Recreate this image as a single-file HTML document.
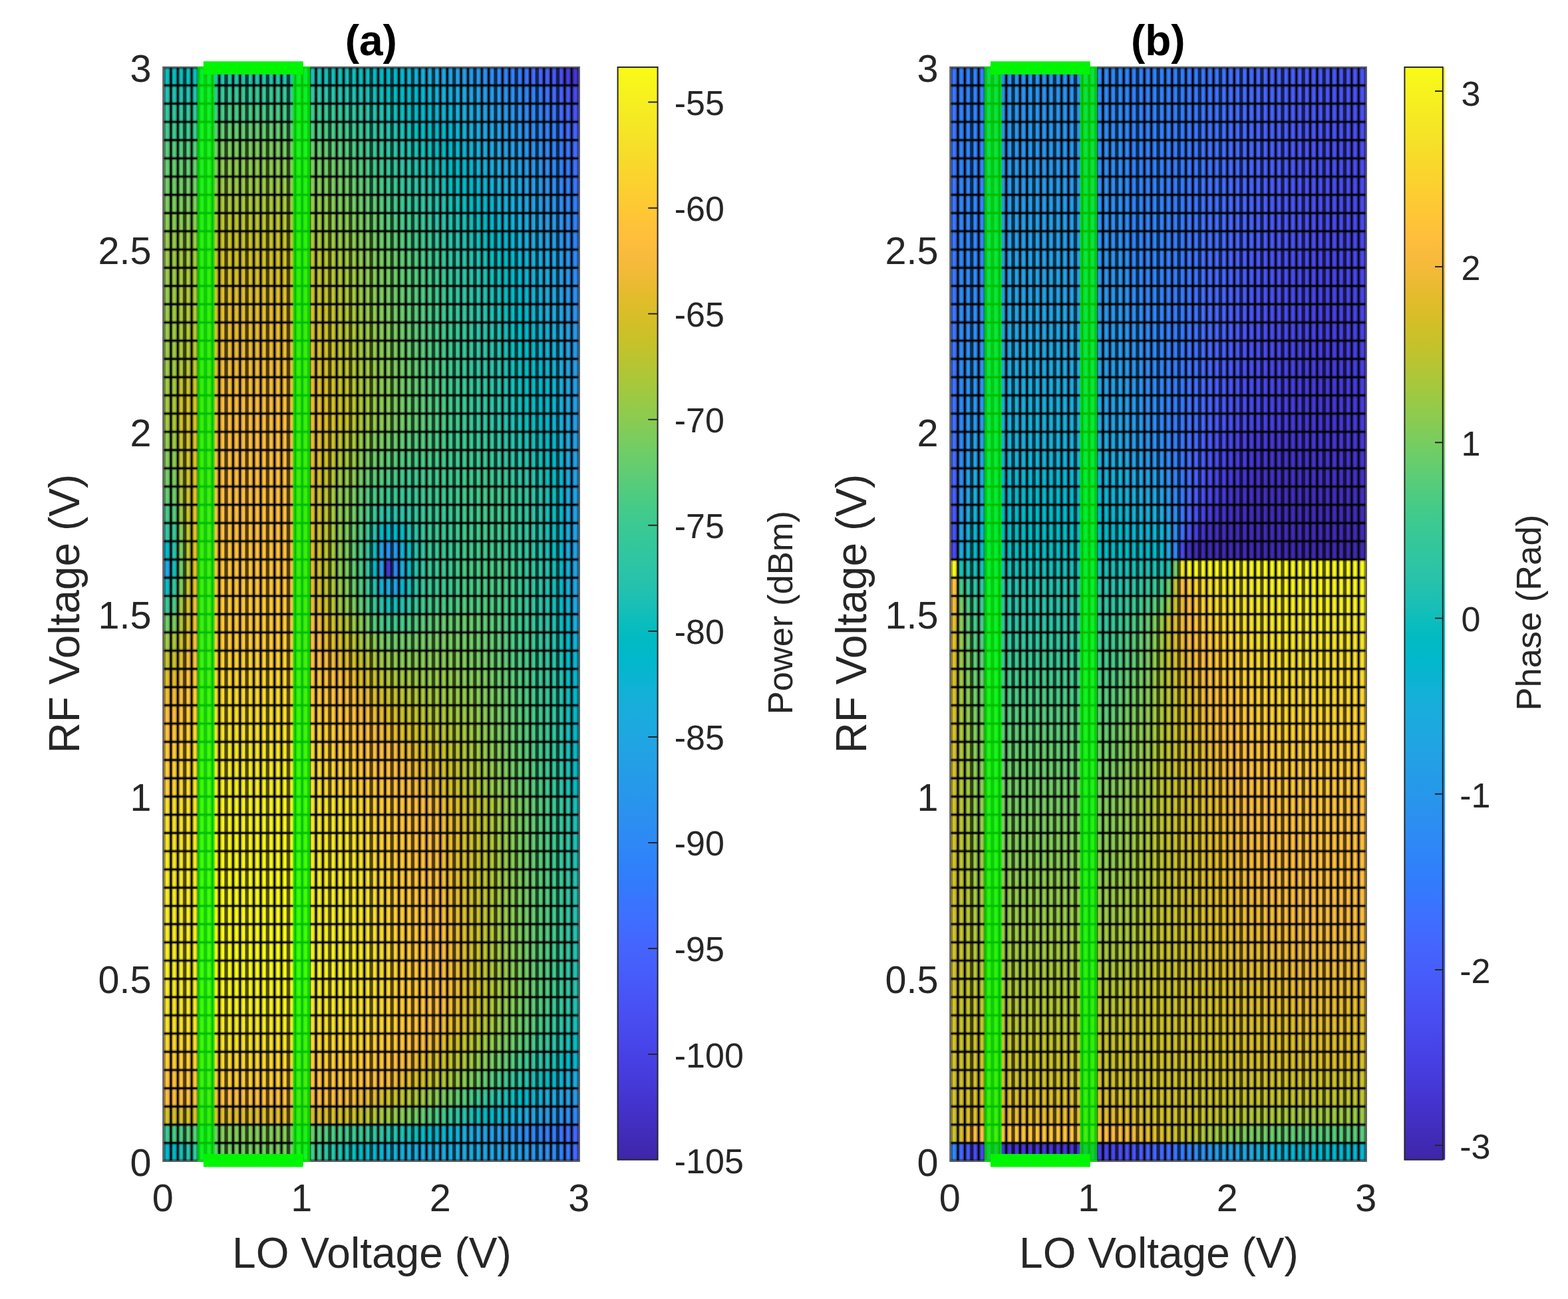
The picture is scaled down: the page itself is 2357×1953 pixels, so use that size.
<!DOCTYPE html>
<html lang="en"><head><meta charset="utf-8"><title>Power and phase vs LO / RF voltage</title>
<style>
html,body{margin:0;padding:0;background:#fff}
body{width:2357px;height:1953px;overflow:hidden}
svg{display:block}
text{font-family:"Liberation Sans", Arial, Helvetica, sans-serif;fill:#262626}
.c rect{width:10.9px;height:27.9px}
.vh{stroke:#000;stroke-opacity:.36;stroke-width:6;fill:none}
.hh{stroke:#000;stroke-opacity:.33;stroke-width:5.5;fill:none}
.vf{stroke:#000;stroke-opacity:.5;stroke-width:4.6;fill:none}
.vc{stroke:#000;stroke-width:2.3;fill:none}
.hc{stroke:#000;stroke-width:2.2;fill:none}
.bd{fill:none;stroke:#5a5a5a;stroke-width:2.2}
.cbd{fill:none;stroke:#262626;stroke-width:2}
.tk{stroke:#262626;stroke-width:2;fill:none}
.gv{fill:#00ff00;fill-opacity:.74}
.gh{fill:#00f500}
.t{font-size:57.5px}
.l{font-size:64px}
.ct{font-size:52px}
.cl{font-size:52.5px}
.ti{font-size:64px;font-weight:bold;fill:#000}
</style></head><body>
<svg xmlns="http://www.w3.org/2000/svg" width="2357" height="1953" viewBox="0 0 2357 1953">
<defs><linearGradient id="par" x1="0" y1="0" x2="0" y2="1"><stop offset="0%" stop-color="#f9fb15"/><stop offset="1.59%" stop-color="#f7f51b"/><stop offset="3.17%" stop-color="#f6ef20"/><stop offset="4.76%" stop-color="#f5e924"/><stop offset="6.35%" stop-color="#f5e327"/><stop offset="7.94%" stop-color="#f7dc2a"/><stop offset="9.52%" stop-color="#fad62d"/><stop offset="11.11%" stop-color="#fccf30"/><stop offset="12.7%" stop-color="#fec934"/><stop offset="14.29%" stop-color="#fec338"/><stop offset="15.87%" stop-color="#febe3c"/><stop offset="17.46%" stop-color="#f8ba3d"/><stop offset="19.05%" stop-color="#f0ba36"/><stop offset="20.63%" stop-color="#e6bb2d"/><stop offset="22.22%" stop-color="#dcbd29"/><stop offset="23.81%" stop-color="#d1bf27"/><stop offset="25.4%" stop-color="#c5c22a"/><stop offset="26.98%" stop-color="#b9c431"/><stop offset="28.57%" stop-color="#abc739"/><stop offset="30.16%" stop-color="#9dc943"/><stop offset="31.75%" stop-color="#8fcb4e"/><stop offset="33.33%" stop-color="#81cc59"/><stop offset="34.92%" stop-color="#72cd64"/><stop offset="36.51%" stop-color="#64cd6f"/><stop offset="38.1%" stop-color="#57cc7a"/><stop offset="39.68%" stop-color="#4acb84"/><stop offset="41.27%" stop-color="#3fca8e"/><stop offset="42.86%" stop-color="#37c897"/><stop offset="44.44%" stop-color="#31c69f"/><stop offset="46.03%" stop-color="#2cc4a7"/><stop offset="47.62%" stop-color="#24c1ae"/><stop offset="49.21%" stop-color="#19bfb6"/><stop offset="50.79%" stop-color="#0bbdbd"/><stop offset="52.38%" stop-color="#02bac3"/><stop offset="53.97%" stop-color="#01b8ca"/><stop offset="55.56%" stop-color="#08b5d0"/><stop offset="57.14%" stop-color="#12b1d6"/><stop offset="58.73%" stop-color="#18addb"/><stop offset="60.32%" stop-color="#1ca9df"/><stop offset="61.9%" stop-color="#20a5e3"/><stop offset="63.49%" stop-color="#23a0e5"/><stop offset="65.08%" stop-color="#259be8"/><stop offset="66.67%" stop-color="#2797eb"/><stop offset="68.25%" stop-color="#2b91ef"/><stop offset="69.84%" stop-color="#2d8cf3"/><stop offset="71.43%" stop-color="#2e87f7"/><stop offset="73.02%" stop-color="#2f81fa"/><stop offset="74.6%" stop-color="#327cfc"/><stop offset="76.19%" stop-color="#3875fe"/><stop offset="77.78%" stop-color="#3e6fff"/><stop offset="79.37%" stop-color="#4269fe"/><stop offset="80.95%" stop-color="#4563fd"/><stop offset="82.54%" stop-color="#465efb"/><stop offset="84.13%" stop-color="#4758f8"/><stop offset="85.71%" stop-color="#4852f4"/><stop offset="87.3%" stop-color="#484df0"/><stop offset="88.89%" stop-color="#4747eb"/><stop offset="90.48%" stop-color="#4741e5"/><stop offset="92.06%" stop-color="#463cde"/><stop offset="93.65%" stop-color="#4537d5"/><stop offset="95.24%" stop-color="#4332cb"/><stop offset="96.83%" stop-color="#422ec0"/><stop offset="98.41%" stop-color="#402ab4"/><stop offset="100%" stop-color="#3e26a8"/></linearGradient><clipPath id="clipa"><rect x="245.3" y="101" width="625.5" height="1644.8"/></clipPath><clipPath id="clipb"><rect x="1428.3" y="101" width="625.5" height="1644.8"/></clipPath></defs>
<rect width="2357" height="1953" fill="#fff"/>
<g class="c" transform="translate(246.5 101)">
<g transform="translate(0 0)"><rect x="0" fill="#0abdbd" style="width:52.32px"/><rect x="51.92" fill="#11beba"/><rect x="62.31" fill="#18bfb6"/><rect x="72.69" fill="#1fc0b2"/><rect x="83.08" fill="#24c2ae" style="width:93.86px"/><rect x="176.54" fill="#22c1af"/><rect x="186.93" fill="#20c1b1"/><rect x="197.31" fill="#1ec0b2"/><rect x="207.7" fill="#1bc0b4"/><rect x="218.08" fill="#19bfb5"/><rect x="228.47" fill="#16bfb7"/><rect x="238.85" fill="#15bfb7"/><rect x="249.24" fill="#14beb8"/><rect x="259.62" fill="#13beb9"/><rect x="270.01" fill="#12beb9"/><rect x="280.39" fill="#0ebdbb"/><rect x="290.78" fill="#0abdbd"/><rect x="301.16" fill="#07bcc0"/><rect x="311.55" fill="#04bbc2"/><rect x="321.93" fill="#02bac5"/><rect x="332.32" fill="#01b8c8"/><rect x="342.7" fill="#02b7cb"/><rect x="353.09" fill="#05b6ce"/><rect x="363.47" fill="#0ab4d2"/><rect x="373.86" fill="#11b1d6"/><rect x="384.24" fill="#15afd9"/><rect x="394.63" fill="#19addc"/><rect x="405.01" fill="#1ca9df"/><rect x="415.4" fill="#1fa6e2"/><rect x="425.78" fill="#21a3e3"/><rect x="436.17" fill="#23a0e5"/><rect x="446.55" fill="#259ce7"/><rect x="456.94" fill="#2699ea"/><rect x="467.32" fill="#2995ec"/><rect x="477.71" fill="#2b91ef"/><rect x="488.09" fill="#2d8df3"/><rect x="498.48" fill="#2d88f6"/><rect x="508.86" fill="#2e84f8"/><rect x="519.25" fill="#3080fb"/><rect x="529.63" fill="#347afd"/><rect x="540.02" fill="#3974fe"/><rect x="550.4" fill="#406cfe"/><rect x="560.79" fill="#4465fd"/><rect x="571.17" fill="#465ffb"/><rect x="581.56" fill="#4758f8"/><rect x="591.94" fill="#484ef1"/><rect x="602.33" fill="#473fe3"/><rect x="612.71" fill="#4536d3"/></g>
<g transform="translate(0 27.41)"><rect x="0" fill="#21c1b0" style="width:52.32px"/><rect x="51.92" fill="#28c3aa"/><rect x="62.31" fill="#2ec4a5"/><rect x="72.69" fill="#32c69e"/><rect x="83.08" fill="#37c898" style="width:93.86px"/><rect x="176.54" fill="#35c79a"/><rect x="186.93" fill="#34c79c"/><rect x="197.31" fill="#32c69e"/><rect x="207.7" fill="#31c6a0"/><rect x="218.08" fill="#2fc5a3"/><rect x="228.47" fill="#2ec4a5"/><rect x="238.85" fill="#2cc4a7"/><rect x="249.24" fill="#29c3a9"/><rect x="259.62" fill="#27c2ac"/><rect x="270.01" fill="#24c2ae"/><rect x="280.39" fill="#20c1b1"/><rect x="290.78" fill="#1cc0b4"/><rect x="301.16" fill="#17bfb6"/><rect x="311.55" fill="#12beb9"/><rect x="321.93" fill="#0bbdbc"/><rect x="332.32" fill="#07bcc0"/><rect x="342.7" fill="#02bbc3"/><rect x="353.09" fill="#01b9c6"/><rect x="363.47" fill="#01b8c9"/><rect x="373.86" fill="#04b6cd"/><rect x="384.24" fill="#08b4d0"/><rect x="394.63" fill="#0eb3d4"/><rect x="405.01" fill="#13b0d7"/><rect x="415.4" fill="#17aeda"/><rect x="425.78" fill="#1aabdd"/><rect x="436.17" fill="#1da9e0"/><rect x="446.55" fill="#1fa6e2"/><rect x="456.94" fill="#21a3e3"/><rect x="467.32" fill="#23a0e5"/><rect x="477.71" fill="#249de7"/><rect x="488.09" fill="#2699e9"/><rect x="498.48" fill="#2895ec"/><rect x="508.86" fill="#2b91ef"/><rect x="519.25" fill="#2d8df2"/><rect x="529.63" fill="#2d89f5"/><rect x="540.02" fill="#2e85f8"/><rect x="550.4" fill="#2f81fa"/><rect x="560.79" fill="#327cfc"/><rect x="571.17" fill="#3a73fe"/><rect x="581.56" fill="#416bfe"/><rect x="591.94" fill="#4660fc"/><rect x="602.33" fill="#4757f7"/><rect x="612.71" fill="#4848ec"/></g>
<g transform="translate(0 54.83)"><rect x="0" fill="#33c69d" style="width:52.32px"/><rect x="51.92" fill="#37c898"/><rect x="62.31" fill="#3bc992"/><rect x="72.69" fill="#41ca8c"/><rect x="83.08" fill="#48cb86" style="width:93.86px"/><rect x="176.54" fill="#46cb88"/><rect x="186.93" fill="#43ca8a"/><rect x="197.31" fill="#41ca8c"/><rect x="207.7" fill="#3fca8e"/><rect x="218.08" fill="#3dc990"/><rect x="228.47" fill="#3bc992"/><rect x="238.85" fill="#39c895"/><rect x="249.24" fill="#37c898"/><rect x="259.62" fill="#35c79a"/><rect x="270.01" fill="#33c69d"/><rect x="280.39" fill="#30c5a1"/><rect x="290.78" fill="#2ec4a5"/><rect x="301.16" fill="#2bc3a8"/><rect x="311.55" fill="#27c2ac"/><rect x="321.93" fill="#21c1b0"/><rect x="332.32" fill="#1ac0b5"/><rect x="342.7" fill="#12beb9"/><rect x="353.09" fill="#0abdbd"/><rect x="363.47" fill="#05bbc1"/><rect x="373.86" fill="#02bac5"/><rect x="384.24" fill="#01b8c8"/><rect x="394.63" fill="#03b7cc"/><rect x="405.01" fill="#07b5cf"/><rect x="415.4" fill="#0cb3d3"/><rect x="425.78" fill="#11b1d6"/><rect x="436.17" fill="#15afd9"/><rect x="446.55" fill="#19acdc"/><rect x="456.94" fill="#1ca9df"/><rect x="467.32" fill="#1fa6e1"/><rect x="477.71" fill="#21a3e3"/><rect x="488.09" fill="#249fe5"/><rect x="498.48" fill="#259ce7"/><rect x="508.86" fill="#2798ea"/><rect x="519.25" fill="#2994ed"/><rect x="529.63" fill="#2c90f0"/><rect x="540.02" fill="#2d8cf3"/><rect x="550.4" fill="#2d87f6"/><rect x="560.79" fill="#2e83f9"/><rect x="571.17" fill="#327cfc"/><rect x="581.56" fill="#3974fe"/><rect x="591.94" fill="#416bfe"/><rect x="602.33" fill="#4563fd"/><rect x="612.71" fill="#4853f5"/></g>
<g transform="translate(0 82.24)"><rect x="0" fill="#3eca8f" style="width:52.32px"/><rect x="51.92" fill="#46cb88"/><rect x="62.31" fill="#50cc80"/><rect x="72.69" fill="#5acc78"/><rect x="83.08" fill="#64cd6f" style="width:93.86px"/><rect x="176.54" fill="#60cd72"/><rect x="186.93" fill="#5ccc76"/><rect x="197.31" fill="#58cc79"/><rect x="207.7" fill="#54cc7d"/><rect x="218.08" fill="#50cc80"/><rect x="228.47" fill="#4ccb83"/><rect x="238.85" fill="#49cb85"/><rect x="249.24" fill="#46cb88"/><rect x="259.62" fill="#44ca8a"/><rect x="270.01" fill="#41ca8c"/><rect x="280.39" fill="#3bc992"/><rect x="290.78" fill="#37c898"/><rect x="301.16" fill="#33c69d"/><rect x="311.55" fill="#2fc5a2"/><rect x="321.93" fill="#2cc4a7"/><rect x="332.32" fill="#27c2ac"/><rect x="342.7" fill="#21c1b0"/><rect x="353.09" fill="#1ac0b5"/><rect x="363.47" fill="#12beb9"/><rect x="373.86" fill="#0abdbd"/><rect x="384.24" fill="#04bbc2"/><rect x="394.63" fill="#01b9c6"/><rect x="405.01" fill="#01b8c9"/><rect x="415.4" fill="#04b6cd"/><rect x="425.78" fill="#08b4d0"/><rect x="436.17" fill="#0eb3d4"/><rect x="446.55" fill="#14b0d8"/><rect x="456.94" fill="#18addb"/><rect x="467.32" fill="#1baade"/><rect x="477.71" fill="#1ea7e1"/><rect x="488.09" fill="#21a4e3"/><rect x="498.48" fill="#23a0e5"/><rect x="508.86" fill="#259ce7"/><rect x="519.25" fill="#2699ea"/><rect x="529.63" fill="#2995ec"/><rect x="540.02" fill="#2b91ef"/><rect x="550.4" fill="#2d8df3"/><rect x="560.79" fill="#2d88f6"/><rect x="571.17" fill="#2e84f8"/><rect x="581.56" fill="#3080fb"/><rect x="591.94" fill="#3876fe"/><rect x="602.33" fill="#406cfe"/><rect x="612.71" fill="#4561fc"/></g>
<g transform="translate(0 109.65)"><rect x="0" fill="#54cc7d" style="width:52.32px"/><rect x="51.92" fill="#5dcc75"/><rect x="62.31" fill="#66cd6d"/><rect x="72.69" fill="#70cd65"/><rect x="83.08" fill="#7acc5d" style="width:93.86px"/><rect x="176.54" fill="#76cc60"/><rect x="186.93" fill="#72cd63"/><rect x="197.31" fill="#6fcd66"/><rect x="207.7" fill="#6bcd69"/><rect x="218.08" fill="#67cd6c"/><rect x="228.47" fill="#64cd6f"/><rect x="238.85" fill="#60cd72"/><rect x="249.24" fill="#5ccc76"/><rect x="259.62" fill="#58cc79"/><rect x="270.01" fill="#54cc7d"/><rect x="280.39" fill="#4bcb84"/><rect x="290.78" fill="#43ca8b"/><rect x="301.16" fill="#3cc991"/><rect x="311.55" fill="#37c898"/><rect x="321.93" fill="#33c69d"/><rect x="332.32" fill="#2fc5a2"/><rect x="342.7" fill="#2cc4a7"/><rect x="353.09" fill="#27c2ac"/><rect x="363.47" fill="#21c1b0"/><rect x="373.86" fill="#1ac0b5"/><rect x="384.24" fill="#12beb9"/><rect x="394.63" fill="#0abdbd"/><rect x="405.01" fill="#04bbc2"/><rect x="415.4" fill="#01b9c6"/><rect x="425.78" fill="#01b8ca"/><rect x="436.17" fill="#05b6ce"/><rect x="446.55" fill="#0bb3d2"/><rect x="456.94" fill="#12b1d6"/><rect x="467.32" fill="#17aeda"/><rect x="477.71" fill="#1aabdd"/><rect x="488.09" fill="#1da8e0"/><rect x="498.48" fill="#1fa5e2"/><rect x="508.86" fill="#22a2e4"/><rect x="519.25" fill="#249fe6"/><rect x="529.63" fill="#259be8"/><rect x="540.02" fill="#2797eb"/><rect x="550.4" fill="#2a93ee"/><rect x="560.79" fill="#2c8ff1"/><rect x="571.17" fill="#2d8af4"/><rect x="581.56" fill="#2e85f8"/><rect x="591.94" fill="#317efb"/><rect x="602.33" fill="#3876fe"/><rect x="612.71" fill="#416bfe"/></g>
<g transform="translate(0 137.07)"><rect x="0" fill="#64cd6f" style="width:52.32px"/><rect x="51.92" fill="#6ecd67"/><rect x="62.31" fill="#78cc5f"/><rect x="72.69" fill="#83cc57"/><rect x="83.08" fill="#8dcb4f" style="width:93.86px"/><rect x="176.54" fill="#89cb52"/><rect x="186.93" fill="#85cb55"/><rect x="197.31" fill="#81cc58"/><rect x="207.7" fill="#7dcc5b"/><rect x="218.08" fill="#7acc5e"/><rect x="228.47" fill="#76cc61"/><rect x="238.85" fill="#71cd64"/><rect x="249.24" fill="#6dcd68"/><rect x="259.62" fill="#68cd6b"/><rect x="270.01" fill="#64cd6f"/><rect x="280.39" fill="#5bcc77"/><rect x="290.78" fill="#52cc7e"/><rect x="301.16" fill="#49cb85"/><rect x="311.55" fill="#41ca8c"/><rect x="321.93" fill="#3bc993"/><rect x="332.32" fill="#36c799"/><rect x="342.7" fill="#32c69f"/><rect x="353.09" fill="#2ec4a5"/><rect x="363.47" fill="#29c3a9"/><rect x="373.86" fill="#24c2ae"/><rect x="384.24" fill="#1ec0b2"/><rect x="394.63" fill="#16bfb7"/><rect x="405.01" fill="#0ebdbb"/><rect x="415.4" fill="#07bcc0"/><rect x="425.78" fill="#02bac4"/><rect x="436.17" fill="#01b8c8"/><rect x="446.55" fill="#04b6cc"/><rect x="456.94" fill="#09b4d1"/><rect x="467.32" fill="#10b2d5"/><rect x="477.71" fill="#15afd9"/><rect x="488.09" fill="#19acdc"/><rect x="498.48" fill="#1ca9df"/><rect x="508.86" fill="#1fa6e1"/><rect x="519.25" fill="#21a3e3"/><rect x="529.63" fill="#249fe5"/><rect x="540.02" fill="#259ce7"/><rect x="550.4" fill="#2798ea"/><rect x="560.79" fill="#2994ed"/><rect x="571.17" fill="#2c8ff1"/><rect x="581.56" fill="#2d8af4"/><rect x="591.94" fill="#2e83f9"/><rect x="602.33" fill="#327cfc"/><rect x="612.71" fill="#3d70ff"/></g>
<g transform="translate(0 164.48)"><rect x="0" fill="#6fcd66" style="width:52.32px"/><rect x="51.92" fill="#7acc5e"/><rect x="62.31" fill="#85cb56"/><rect x="72.69" fill="#90ca4d"/><rect x="83.08" fill="#9ac945" style="width:93.86px"/><rect x="176.54" fill="#97ca48"/><rect x="186.93" fill="#93ca4b"/><rect x="197.31" fill="#8fcb4e"/><rect x="207.7" fill="#8bcb51"/><rect x="218.08" fill="#88cb53"/><rect x="228.47" fill="#84cc56"/><rect x="238.85" fill="#7ecc5a"/><rect x="249.24" fill="#79cc5e"/><rect x="259.62" fill="#74cc62"/><rect x="270.01" fill="#6fcd66"/><rect x="280.39" fill="#66cd6d"/><rect x="290.78" fill="#5ecc74"/><rect x="301.16" fill="#56cc7b"/><rect x="311.55" fill="#4ecc82"/><rect x="321.93" fill="#45cb89"/><rect x="332.32" fill="#3eca8f"/><rect x="342.7" fill="#38c896"/><rect x="353.09" fill="#34c79c"/><rect x="363.47" fill="#30c5a1"/><rect x="373.86" fill="#2dc4a6"/><rect x="384.24" fill="#28c3aa"/><rect x="394.63" fill="#23c1af"/><rect x="405.01" fill="#1cc0b4"/><rect x="415.4" fill="#14beb8"/><rect x="425.78" fill="#0bbdbc"/><rect x="436.17" fill="#05bbc1"/><rect x="446.55" fill="#01bac5"/><rect x="456.94" fill="#01b8ca"/><rect x="467.32" fill="#06b5ce"/><rect x="477.71" fill="#0cb3d3"/><rect x="488.09" fill="#13b1d7"/><rect x="498.48" fill="#17aeda"/><rect x="508.86" fill="#1babde"/><rect x="519.25" fill="#1da8e0"/><rect x="529.63" fill="#20a4e3"/><rect x="540.02" fill="#23a0e5"/><rect x="550.4" fill="#259ce7"/><rect x="560.79" fill="#2699ea"/><rect x="571.17" fill="#2994ed"/><rect x="581.56" fill="#2c8ff1"/><rect x="591.94" fill="#2d88f6"/><rect x="602.33" fill="#2f81fa"/><rect x="612.71" fill="#3876fe"/></g>
<g transform="translate(0 191.89)"><rect x="0" fill="#7acc5d" style="width:52.32px"/><rect x="51.92" fill="#86cb55"/><rect x="62.31" fill="#91ca4c"/><rect x="72.69" fill="#9dc943"/><rect x="83.08" fill="#a8c73b" style="width:93.86px"/><rect x="176.54" fill="#a4c83e"/><rect x="186.93" fill="#a0c841"/><rect x="197.31" fill="#9dc943"/><rect x="207.7" fill="#99c946"/><rect x="218.08" fill="#95ca49"/><rect x="228.47" fill="#91ca4c"/><rect x="238.85" fill="#8ccb50"/><rect x="249.24" fill="#86cb55"/><rect x="259.62" fill="#80cc59"/><rect x="270.01" fill="#7acc5d"/><rect x="280.39" fill="#72cd63"/><rect x="290.78" fill="#6acd6a"/><rect x="301.16" fill="#63cd70"/><rect x="311.55" fill="#5ccc76"/><rect x="321.93" fill="#53cc7e"/><rect x="332.32" fill="#4acb85"/><rect x="342.7" fill="#42ca8c"/><rect x="353.09" fill="#3bc992"/><rect x="363.47" fill="#37c898"/><rect x="373.86" fill="#33c69d"/><rect x="384.24" fill="#2fc5a2"/><rect x="394.63" fill="#2cc4a7"/><rect x="405.01" fill="#27c2ac"/><rect x="415.4" fill="#21c1b0"/><rect x="425.78" fill="#1ac0b5"/><rect x="436.17" fill="#12beb9"/><rect x="446.55" fill="#09bcbe"/><rect x="456.94" fill="#02bbc3"/><rect x="467.32" fill="#01b9c7"/><rect x="477.71" fill="#03b7cc"/><rect x="488.09" fill="#08b4d0"/><rect x="498.48" fill="#0fb2d5"/><rect x="508.86" fill="#15afd8"/><rect x="519.25" fill="#19addc"/><rect x="529.63" fill="#1da9e0"/><rect x="540.02" fill="#1fa5e2"/><rect x="550.4" fill="#22a1e4"/><rect x="560.79" fill="#249de7"/><rect x="571.17" fill="#2699ea"/><rect x="581.56" fill="#2994ed"/><rect x="591.94" fill="#2d8df2"/><rect x="602.33" fill="#2e87f7"/><rect x="612.71" fill="#327cfc"/></g>
<g transform="translate(0 219.31)"><rect x="0" fill="#88cb53" style="width:52.32px"/><rect x="51.92" fill="#95ca49"/><rect x="62.31" fill="#a1c840"/><rect x="72.69" fill="#adc638"/><rect x="83.08" fill="#b9c431" style="width:93.86px"/><rect x="176.54" fill="#b4c534"/><rect x="186.93" fill="#afc636"/><rect x="197.31" fill="#abc739"/><rect x="207.7" fill="#a6c83c"/><rect x="218.08" fill="#a1c840"/><rect x="228.47" fill="#9dc943"/><rect x="238.85" fill="#97ca48"/><rect x="249.24" fill="#91ca4c"/><rect x="259.62" fill="#8ccb50"/><rect x="270.01" fill="#86cb55"/><rect x="280.39" fill="#7ecc5a"/><rect x="290.78" fill="#77cc60"/><rect x="301.16" fill="#6fcd66"/><rect x="311.55" fill="#68cd6b"/><rect x="321.93" fill="#5fcd73"/><rect x="332.32" fill="#57cc7a"/><rect x="342.7" fill="#4ecc81"/><rect x="353.09" fill="#46cb88"/><rect x="363.47" fill="#3fca8e"/><rect x="373.86" fill="#39c994"/><rect x="384.24" fill="#35c79a"/><rect x="394.63" fill="#31c6a0"/><rect x="405.01" fill="#2ec4a5"/><rect x="415.4" fill="#29c3a9"/><rect x="425.78" fill="#24c2ae"/><rect x="436.17" fill="#1ec0b2"/><rect x="446.55" fill="#15bfb7"/><rect x="456.94" fill="#0bbdbc"/><rect x="467.32" fill="#05bbc1"/><rect x="477.71" fill="#01b9c6"/><rect x="488.09" fill="#02b7cb"/><rect x="498.48" fill="#06b5cf"/><rect x="508.86" fill="#0db3d3"/><rect x="519.25" fill="#13b0d7"/><rect x="529.63" fill="#19addc"/><rect x="540.02" fill="#1ca9df"/><rect x="550.4" fill="#1fa5e2"/><rect x="560.79" fill="#22a1e4"/><rect x="571.17" fill="#249de7"/><rect x="581.56" fill="#2699ea"/><rect x="591.94" fill="#2b92ee"/><rect x="602.33" fill="#2d8bf4"/><rect x="612.71" fill="#3080fb"/></g>
<g transform="translate(0 246.72)"><rect x="0" fill="#96ca48" style="width:52.32px"/><rect x="51.92" fill="#a3c83f"/><rect x="62.31" fill="#b0c636"/><rect x="72.69" fill="#bdc42f"/><rect x="83.08" fill="#c8c129" style="width:93.86px"/><rect x="176.54" fill="#c3c22b"/><rect x="186.93" fill="#bec32e"/><rect x="197.31" fill="#b9c431"/><rect x="207.7" fill="#b3c534"/><rect x="218.08" fill="#adc638"/><rect x="228.47" fill="#a8c73b"/><rect x="238.85" fill="#a2c83f"/><rect x="249.24" fill="#9dc943"/><rect x="259.62" fill="#97ca48"/><rect x="270.01" fill="#91ca4c"/><rect x="280.39" fill="#8bcb51"/><rect x="290.78" fill="#84cc56"/><rect x="301.16" fill="#7dcc5c"/><rect x="311.55" fill="#76cc61"/><rect x="321.93" fill="#6dcd68"/><rect x="332.32" fill="#64cd6f"/><rect x="342.7" fill="#5ccc76"/><rect x="353.09" fill="#54cc7d"/><rect x="363.47" fill="#4bcb84"/><rect x="373.86" fill="#43ca8b"/><rect x="384.24" fill="#3cc991"/><rect x="394.63" fill="#37c898"/><rect x="405.01" fill="#33c69d"/><rect x="415.4" fill="#2fc5a2"/><rect x="425.78" fill="#2cc4a7"/><rect x="436.17" fill="#27c2ac"/><rect x="446.55" fill="#20c1b1"/><rect x="456.94" fill="#18bfb6"/><rect x="467.32" fill="#0fbebb"/><rect x="477.71" fill="#07bcc0"/><rect x="488.09" fill="#02bac4"/><rect x="498.48" fill="#01b8c9"/><rect x="508.86" fill="#05b6cd"/><rect x="519.25" fill="#0ab4d2"/><rect x="529.63" fill="#13b1d7"/><rect x="540.02" fill="#18addb"/><rect x="550.4" fill="#1caadf"/><rect x="560.79" fill="#1fa6e2"/><rect x="571.17" fill="#22a1e4"/><rect x="581.56" fill="#249de7"/><rect x="591.94" fill="#2796eb"/><rect x="602.33" fill="#2c8ff1"/><rect x="612.71" fill="#2e83f9"/></g>
<g transform="translate(0 274.13)"><rect x="0" fill="#9ac945" style="width:21.17px"/><rect x="20.77" fill="#a3c83f" style="width:31.55px"/><rect x="51.92" fill="#afc637"/><rect x="62.31" fill="#bbc430"/><rect x="72.69" fill="#c5c22a"/><rect x="83.08" fill="#d0c027" style="width:93.86px"/><rect x="176.54" fill="#cec028"/><rect x="186.93" fill="#ccc028"/><rect x="197.31" fill="#c8c129"/><rect x="207.7" fill="#c4c22a"/><rect x="218.08" fill="#c1c32d"/><rect x="228.47" fill="#bbc42f"/><rect x="238.85" fill="#b6c532"/><rect x="249.24" fill="#b0c636"/><rect x="259.62" fill="#a8c73b"/><rect x="270.01" fill="#9fc942"/><rect x="280.39" fill="#98c947"/><rect x="290.78" fill="#91ca4c"/><rect x="301.16" fill="#88cb53"/><rect x="311.55" fill="#7fcc5a"/><rect x="321.93" fill="#78cc5f"/><rect x="332.32" fill="#71cd64"/><rect x="342.7" fill="#68cd6b"/><rect x="353.09" fill="#60cd72"/><rect x="363.47" fill="#58cc79"/><rect x="373.86" fill="#50cc80"/><rect x="384.24" fill="#46cb88"/><rect x="394.63" fill="#3eca8f"/><rect x="405.01" fill="#39c895"/><rect x="415.4" fill="#35c79a"/><rect x="425.78" fill="#31c6a0"/><rect x="436.17" fill="#2ec4a5"/><rect x="446.55" fill="#29c3a9"/><rect x="456.94" fill="#24c2ae"/><rect x="467.32" fill="#1ec0b2"/><rect x="477.71" fill="#16bfb7"/><rect x="488.09" fill="#0bbdbc"/><rect x="498.48" fill="#04bbc2"/><rect x="508.86" fill="#01b9c7"/><rect x="519.25" fill="#03b7cc"/><rect x="529.63" fill="#09b4d1"/><rect x="540.02" fill="#11b1d6"/><rect x="550.4" fill="#16afda"/><rect x="560.79" fill="#1aabdd"/><rect x="571.17" fill="#1ea7e1"/><rect x="581.56" fill="#21a3e3"/><rect x="591.94" fill="#249de7"/><rect x="602.33" fill="#2994ed"/><rect x="612.71" fill="#2d88f6"/></g>
<g transform="translate(0 301.55)"><rect x="0" fill="#98c947"/><rect x="10.38" fill="#9ac945"/><rect x="20.77" fill="#a8c73b" style="width:31.55px"/><rect x="51.92" fill="#b4c533"/><rect x="62.31" fill="#c1c32d"/><rect x="72.69" fill="#ccc028"/><rect x="83.08" fill="#d7be28" style="width:93.86px"/><rect x="176.54" fill="#d4bf28"/><rect x="186.93" fill="#d2bf27"/><rect x="197.31" fill="#cec028"/><rect x="207.7" fill="#cac129"/><rect x="218.08" fill="#c6c22a"/><rect x="228.47" fill="#c1c32c"/><rect x="238.85" fill="#bcc42f"/><rect x="249.24" fill="#b6c532"/><rect x="259.62" fill="#aec637"/><rect x="270.01" fill="#a5c83d"/><rect x="280.39" fill="#9ec942"/><rect x="290.78" fill="#96ca48"/><rect x="301.16" fill="#8dcb4f"/><rect x="311.55" fill="#84cc56"/><rect x="321.93" fill="#7ccc5c"/><rect x="332.32" fill="#73cd63"/><rect x="342.7" fill="#6acd6a"/><rect x="353.09" fill="#62cd71"/><rect x="363.47" fill="#5acc78"/><rect x="373.86" fill="#52cc7e"/><rect x="384.24" fill="#49cb85"/><rect x="394.63" fill="#41ca8c"/><rect x="405.01" fill="#3bc992"/><rect x="415.4" fill="#37c898"/><rect x="425.78" fill="#33c69d"/><rect x="436.17" fill="#2fc5a2"/><rect x="446.55" fill="#2cc4a6"/><rect x="456.94" fill="#28c3aa"/><rect x="467.32" fill="#23c1af"/><rect x="477.71" fill="#1cc0b4"/><rect x="488.09" fill="#12beb9"/><rect x="498.48" fill="#08bcbe"/><rect x="508.86" fill="#02bac4"/><rect x="519.25" fill="#01b8c9"/><rect x="529.63" fill="#05b6ce"/><rect x="540.02" fill="#0cb3d3"/><rect x="550.4" fill="#13b0d7"/><rect x="560.79" fill="#18addb"/><rect x="571.17" fill="#1ca9df"/><rect x="581.56" fill="#1fa5e2"/><rect x="591.94" fill="#249fe5"/><rect x="602.33" fill="#2796eb"/><rect x="612.71" fill="#2d8cf3"/></g>
<g transform="translate(0 328.96)"><rect x="0" fill="#96ca48"/><rect x="10.38" fill="#9ac945"/><rect x="20.77" fill="#acc738" style="width:31.55px"/><rect x="51.92" fill="#bac430"/><rect x="62.31" fill="#c6c22a"/><rect x="72.69" fill="#d2bf27"/><rect x="83.08" fill="#debd29" style="width:93.86px"/><rect x="176.54" fill="#dabd28"/><rect x="186.93" fill="#d7be28"/><rect x="197.31" fill="#d3bf27"/><rect x="207.7" fill="#d0c027"/><rect x="218.08" fill="#ccc028"/><rect x="228.47" fill="#c7c12a"/><rect x="238.85" fill="#c2c22c"/><rect x="249.24" fill="#bdc42f"/><rect x="259.62" fill="#b4c533"/><rect x="270.01" fill="#acc738"/><rect x="280.39" fill="#a3c83f"/><rect x="290.78" fill="#9ac945"/><rect x="301.16" fill="#91ca4c"/><rect x="311.55" fill="#88cb53"/><rect x="321.93" fill="#7fcc5a"/><rect x="332.32" fill="#76cc61"/><rect x="342.7" fill="#6dcd68"/><rect x="353.09" fill="#64cd6f"/><rect x="363.47" fill="#5ccc76"/><rect x="373.86" fill="#54cc7d"/><rect x="384.24" fill="#4ccb83"/><rect x="394.63" fill="#44cb89"/><rect x="405.01" fill="#3eca8f"/><rect x="415.4" fill="#39c895"/><rect x="425.78" fill="#35c79a"/><rect x="436.17" fill="#31c6a0"/><rect x="446.55" fill="#2fc5a3"/><rect x="456.94" fill="#2cc4a7"/><rect x="467.32" fill="#27c2ac"/><rect x="477.71" fill="#21c1b0"/><rect x="488.09" fill="#18bfb6"/><rect x="498.48" fill="#0ebdbb"/><rect x="508.86" fill="#05bbc1"/><rect x="519.25" fill="#01b9c6"/><rect x="529.63" fill="#02b7cb"/><rect x="540.02" fill="#07b5d0"/><rect x="550.4" fill="#0fb2d5"/><rect x="560.79" fill="#15afd9"/><rect x="571.17" fill="#1aabdd"/><rect x="581.56" fill="#1ea7e1"/><rect x="591.94" fill="#22a1e4"/><rect x="602.33" fill="#2699ea"/><rect x="612.71" fill="#2c8ff1"/></g>
<g transform="translate(0 356.37)"><rect x="0" fill="#98c947"/><rect x="10.38" fill="#9dc943"/><rect x="20.77" fill="#aac73a"/><rect x="31.15" fill="#aec637"/><rect x="41.54" fill="#b0c636"/><rect x="51.92" fill="#bec32e"/><rect x="62.31" fill="#cbc129"/><rect x="72.69" fill="#d7be28"/><rect x="83.08" fill="#e2bc2b" style="width:93.86px"/><rect x="176.54" fill="#e0bc2a"/><rect x="186.93" fill="#ddbd29"/><rect x="197.31" fill="#dabd28"/><rect x="207.7" fill="#d6be28"/><rect x="218.08" fill="#d3bf27"/><rect x="228.47" fill="#cdc028"/><rect x="238.85" fill="#c7c12a"/><rect x="249.24" fill="#c1c32d"/><rect x="259.62" fill="#b9c431"/><rect x="270.01" fill="#b0c636"/><rect x="280.39" fill="#a8c73b"/><rect x="290.78" fill="#9fc942"/><rect x="301.16" fill="#96ca48"/><rect x="311.55" fill="#8dcb4f"/><rect x="321.93" fill="#84cc56"/><rect x="332.32" fill="#7acc5d"/><rect x="342.7" fill="#71cd64"/><rect x="353.09" fill="#68cd6b"/><rect x="363.47" fill="#60cd72"/><rect x="373.86" fill="#58cc79"/><rect x="384.24" fill="#50cc80"/><rect x="394.63" fill="#48cb86"/><rect x="405.01" fill="#42ca8c"/><rect x="415.4" fill="#3dc991"/><rect x="425.78" fill="#38c896"/><rect x="436.17" fill="#34c79c"/><rect x="446.55" fill="#31c6a0"/><rect x="456.94" fill="#2fc5a3"/><rect x="467.32" fill="#2bc3a8"/><rect x="477.71" fill="#26c2ad"/><rect x="488.09" fill="#1fc0b2"/><rect x="498.48" fill="#16bfb7"/><rect x="508.86" fill="#0bbdbc"/><rect x="519.25" fill="#04bbc2"/><rect x="529.63" fill="#01b9c7"/><rect x="540.02" fill="#03b7cc"/><rect x="550.4" fill="#08b4d0"/><rect x="560.79" fill="#0fb2d5"/><rect x="571.17" fill="#16afda"/><rect x="581.56" fill="#1babde"/><rect x="591.94" fill="#1fa5e2"/><rect x="602.33" fill="#259ce7"/><rect x="612.71" fill="#2a93ee"/></g>
<g transform="translate(0 383.79)"><rect x="0" fill="#9ac945"/><rect x="10.38" fill="#9fc942"/><rect x="20.77" fill="#a8c73b"/><rect x="31.15" fill="#b0c636"/><rect x="41.54" fill="#b4c533"/><rect x="51.92" fill="#c3c22b"/><rect x="62.31" fill="#d0c027"/><rect x="72.69" fill="#dcbd29"/><rect x="83.08" fill="#e7bb2e" style="width:93.86px"/><rect x="176.54" fill="#e5bb2c"/><rect x="186.93" fill="#e2bc2b"/><rect x="197.31" fill="#e0bc2a"/><rect x="207.7" fill="#ddbd29"/><rect x="218.08" fill="#dabd28"/><rect x="228.47" fill="#d3bf27"/><rect x="238.85" fill="#ccc028"/><rect x="249.24" fill="#c4c22a"/><rect x="259.62" fill="#bdc42f"/><rect x="270.01" fill="#b4c533"/><rect x="280.39" fill="#acc738"/><rect x="290.78" fill="#a3c83f"/><rect x="301.16" fill="#9ac945"/><rect x="311.55" fill="#91ca4c"/><rect x="321.93" fill="#88cb53"/><rect x="332.32" fill="#7fcc5a"/><rect x="342.7" fill="#76cc61"/><rect x="353.09" fill="#6dcd68"/><rect x="363.47" fill="#64cd6f"/><rect x="373.86" fill="#5ccc76"/><rect x="384.24" fill="#54cc7d"/><rect x="394.63" fill="#4ccb83"/><rect x="405.01" fill="#46cb88"/><rect x="415.4" fill="#41ca8c"/><rect x="425.78" fill="#3bc992"/><rect x="436.17" fill="#37c898"/><rect x="446.55" fill="#34c79c"/><rect x="456.94" fill="#31c6a0"/><rect x="467.32" fill="#2ec4a5"/><rect x="477.71" fill="#29c3a9"/><rect x="488.09" fill="#24c2ae"/><rect x="498.48" fill="#1ec0b2"/><rect x="508.86" fill="#14beb8"/><rect x="519.25" fill="#0abdbd"/><rect x="529.63" fill="#02bbc3"/><rect x="540.02" fill="#01b8c8"/><rect x="550.4" fill="#03b7cc"/><rect x="560.79" fill="#07b5d0"/><rect x="571.17" fill="#11b1d6"/><rect x="581.56" fill="#17aeda"/><rect x="591.94" fill="#1da9e0"/><rect x="602.33" fill="#23a0e5"/><rect x="612.71" fill="#2797eb"/></g>
<g transform="translate(0 411.2)"><rect x="0" fill="#9ac945"/><rect x="10.38" fill="#9fc942"/><rect x="20.77" fill="#acc738"/><rect x="31.15" fill="#b3c534"/><rect x="41.54" fill="#b9c431"/><rect x="51.92" fill="#c7c12a"/><rect x="62.31" fill="#d4bf28"/><rect x="72.69" fill="#e0bc2b"/><rect x="83.08" fill="#ebba32" style="width:93.86px"/><rect x="176.54" fill="#e9bb30"/><rect x="186.93" fill="#e6bb2d"/><rect x="197.31" fill="#e3bb2c"/><rect x="207.7" fill="#e0bc2b"/><rect x="218.08" fill="#debd29"/><rect x="228.47" fill="#d7be28"/><rect x="238.85" fill="#d0c027"/><rect x="249.24" fill="#c8c129"/><rect x="259.62" fill="#c1c32d"/><rect x="270.01" fill="#b9c431"/><rect x="280.39" fill="#afc637"/><rect x="290.78" fill="#a5c83d"/><rect x="301.16" fill="#9dc943"/><rect x="311.55" fill="#94ca4a"/><rect x="321.93" fill="#8bcb51"/><rect x="332.32" fill="#81cc58"/><rect x="342.7" fill="#78cc5f"/><rect x="353.09" fill="#6fcd66"/><rect x="363.47" fill="#66cd6d"/><rect x="373.86" fill="#5ecc74"/><rect x="384.24" fill="#56cc7b"/><rect x="394.63" fill="#4ecc82"/><rect x="405.01" fill="#48cb86"/><rect x="415.4" fill="#43ca8b"/><rect x="425.78" fill="#3dc990"/><rect x="436.17" fill="#39c895"/><rect x="446.55" fill="#35c79a"/><rect x="456.94" fill="#32c69e"/><rect x="467.32" fill="#2fc5a3"/><rect x="477.71" fill="#2cc4a7"/><rect x="488.09" fill="#27c2ac"/><rect x="498.48" fill="#21c1b0"/><rect x="508.86" fill="#18bfb6"/><rect x="519.25" fill="#0ebdbb"/><rect x="529.63" fill="#06bcc0"/><rect x="540.02" fill="#02bac5"/><rect x="550.4" fill="#01b8c9"/><rect x="560.79" fill="#05b6ce"/><rect x="571.17" fill="#0db3d3"/><rect x="581.56" fill="#14b0d8"/><rect x="591.94" fill="#1babde"/><rect x="602.33" fill="#22a2e4"/><rect x="612.71" fill="#2699ea"/></g>
<g transform="translate(0 438.61)"><rect x="0" fill="#9ac945"/><rect x="10.38" fill="#9fc942"/><rect x="20.77" fill="#b0c636"/><rect x="31.15" fill="#b6c532"/><rect x="41.54" fill="#bdc42f"/><rect x="51.92" fill="#cbc129"/><rect x="62.31" fill="#d9be28"/><rect x="72.69" fill="#e5bb2d"/><rect x="83.08" fill="#f0ba36" style="width:93.86px"/><rect x="176.54" fill="#edba33"/><rect x="186.93" fill="#eaba31"/><rect x="197.31" fill="#e7bb2e"/><rect x="207.7" fill="#e4bb2c"/><rect x="218.08" fill="#e1bc2b"/><rect x="228.47" fill="#dabd28"/><rect x="238.85" fill="#d3bf27"/><rect x="249.24" fill="#ccc028"/><rect x="259.62" fill="#c4c22a"/><rect x="270.01" fill="#bdc42f"/><rect x="280.39" fill="#b2c535"/><rect x="290.78" fill="#a8c73b"/><rect x="301.16" fill="#9fc942"/><rect x="311.55" fill="#96ca48"/><rect x="321.93" fill="#8dcb4f"/><rect x="332.32" fill="#84cc56"/><rect x="342.7" fill="#7acc5d"/><rect x="353.09" fill="#71cd64"/><rect x="363.47" fill="#68cd6b"/><rect x="373.86" fill="#60cd72"/><rect x="384.24" fill="#58cc79"/><rect x="394.63" fill="#50cc80"/><rect x="405.01" fill="#4acb85"/><rect x="415.4" fill="#44cb89"/><rect x="425.78" fill="#3fca8e"/><rect x="436.17" fill="#3bc992"/><rect x="446.55" fill="#37c898"/><rect x="456.94" fill="#33c69d"/><rect x="467.32" fill="#30c5a1"/><rect x="477.71" fill="#2ec4a5"/><rect x="488.09" fill="#29c3a9"/><rect x="498.48" fill="#24c2ae"/><rect x="508.86" fill="#1cc0b4"/><rect x="519.25" fill="#12beb9"/><rect x="529.63" fill="#0abdbd"/><rect x="540.02" fill="#04bbc2"/><rect x="550.4" fill="#01b9c7"/><rect x="560.79" fill="#03b7cc"/><rect x="571.17" fill="#09b4d1"/><rect x="581.56" fill="#11b1d6"/><rect x="591.94" fill="#19addc"/><rect x="602.33" fill="#20a4e3"/><rect x="612.71" fill="#269ae8"/></g>
<g transform="translate(0 466.03)"><rect x="0" fill="#9fc942"/><rect x="10.38" fill="#a5c83d"/><rect x="20.77" fill="#c1c32d"/><rect x="31.15" fill="#c4c22a"/><rect x="41.54" fill="#c8c129"/><rect x="51.92" fill="#d5be28"/><rect x="62.31" fill="#e0bc2a"/><rect x="72.69" fill="#eaba31"/><rect x="83.08" fill="#f4ba39" style="width:93.86px"/><rect x="176.54" fill="#f1ba37"/><rect x="186.93" fill="#eeba34"/><rect x="197.31" fill="#ebba32"/><rect x="207.7" fill="#e9bb2f"/><rect x="218.08" fill="#e6bb2d"/><rect x="228.47" fill="#dfbc2a"/><rect x="238.85" fill="#d7be28"/><rect x="249.24" fill="#d0c027"/><rect x="259.62" fill="#c8c129"/><rect x="270.01" fill="#c1c32d"/><rect x="280.39" fill="#b5c533"/><rect x="290.78" fill="#aac73a"/><rect x="301.16" fill="#a0c841"/><rect x="311.55" fill="#96ca48"/><rect x="321.93" fill="#8dcb4f"/><rect x="332.32" fill="#84cc56"/><rect x="342.7" fill="#7acc5d"/><rect x="353.09" fill="#71cd64"/><rect x="363.47" fill="#68cd6b"/><rect x="373.86" fill="#60cd72"/><rect x="384.24" fill="#59cc79"/><rect x="394.63" fill="#52cc7e"/><rect x="405.01" fill="#4ccb83"/><rect x="415.4" fill="#46cb88"/><rect x="425.78" fill="#41ca8c"/><rect x="436.17" fill="#3dc991"/><rect x="446.55" fill="#38c896"/><rect x="456.94" fill="#35c79a"/><rect x="467.32" fill="#32c69e"/><rect x="477.71" fill="#2fc5a2"/><rect x="488.09" fill="#2cc4a7"/><rect x="498.48" fill="#27c2ac"/><rect x="508.86" fill="#1fc1b1"/><rect x="519.25" fill="#16bfb7"/><rect x="529.63" fill="#0ebdbb"/><rect x="540.02" fill="#07bcc0"/><rect x="550.4" fill="#02bac5"/><rect x="560.79" fill="#01b8ca"/><rect x="571.17" fill="#06b5cf"/><rect x="581.56" fill="#0eb3d4"/><rect x="591.94" fill="#17aeda"/><rect x="602.33" fill="#1fa6e2"/><rect x="612.71" fill="#259ce7"/></g>
<g transform="translate(0 493.44)"><rect x="0" fill="#a3c83f"/><rect x="10.38" fill="#acc738"/><rect x="20.77" fill="#d0c027"/><rect x="31.15" fill="#d2bf27"/><rect x="41.54" fill="#d3bf27"/><rect x="51.92" fill="#debd29"/><rect x="62.31" fill="#e7bb2e"/><rect x="72.69" fill="#f0ba36"/><rect x="83.08" fill="#f8ba3d" style="width:93.86px"/><rect x="176.54" fill="#f5ba3a"/><rect x="186.93" fill="#f2ba38"/><rect x="197.31" fill="#f0ba36"/><rect x="207.7" fill="#edba33"/><rect x="218.08" fill="#eaba31"/><rect x="228.47" fill="#e3bc2c"/><rect x="238.85" fill="#dbbd29"/><rect x="249.24" fill="#d3bf27"/><rect x="259.62" fill="#ccc028"/><rect x="270.01" fill="#c4c22a"/><rect x="280.39" fill="#b9c431"/><rect x="290.78" fill="#acc738"/><rect x="301.16" fill="#a1c840"/><rect x="311.55" fill="#96ca48"/><rect x="321.93" fill="#8dcb4f"/><rect x="332.32" fill="#84cc56"/><rect x="342.7" fill="#7acc5d"/><rect x="353.09" fill="#71cd64"/><rect x="363.47" fill="#68cd6b"/><rect x="373.86" fill="#60cd72"/><rect x="384.24" fill="#5acc78"/><rect x="394.63" fill="#54cc7d"/><rect x="405.01" fill="#4ecc82"/><rect x="415.4" fill="#48cb86"/><rect x="425.78" fill="#43ca8b"/><rect x="436.17" fill="#3eca8f"/><rect x="446.55" fill="#3ac994"/><rect x="456.94" fill="#37c898"/><rect x="467.32" fill="#34c79c"/><rect x="477.71" fill="#31c6a0"/><rect x="488.09" fill="#2ec4a5"/><rect x="498.48" fill="#29c3a9"/><rect x="508.86" fill="#23c1af"/><rect x="519.25" fill="#1ac0b5"/><rect x="529.63" fill="#12beb9"/><rect x="540.02" fill="#0abdbd"/><rect x="550.4" fill="#02bbc3"/><rect x="560.79" fill="#01b8c8"/><rect x="571.17" fill="#04b6cd"/><rect x="581.56" fill="#0ab4d2"/><rect x="591.94" fill="#15afd9"/><rect x="602.33" fill="#1ea7e1"/><rect x="612.71" fill="#249de7"/></g>
<g transform="translate(0 520.85)"><rect x="0" fill="#a3c83f"/><rect x="10.38" fill="#acc738"/><rect x="20.77" fill="#d0c027"/><rect x="31.15" fill="#d2bf27"/><rect x="41.54" fill="#d3bf27"/><rect x="51.92" fill="#debc2a"/><rect x="62.31" fill="#e9bb2f"/><rect x="72.69" fill="#f2ba38"/><rect x="83.08" fill="#fabb3d" style="width:93.86px"/><rect x="176.54" fill="#f8ba3d"/><rect x="186.93" fill="#f5ba3a"/><rect x="197.31" fill="#f2ba38"/><rect x="207.7" fill="#f0ba36"/><rect x="218.08" fill="#edba33"/><rect x="228.47" fill="#e6bb2d"/><rect x="238.85" fill="#dfbc2a"/><rect x="249.24" fill="#d7be28"/><rect x="259.62" fill="#cec028"/><rect x="270.01" fill="#c4c22a"/><rect x="280.39" fill="#b9c431"/><rect x="290.78" fill="#acc738"/><rect x="301.16" fill="#a1c840"/><rect x="311.55" fill="#96ca48"/><rect x="321.93" fill="#8dcb4f"/><rect x="332.32" fill="#84cc56"/><rect x="342.7" fill="#7acc5d"/><rect x="353.09" fill="#71cd64"/><rect x="363.47" fill="#68cd6b"/><rect x="373.86" fill="#60cd72"/><rect x="384.24" fill="#5acc78"/><rect x="394.63" fill="#54cc7d"/><rect x="405.01" fill="#4ecc82"/><rect x="415.4" fill="#48cb86"/><rect x="425.78" fill="#43ca8b"/><rect x="436.17" fill="#3eca8f"/><rect x="446.55" fill="#3ac994"/><rect x="456.94" fill="#37c898"/><rect x="467.32" fill="#34c79c"/><rect x="477.71" fill="#31c6a0"/><rect x="488.09" fill="#2ec4a5"/><rect x="498.48" fill="#29c3a9"/><rect x="508.86" fill="#24c2ae"/><rect x="519.25" fill="#1ec0b2"/><rect x="529.63" fill="#16bfb7"/><rect x="540.02" fill="#0ebdbb"/><rect x="550.4" fill="#05bbc1"/><rect x="560.79" fill="#01b9c6"/><rect x="571.17" fill="#03b7cc"/><rect x="581.56" fill="#0ab4d2"/><rect x="591.94" fill="#15afd9"/><rect x="602.33" fill="#1ea7e1"/><rect x="612.71" fill="#249de7"/></g>
<g transform="translate(0 548.27)"><rect x="0" fill="#94ca4a"/><rect x="10.38" fill="#9dc943"/><rect x="20.77" fill="#c7c129"/><rect x="31.15" fill="#d0bf27"/><rect x="41.54" fill="#d7be28"/><rect x="51.92" fill="#e2bc2b"/><rect x="62.31" fill="#ecba32"/><rect x="72.69" fill="#f5ba3b"/><rect x="83.08" fill="#fbbc3d" style="width:93.86px"/><rect x="176.54" fill="#f8ba3d"/><rect x="186.93" fill="#f5ba3a"/><rect x="197.31" fill="#f1ba37"/><rect x="207.7" fill="#edba33"/><rect x="218.08" fill="#e9bb30"/><rect x="228.47" fill="#e0bc2b"/><rect x="238.85" fill="#d7be28"/><rect x="249.24" fill="#ccc028"/><rect x="259.62" fill="#bfc32d"/><rect x="270.01" fill="#b5c533"/><rect x="280.39" fill="#aac73a"/><rect x="290.78" fill="#99c946"/><rect x="301.16" fill="#8ccb50"/><rect x="311.55" fill="#81cc58"/><rect x="321.93" fill="#78cc5f"/><rect x="332.32" fill="#6fcd66"/><rect x="342.7" fill="#67cd6c"/><rect x="353.09" fill="#60cd72"/><rect x="363.47" fill="#5acc78"/><rect x="373.86" fill="#54cc7d"/><rect x="384.24" fill="#50cc80"/><rect x="394.63" fill="#4dcb82"/><rect x="405.01" fill="#48cb86"/><rect x="415.4" fill="#44cb89"/><rect x="425.78" fill="#40ca8d"/><rect x="436.17" fill="#3eca8f"/><rect x="446.55" fill="#3cc992"/><rect x="456.94" fill="#39c895"/><rect x="467.32" fill="#36c898"/><rect x="477.71" fill="#34c79b"/><rect x="488.09" fill="#32c69f"/><rect x="498.48" fill="#2fc5a3"/><rect x="508.86" fill="#2bc3a8"/><rect x="519.25" fill="#27c2ac"/><rect x="529.63" fill="#21c1b0"/><rect x="540.02" fill="#1ac0b5"/><rect x="550.4" fill="#10beba"/><rect x="560.79" fill="#07bcc0"/><rect x="571.17" fill="#01b9c7"/><rect x="581.56" fill="#05b6cd"/><rect x="591.94" fill="#11b1d6"/><rect x="602.33" fill="#1da8e0"/><rect x="612.71" fill="#249ee6"/></g>
<g transform="translate(0 575.68)"><rect x="0" fill="#84cc56"/><rect x="10.38" fill="#8dcb4f"/><rect x="20.77" fill="#bfc32e"/><rect x="31.15" fill="#cfc028"/><rect x="41.54" fill="#dabd28"/><rect x="51.92" fill="#e6bb2d"/><rect x="62.31" fill="#f0ba36"/><rect x="72.69" fill="#f9ba3d"/><rect x="83.08" fill="#fcbc3d" style="width:93.86px"/><rect x="176.54" fill="#f8ba3d"/><rect x="186.93" fill="#f4ba3a"/><rect x="197.31" fill="#f0ba36"/><rect x="207.7" fill="#ebba31"/><rect x="218.08" fill="#e6bb2d"/><rect x="228.47" fill="#dbbd28"/><rect x="238.85" fill="#cfc028"/><rect x="249.24" fill="#c0c32d"/><rect x="259.62" fill="#afc637"/><rect x="270.01" fill="#a5c83d"/><rect x="280.39" fill="#9ac945"/><rect x="290.78" fill="#86cb55"/><rect x="301.16" fill="#77cc60"/><rect x="311.55" fill="#6dcd68"/><rect x="321.93" fill="#64cd6f"/><rect x="332.32" fill="#5ccc76"/><rect x="342.7" fill="#56cc7b"/><rect x="353.09" fill="#50cc80"/><rect x="363.47" fill="#4ccb83"/><rect x="373.86" fill="#48cb86"/><rect x="384.24" fill="#47cb87"/><rect x="394.63" fill="#46cb88"/><rect x="405.01" fill="#44ca8a"/><rect x="415.4" fill="#41ca8c"/><rect x="425.78" fill="#3eca8f" style="width:21.17px"/><rect x="446.55" fill="#3dc990"/><rect x="456.94" fill="#3bc992"/><rect x="467.32" fill="#39c994"/><rect x="477.71" fill="#38c896"/><rect x="488.09" fill="#36c799"/><rect x="498.48" fill="#33c69d"/><rect x="508.86" fill="#30c5a1"/><rect x="519.25" fill="#2ec4a5"/><rect x="529.63" fill="#29c3a9"/><rect x="540.02" fill="#24c2ae"/><rect x="550.4" fill="#1cc0b4"/><rect x="560.79" fill="#12beb9"/><rect x="571.17" fill="#04bbc2"/><rect x="581.56" fill="#01b8c9"/><rect x="591.94" fill="#0cb3d3"/><rect x="602.33" fill="#1da9e0"/><rect x="612.71" fill="#249fe6"/></g>
<g transform="translate(0 603.09)"><rect x="0" fill="#73cd63"/><rect x="10.38" fill="#7dcc5c"/><rect x="20.77" fill="#b5c533"/><rect x="31.15" fill="#cdc028"/><rect x="41.54" fill="#debd29"/><rect x="51.92" fill="#e9bb2f"/><rect x="62.31" fill="#f3ba38"/><rect x="72.69" fill="#fbbc3d"/><rect x="83.08" fill="#fcbd3d" style="width:93.86px"/><rect x="176.54" fill="#f9bb3d"/><rect x="186.93" fill="#f4ba39"/><rect x="197.31" fill="#eeba34"/><rect x="207.7" fill="#e8bb2f"/><rect x="218.08" fill="#e2bc2b"/><rect x="228.47" fill="#d4bf28"/><rect x="238.85" fill="#c6c22a"/><rect x="249.24" fill="#b3c534"/><rect x="259.62" fill="#9ec942"/><rect x="270.01" fill="#95ca49"/><rect x="280.39" fill="#8bcb51"/><rect x="290.78" fill="#72cd63"/><rect x="301.16" fill="#62cd70"/><rect x="311.55" fill="#5acc78"/><rect x="321.93" fill="#52cc7e"/><rect x="332.32" fill="#4acb85"/><rect x="342.7" fill="#45cb89"/><rect x="353.09" fill="#41ca8c"/><rect x="363.47" fill="#3fca8e"/><rect x="373.86" fill="#3eca8f"/><rect x="384.24" fill="#3fca8e"/><rect x="394.63" fill="#40ca8d"/><rect x="405.01" fill="#3fca8e"/><rect x="415.4" fill="#3eca8f"/><rect x="425.78" fill="#3dc990"/><rect x="436.17" fill="#3eca8f"/><rect x="446.55" fill="#3fca8e"/><rect x="456.94" fill="#3eca8f"/><rect x="467.32" fill="#3dc990"/><rect x="477.71" fill="#3cc991"/><rect x="488.09" fill="#3bc993"/><rect x="498.48" fill="#38c896"/><rect x="508.86" fill="#35c79a"/><rect x="519.25" fill="#33c69d"/><rect x="529.63" fill="#2fc5a2"/><rect x="540.02" fill="#2cc4a7"/><rect x="550.4" fill="#26c2ad"/><rect x="560.79" fill="#1ec0b2"/><rect x="571.17" fill="#0bbdbc"/><rect x="581.56" fill="#02bac4"/><rect x="591.94" fill="#07b5cf"/><rect x="602.33" fill="#1ca9df"/><rect x="612.71" fill="#249fe5"/></g>
<g transform="translate(0 630.51)"><rect x="0" fill="#64cd6f"/><rect x="10.38" fill="#6dcd68"/><rect x="20.77" fill="#acc738"/><rect x="31.15" fill="#ccc028"/><rect x="41.54" fill="#e1bc2b"/><rect x="51.92" fill="#ecba32"/><rect x="62.31" fill="#f6ba3b"/><rect x="72.69" fill="#fdbd3d" style="width:104.25px"/><rect x="176.54" fill="#f9bb3d"/><rect x="186.93" fill="#f3ba39"/><rect x="197.31" fill="#ecba33"/><rect x="207.7" fill="#e5bb2d"/><rect x="218.08" fill="#debd29"/><rect x="228.47" fill="#cec028"/><rect x="238.85" fill="#bdc42f"/><rect x="249.24" fill="#a5c83d"/><rect x="259.62" fill="#8dcb4f"/><rect x="270.01" fill="#84cc56"/><rect x="280.39" fill="#7acc5d"/><rect x="290.78" fill="#60cd72"/><rect x="301.16" fill="#50cc80"/><rect x="311.55" fill="#48cb86"/><rect x="321.93" fill="#41ca8c"/><rect x="332.32" fill="#3bc992"/><rect x="342.7" fill="#39c895"/><rect x="353.09" fill="#37c898" style="width:31.55px"/><rect x="384.24" fill="#39c895"/><rect x="394.63" fill="#3bc992" style="width:41.94px"/><rect x="436.17" fill="#3eca8f"/><rect x="446.55" fill="#41ca8c" style="width:52.32px"/><rect x="498.48" fill="#3eca8f"/><rect x="508.86" fill="#3bc992"/><rect x="519.25" fill="#39c895"/><rect x="529.63" fill="#35c79a"/><rect x="540.02" fill="#31c6a0"/><rect x="550.4" fill="#2dc4a6"/><rect x="560.79" fill="#27c2ac"/><rect x="571.17" fill="#16bfb7"/><rect x="581.56" fill="#07bcc0"/><rect x="591.94" fill="#03b7cc"/><rect x="602.33" fill="#1caadf"/><rect x="612.71" fill="#23a0e5"/></g>
<g transform="translate(0 657.92)"><rect x="0" fill="#44cb89"/><rect x="10.38" fill="#54cc7d"/><rect x="20.77" fill="#9ac945"/><rect x="31.15" fill="#c4c22a"/><rect x="41.54" fill="#e1bc2b"/><rect x="51.92" fill="#ecba32"/><rect x="62.31" fill="#f6ba3b"/><rect x="72.69" fill="#fdbd3d" style="width:104.25px"/><rect x="176.54" fill="#f9bb3d"/><rect x="186.93" fill="#f3ba39"/><rect x="197.31" fill="#ecba33"/><rect x="207.7" fill="#e5bb2d"/><rect x="218.08" fill="#debd29"/><rect x="228.47" fill="#cec028"/><rect x="238.85" fill="#bdc42f"/><rect x="249.24" fill="#a5c83d"/><rect x="259.62" fill="#8dcb4f"/><rect x="270.01" fill="#84cc56"/><rect x="280.39" fill="#71cd64"/><rect x="290.78" fill="#58cc79"/><rect x="301.16" fill="#48cb86"/><rect x="311.55" fill="#37c898"/><rect x="321.93" fill="#2cc4a7"/><rect x="332.32" fill="#27c2ac" style="width:21.17px"/><rect x="353.09" fill="#2cc4a7"/><rect x="363.47" fill="#2fc5a2"/><rect x="373.86" fill="#33c69d"/><rect x="384.24" fill="#35c79a"/><rect x="394.63" fill="#37c898"/><rect x="405.01" fill="#37c897"/><rect x="415.4" fill="#38c896"/><rect x="425.78" fill="#39c895"/><rect x="436.17" fill="#3dc991"/><rect x="446.55" fill="#41ca8c" style="width:52.32px"/><rect x="498.48" fill="#3eca8f"/><rect x="508.86" fill="#3bc992"/><rect x="519.25" fill="#39c895"/><rect x="529.63" fill="#35c79a"/><rect x="540.02" fill="#31c6a0"/><rect x="550.4" fill="#2dc4a6"/><rect x="560.79" fill="#27c2ac"/><rect x="571.17" fill="#16bfb7"/><rect x="581.56" fill="#07bcc0"/><rect x="591.94" fill="#03b7cc"/><rect x="602.33" fill="#1caadf"/><rect x="612.71" fill="#23a0e5"/></g>
<g transform="translate(0 685.33)"><rect x="0" fill="#31c6a0"/><rect x="10.38" fill="#39c895"/><rect x="20.77" fill="#88cb53"/><rect x="31.15" fill="#bdc42f"/><rect x="41.54" fill="#e1bc2b"/><rect x="51.92" fill="#ecba32"/><rect x="62.31" fill="#f6ba3b"/><rect x="72.69" fill="#fdbd3d" style="width:104.25px"/><rect x="176.54" fill="#f9bb3d"/><rect x="186.93" fill="#f3ba39"/><rect x="197.31" fill="#ecba33"/><rect x="207.7" fill="#e5bb2d"/><rect x="218.08" fill="#debd29"/><rect x="228.47" fill="#cec028"/><rect x="238.85" fill="#bdc42f"/><rect x="249.24" fill="#a5c83d"/><rect x="259.62" fill="#8dcb4f"/><rect x="270.01" fill="#7acc5d"/><rect x="280.39" fill="#68cd6b"/><rect x="290.78" fill="#50cc80"/><rect x="301.16" fill="#37c898"/><rect x="311.55" fill="#27c2ac"/><rect x="321.93" fill="#01b9c6"/><rect x="332.32" fill="#01b8ca" style="width:21.17px"/><rect x="353.09" fill="#04bbc2"/><rect x="363.47" fill="#21c1b0"/><rect x="373.86" fill="#2cc4a7"/><rect x="384.24" fill="#33c69d"/><rect x="394.63" fill="#37c898"/><rect x="405.01" fill="#37c897"/><rect x="415.4" fill="#38c896"/><rect x="425.78" fill="#39c895"/><rect x="436.17" fill="#3dc991"/><rect x="446.55" fill="#41ca8c" style="width:52.32px"/><rect x="498.48" fill="#3eca8f"/><rect x="508.86" fill="#3bc992"/><rect x="519.25" fill="#39c895"/><rect x="529.63" fill="#35c79a"/><rect x="540.02" fill="#31c6a0"/><rect x="550.4" fill="#2dc4a6"/><rect x="560.79" fill="#27c2ac"/><rect x="571.17" fill="#16bfb7"/><rect x="581.56" fill="#07bcc0"/><rect x="591.94" fill="#03b7cc"/><rect x="602.33" fill="#1caadf"/><rect x="612.71" fill="#23a0e5"/></g>
<g transform="translate(0 712.75)"><rect x="0" fill="#03b7cc"/><rect x="10.38" fill="#29c3a9"/><rect x="20.77" fill="#76cc61"/><rect x="31.15" fill="#bdc42f"/><rect x="41.54" fill="#e1bc2b"/><rect x="51.92" fill="#eeba34"/><rect x="62.31" fill="#f9bb3d"/><rect x="72.69" fill="#fec13a" style="width:104.25px"/><rect x="176.54" fill="#fcbc3d"/><rect x="186.93" fill="#f6ba3b"/><rect x="197.31" fill="#efba35"/><rect x="207.7" fill="#e7bb2d"/><rect x="218.08" fill="#debd29"/><rect x="228.47" fill="#cec028"/><rect x="238.85" fill="#bdc42f"/><rect x="249.24" fill="#a5c83d"/><rect x="259.62" fill="#8dcb4f"/><rect x="270.01" fill="#7acc5d"/><rect x="280.39" fill="#60cd72"/><rect x="290.78" fill="#48cb86"/><rect x="301.16" fill="#2fc5a2"/><rect x="311.55" fill="#0abdbd"/><rect x="321.93" fill="#22a1e4"/><rect x="332.32" fill="#2c8ff1"/><rect x="342.7" fill="#2699ea"/><rect x="353.09" fill="#11b1d6"/><rect x="363.47" fill="#0abdbd"/><rect x="373.86" fill="#27c2ac"/><rect x="384.24" fill="#2fc5a2"/><rect x="394.63" fill="#37c898"/><rect x="405.01" fill="#37c897"/><rect x="415.4" fill="#38c896"/><rect x="425.78" fill="#39c895"/><rect x="436.17" fill="#3dc991"/><rect x="446.55" fill="#41ca8c" style="width:52.32px"/><rect x="498.48" fill="#3eca8f"/><rect x="508.86" fill="#3bc992"/><rect x="519.25" fill="#39c895"/><rect x="529.63" fill="#35c79a"/><rect x="540.02" fill="#31c6a0"/><rect x="550.4" fill="#2dc4a6"/><rect x="560.79" fill="#27c2ac"/><rect x="571.17" fill="#16bfb7"/><rect x="581.56" fill="#07bcc0"/><rect x="591.94" fill="#03b7cc"/><rect x="602.33" fill="#1caadf"/><rect x="612.71" fill="#23a0e5"/></g>
<g transform="translate(0 740.16)"><rect x="0" fill="#1fa6e2"/><rect x="10.38" fill="#16bfb7"/><rect x="20.77" fill="#6dcd68"/><rect x="31.15" fill="#b4c533"/><rect x="41.54" fill="#e1bc2b"/><rect x="51.92" fill="#efba35"/><rect x="62.31" fill="#fabb3d"/><rect x="72.69" fill="#fec339" style="width:104.25px"/><rect x="176.54" fill="#fdbd3d"/><rect x="186.93" fill="#f8ba3d"/><rect x="197.31" fill="#f0ba36"/><rect x="207.7" fill="#e7bb2e"/><rect x="218.08" fill="#debd29"/><rect x="228.47" fill="#cec028"/><rect x="238.85" fill="#bdc42f"/><rect x="249.24" fill="#a5c83d"/><rect x="259.62" fill="#8dcb4f"/><rect x="270.01" fill="#7acc5d"/><rect x="280.39" fill="#60cd72"/><rect x="290.78" fill="#48cb86"/><rect x="301.16" fill="#2fc5a2"/><rect x="311.55" fill="#01b9c6"/><rect x="321.93" fill="#259ce7"/><rect x="332.32" fill="#4536d3"/><rect x="342.7" fill="#2d88f6"/><rect x="353.09" fill="#19addc"/><rect x="363.47" fill="#04bbc2"/><rect x="373.86" fill="#27c2ac"/><rect x="384.24" fill="#2fc5a2"/><rect x="394.63" fill="#37c898"/><rect x="405.01" fill="#38c896"/><rect x="415.4" fill="#3ac994"/><rect x="425.78" fill="#3bc992"/><rect x="436.17" fill="#41ca8c"/><rect x="446.55" fill="#48cb86" style="width:52.32px"/><rect x="498.48" fill="#46cb88"/><rect x="508.86" fill="#43ca8a"/><rect x="519.25" fill="#41ca8c"/><rect x="529.63" fill="#39c895"/><rect x="540.02" fill="#33c69d"/><rect x="550.4" fill="#2fc5a2"/><rect x="560.79" fill="#2cc4a7"/><rect x="571.17" fill="#21c1b0"/><rect x="581.56" fill="#12beb9"/><rect x="591.94" fill="#01b8c8"/><rect x="602.33" fill="#15afd9"/><rect x="612.71" fill="#21a3e3"/></g>
<g transform="translate(0 767.57)"><rect x="0" fill="#07bcc0"/><rect x="10.38" fill="#31c6a0"/><rect x="20.77" fill="#7fcc5a"/><rect x="31.15" fill="#c4c22a"/><rect x="41.54" fill="#e7bb2e"/><rect x="51.92" fill="#f3ba39"/><rect x="62.31" fill="#fdbd3d"/><rect x="72.69" fill="#fec437" style="width:104.25px"/><rect x="176.54" fill="#febf3b"/><rect x="186.93" fill="#fabb3d"/><rect x="197.31" fill="#f2ba38"/><rect x="207.7" fill="#eaba31"/><rect x="218.08" fill="#e1bc2b"/><rect x="228.47" fill="#d2bf27"/><rect x="238.85" fill="#c1c32d"/><rect x="249.24" fill="#acc738"/><rect x="259.62" fill="#96ca48"/><rect x="270.01" fill="#84cc56"/><rect x="280.39" fill="#68cd6b"/><rect x="290.78" fill="#50cc80"/><rect x="301.16" fill="#37c898"/><rect x="311.55" fill="#21c1b0"/><rect x="321.93" fill="#11b1d6"/><rect x="332.32" fill="#1caadf"/><rect x="342.7" fill="#249fe6"/><rect x="353.09" fill="#05b6ce"/><rect x="363.47" fill="#12beb9"/><rect x="373.86" fill="#2cc4a7"/><rect x="384.24" fill="#33c69d"/><rect x="394.63" fill="#37c898"/><rect x="405.01" fill="#38c896"/><rect x="415.4" fill="#3ac994"/><rect x="425.78" fill="#3bc992"/><rect x="436.17" fill="#41ca8c"/><rect x="446.55" fill="#48cb86" style="width:52.32px"/><rect x="498.48" fill="#46cb88"/><rect x="508.86" fill="#43ca8a"/><rect x="519.25" fill="#41ca8c"/><rect x="529.63" fill="#39c895"/><rect x="540.02" fill="#33c69d"/><rect x="550.4" fill="#2fc5a2"/><rect x="560.79" fill="#2cc4a7"/><rect x="571.17" fill="#21c1b0"/><rect x="581.56" fill="#12beb9"/><rect x="591.94" fill="#01b8c8"/><rect x="602.33" fill="#15afd9"/><rect x="612.71" fill="#21a3e3"/></g>
<g transform="translate(0 794.99)"><rect x="0" fill="#35c79a"/><rect x="10.38" fill="#4ccb83"/><rect x="20.77" fill="#a3c83f"/><rect x="31.15" fill="#d3bf27"/><rect x="41.54" fill="#edba33"/><rect x="51.92" fill="#f9ba3d"/><rect x="62.31" fill="#fec03b"/><rect x="72.69" fill="#fec835" style="width:104.25px"/><rect x="176.54" fill="#fec338"/><rect x="186.93" fill="#febe3c"/><rect x="197.31" fill="#f9bb3d"/><rect x="207.7" fill="#f2ba38"/><rect x="218.08" fill="#eaba31"/><rect x="228.47" fill="#dcbd29"/><rect x="238.85" fill="#ccc028"/><rect x="249.24" fill="#b6c532"/><rect x="259.62" fill="#9fc942"/><rect x="270.01" fill="#8dcb4f"/><rect x="280.39" fill="#7acc5d"/><rect x="290.78" fill="#60cd72"/><rect x="301.16" fill="#48cb86"/><rect x="311.55" fill="#37c898"/><rect x="321.93" fill="#27c2ac"/><rect x="332.32" fill="#12beb9" style="width:21.17px"/><rect x="353.09" fill="#21c1b0"/><rect x="363.47" fill="#2fc5a2"/><rect x="373.86" fill="#37c898"/><rect x="384.24" fill="#3bc992"/><rect x="394.63" fill="#41ca8c"/><rect x="405.01" fill="#43ca8a"/><rect x="415.4" fill="#46cb88"/><rect x="425.78" fill="#48cb86"/><rect x="436.17" fill="#4ccb83"/><rect x="446.55" fill="#50cc80"/><rect x="456.94" fill="#4fcc81"/><rect x="467.32" fill="#4ecc82"/><rect x="477.71" fill="#4dcb82"/><rect x="488.09" fill="#4ccb83"/><rect x="498.48" fill="#48cb86"/><rect x="508.86" fill="#44cb89"/><rect x="519.25" fill="#41ca8c"/><rect x="529.63" fill="#3ac994"/><rect x="540.02" fill="#35c79a"/><rect x="550.4" fill="#30c5a1"/><rect x="560.79" fill="#2cc4a7"/><rect x="571.17" fill="#21c1b0"/><rect x="581.56" fill="#12beb9"/><rect x="591.94" fill="#01b9c6"/><rect x="602.33" fill="#11b1d6"/><rect x="612.71" fill="#1fa6e2"/></g>
<g transform="translate(0 822.4)"><rect x="0" fill="#6dcd68"/><rect x="10.38" fill="#7acc5d"/><rect x="20.77" fill="#b0c636"/><rect x="31.15" fill="#d3bf27"/><rect x="41.54" fill="#edba33"/><rect x="51.92" fill="#f8ba3d"/><rect x="62.31" fill="#febf3b"/><rect x="72.69" fill="#fec636" style="width:114.63px"/><rect x="186.93" fill="#fec437"/><rect x="197.31" fill="#fec13a"/><rect x="207.7" fill="#fdbd3d"/><rect x="218.08" fill="#fabb3d"/><rect x="228.47" fill="#f0ba36"/><rect x="238.85" fill="#e1bc2b"/><rect x="249.24" fill="#d0c027"/><rect x="259.62" fill="#c1c32d"/><rect x="270.01" fill="#b0c636"/><rect x="280.39" fill="#9ac945"/><rect x="290.78" fill="#88cb53"/><rect x="301.16" fill="#71cd64"/><rect x="311.55" fill="#54cc7d"/><rect x="321.93" fill="#48cb86"/><rect x="332.32" fill="#3eca8f" style="width:21.17px"/><rect x="353.09" fill="#44cb89"/><rect x="363.47" fill="#4ccb83"/><rect x="373.86" fill="#54cc7d"/><rect x="384.24" fill="#58cc79"/><rect x="394.63" fill="#5ccc76"/><rect x="405.01" fill="#60cd72"/><rect x="415.4" fill="#64cd6f"/><rect x="425.78" fill="#66cd6d"/><rect x="436.17" fill="#68cd6b" style="width:31.55px"/><rect x="467.32" fill="#64cd6f"/><rect x="477.71" fill="#60cd72"/><rect x="488.09" fill="#5acc78"/><rect x="498.48" fill="#54cc7d"/><rect x="508.86" fill="#4ccb83"/><rect x="519.25" fill="#44cb89"/><rect x="529.63" fill="#3eca8f"/><rect x="540.02" fill="#39c895"/><rect x="550.4" fill="#34c79c"/><rect x="560.79" fill="#2fc5a2"/><rect x="571.17" fill="#29c3a9"/><rect x="581.56" fill="#1ec0b2"/><rect x="591.94" fill="#07bcc0"/><rect x="602.33" fill="#03b7cc"/><rect x="612.71" fill="#19addc"/></g>
<g transform="translate(0 849.81)"><rect x="0" fill="#9fc942"/><rect x="10.38" fill="#acc738"/><rect x="20.77" fill="#c8c129"/><rect x="31.15" fill="#e1bc2b"/><rect x="41.54" fill="#f5ba3a"/><rect x="51.92" fill="#fdbd3d"/><rect x="62.31" fill="#fec338"/><rect x="72.69" fill="#feca33" style="width:114.63px"/><rect x="186.93" fill="#fec736"/><rect x="197.31" fill="#fec338"/><rect x="207.7" fill="#fec03a"/><rect x="218.08" fill="#fdbd3d"/><rect x="228.47" fill="#f8ba3d"/><rect x="238.85" fill="#edba33"/><rect x="249.24" fill="#e1bc2b"/><rect x="259.62" fill="#d5be28"/><rect x="270.01" fill="#c8c129"/><rect x="280.39" fill="#b9c431"/><rect x="290.78" fill="#a8c73b"/><rect x="301.16" fill="#98c947"/><rect x="311.55" fill="#88cb53"/><rect x="321.93" fill="#7acc5d"/><rect x="332.32" fill="#6dcd68" style="width:31.55px"/><rect x="363.47" fill="#6fcd66"/><rect x="373.86" fill="#71cd64"/><rect x="384.24" fill="#73cd63"/><rect x="394.63" fill="#76cc61" style="width:52.32px"/><rect x="446.55" fill="#73cd63"/><rect x="456.94" fill="#71cd64"/><rect x="467.32" fill="#6dcd68"/><rect x="477.71" fill="#68cd6b"/><rect x="488.09" fill="#62cd71"/><rect x="498.48" fill="#5ccc76"/><rect x="508.86" fill="#54cc7d"/><rect x="519.25" fill="#4ccb83"/><rect x="529.63" fill="#44cb89"/><rect x="540.02" fill="#3eca8f"/><rect x="550.4" fill="#38c896"/><rect x="560.79" fill="#33c69d"/><rect x="571.17" fill="#2dc4a6"/><rect x="581.56" fill="#24c2ae"/><rect x="591.94" fill="#12beb9"/><rect x="602.33" fill="#01b8c8"/><rect x="612.71" fill="#11b1d6"/></g>
<g transform="translate(0 877.23)"><rect x="0" fill="#c4c22a"/><rect x="10.38" fill="#ccc028"/><rect x="20.77" fill="#debd29"/><rect x="31.15" fill="#f0ba36"/><rect x="41.54" fill="#fcbc3d"/><rect x="51.92" fill="#fec239"/><rect x="62.31" fill="#fec934"/><rect x="72.69" fill="#fcd030" style="width:114.63px"/><rect x="186.93" fill="#fdcc32"/><rect x="197.31" fill="#fec835"/><rect x="207.7" fill="#fec437"/><rect x="218.08" fill="#fec13a"/><rect x="228.47" fill="#fcbc3d"/><rect x="238.85" fill="#f7ba3c"/><rect x="249.24" fill="#f0ba36"/><rect x="259.62" fill="#e7bb2e"/><rect x="270.01" fill="#debd29"/><rect x="280.39" fill="#d2bf27"/><rect x="290.78" fill="#c4c22a"/><rect x="301.16" fill="#b9c431"/><rect x="311.55" fill="#acc738"/><rect x="321.93" fill="#a1c840"/><rect x="332.32" fill="#96ca48"/><rect x="342.7" fill="#8fcb4e"/><rect x="353.09" fill="#88cb53" style="width:73.09px"/><rect x="425.78" fill="#86cb55"/><rect x="436.17" fill="#84cc56"/><rect x="446.55" fill="#7fcc5a"/><rect x="456.94" fill="#7acc5d"/><rect x="467.32" fill="#76cc61"/><rect x="477.71" fill="#71cd64"/><rect x="488.09" fill="#6acd6a"/><rect x="498.48" fill="#64cd6f"/><rect x="508.86" fill="#5ccc76"/><rect x="519.25" fill="#54cc7d"/><rect x="529.63" fill="#4ccb83"/><rect x="540.02" fill="#44cb89"/><rect x="550.4" fill="#3dc991"/><rect x="560.79" fill="#37c898"/><rect x="571.17" fill="#30c5a1"/><rect x="581.56" fill="#29c3a9"/><rect x="591.94" fill="#1ac0b5"/><rect x="602.33" fill="#02bac4"/><rect x="612.71" fill="#0ab4d2"/></g>
<g transform="translate(0 904.64)"><rect x="0" fill="#debd29"/><rect x="10.38" fill="#e4bb2c"/><rect x="20.77" fill="#f0ba36"/><rect x="31.15" fill="#fcbc3d"/><rect x="41.54" fill="#fec13a"/><rect x="51.92" fill="#fec735"/><rect x="62.31" fill="#fdcd31"/><rect x="72.69" fill="#fad42e" style="width:114.63px"/><rect x="186.93" fill="#fcd030"/><rect x="197.31" fill="#fdcd32"/><rect x="207.7" fill="#feca34"/><rect x="218.08" fill="#fec636"/><rect x="228.47" fill="#fec339"/><rect x="238.85" fill="#febf3b"/><rect x="249.24" fill="#fcbc3d"/><rect x="259.62" fill="#f7ba3c"/><rect x="270.01" fill="#f0ba36"/><rect x="280.39" fill="#e7bb2e"/><rect x="290.78" fill="#debd29"/><rect x="301.16" fill="#d3bf27"/><rect x="311.55" fill="#c8c129"/><rect x="321.93" fill="#bfc32e"/><rect x="332.32" fill="#b4c533"/><rect x="342.7" fill="#acc738"/><rect x="353.09" fill="#a3c83f"/><rect x="363.47" fill="#9fc942"/><rect x="373.86" fill="#9ac945"/><rect x="384.24" fill="#98c947"/><rect x="394.63" fill="#96ca48" style="width:31.55px"/><rect x="425.78" fill="#91ca4c"/><rect x="436.17" fill="#8dcb4f"/><rect x="446.55" fill="#88cb53"/><rect x="456.94" fill="#84cc56"/><rect x="467.32" fill="#7fcc5a"/><rect x="477.71" fill="#7acc5d"/><rect x="488.09" fill="#71cd64"/><rect x="498.48" fill="#68cd6b"/><rect x="508.86" fill="#62cd71"/><rect x="519.25" fill="#5ccc76"/><rect x="529.63" fill="#52cc7e"/><rect x="540.02" fill="#48cb86"/><rect x="550.4" fill="#3fca8e"/><rect x="560.79" fill="#39c895"/><rect x="571.17" fill="#33c69d"/><rect x="581.56" fill="#2ec4a5"/><rect x="591.94" fill="#21c1b0"/><rect x="602.33" fill="#07bcc0"/><rect x="612.71" fill="#05b6ce"/></g>
<g transform="translate(0 932.05)"><rect x="0" fill="#edba33"/><rect x="10.38" fill="#f2ba38"/><rect x="20.77" fill="#fabb3d"/><rect x="31.15" fill="#fec13a"/><rect x="41.54" fill="#fec636"/><rect x="51.92" fill="#fdcc32"/><rect x="62.31" fill="#fbd22f"/><rect x="72.69" fill="#f9d82c" style="width:114.63px"/><rect x="186.93" fill="#fad42e"/><rect x="197.31" fill="#fcd12f"/><rect x="207.7" fill="#fdcd31"/><rect x="218.08" fill="#feca33"/><rect x="228.47" fill="#fec636"/><rect x="238.85" fill="#fec338"/><rect x="249.24" fill="#fec13a"/><rect x="259.62" fill="#fdbd3d"/><rect x="270.01" fill="#fabb3d"/><rect x="280.39" fill="#f4ba39"/><rect x="290.78" fill="#edba33"/><rect x="301.16" fill="#e6bb2d"/><rect x="311.55" fill="#debd29"/><rect x="321.93" fill="#d5be28"/><rect x="332.32" fill="#ccc028"/><rect x="342.7" fill="#c4c22a"/><rect x="353.09" fill="#bdc42f"/><rect x="363.47" fill="#b6c532"/><rect x="373.86" fill="#b0c636"/><rect x="384.24" fill="#acc738"/><rect x="394.63" fill="#a8c73b"/><rect x="405.01" fill="#a3c83f"/><rect x="415.4" fill="#9fc942"/><rect x="425.78" fill="#9ac945"/><rect x="436.17" fill="#96ca48"/><rect x="446.55" fill="#91ca4c"/><rect x="456.94" fill="#8dcb4f"/><rect x="467.32" fill="#86cb55"/><rect x="477.71" fill="#7fcc5a"/><rect x="488.09" fill="#78cc5f"/><rect x="498.48" fill="#71cd64"/><rect x="508.86" fill="#68cd6b"/><rect x="519.25" fill="#60cd72"/><rect x="529.63" fill="#56cc7b"/><rect x="540.02" fill="#4ccb83"/><rect x="550.4" fill="#43ca8b"/><rect x="560.79" fill="#3bc992"/><rect x="571.17" fill="#35c79a"/><rect x="581.56" fill="#2fc5a2"/><rect x="591.94" fill="#24c2ae"/><rect x="602.33" fill="#0ebdbb"/><rect x="612.71" fill="#01b8ca"/></g>
<g transform="translate(0 959.47)"><rect x="0" fill="#fabb3d"/><rect x="10.38" fill="#fcbc3d"/><rect x="20.77" fill="#fec13a"/><rect x="31.15" fill="#fec537"/><rect x="41.54" fill="#feca33"/><rect x="51.92" fill="#fcd030"/><rect x="62.31" fill="#fad62d"/><rect x="72.69" fill="#f7dc2a" style="width:114.63px"/><rect x="186.93" fill="#f8d82c"/><rect x="197.31" fill="#fad52d"/><rect x="207.7" fill="#fbd12f"/><rect x="218.08" fill="#fdce31"/><rect x="228.47" fill="#fdcb32"/><rect x="238.85" fill="#fec934"/><rect x="249.24" fill="#fec636"/><rect x="259.62" fill="#fec339"/><rect x="270.01" fill="#febf3b"/><rect x="280.39" fill="#fcbc3d"/><rect x="290.78" fill="#f8ba3d"/><rect x="301.16" fill="#f2ba38"/><rect x="311.55" fill="#edba33"/><rect x="321.93" fill="#e6bb2d"/><rect x="332.32" fill="#debd29"/><rect x="342.7" fill="#d5be28"/><rect x="353.09" fill="#ccc028"/><rect x="363.47" fill="#c6c22a"/><rect x="373.86" fill="#c1c32d"/><rect x="384.24" fill="#bbc430"/><rect x="394.63" fill="#b4c533"/><rect x="405.01" fill="#b0c636"/><rect x="415.4" fill="#acc738"/><rect x="425.78" fill="#a5c83d"/><rect x="436.17" fill="#9fc942"/><rect x="446.55" fill="#9ac945"/><rect x="456.94" fill="#96ca48"/><rect x="467.32" fill="#8fcb4e"/><rect x="477.71" fill="#88cb53"/><rect x="488.09" fill="#7fcc5a"/><rect x="498.48" fill="#76cc61"/><rect x="508.86" fill="#6dcd68"/><rect x="519.25" fill="#64cd6f"/><rect x="529.63" fill="#5acc78"/><rect x="540.02" fill="#50cc80"/><rect x="550.4" fill="#46cb88"/><rect x="560.79" fill="#3eca8f"/><rect x="571.17" fill="#37c898"/><rect x="581.56" fill="#31c6a0"/><rect x="591.94" fill="#27c2ac"/><rect x="602.33" fill="#12beb9"/><rect x="612.71" fill="#01b8c8"/></g>
<g transform="translate(0 986.88)"><rect x="0" fill="#febf3b"/><rect x="10.38" fill="#fec339"/><rect x="20.77" fill="#fec636"/><rect x="31.15" fill="#fdcb33"/><rect x="41.54" fill="#fcd030"/><rect x="51.92" fill="#fad52d"/><rect x="62.31" fill="#f7db2b"/><rect x="72.69" fill="#f6e028" style="width:114.63px"/><rect x="186.93" fill="#f7dd2a"/><rect x="197.31" fill="#f8da2b"/><rect x="207.7" fill="#f9d72c"/><rect x="218.08" fill="#fad42e"/><rect x="228.47" fill="#fcd130"/><rect x="238.85" fill="#fdcd31"/><rect x="249.24" fill="#feca33"/><rect x="259.62" fill="#fec735"/><rect x="270.01" fill="#fec437"/><rect x="280.39" fill="#fec13a"/><rect x="290.78" fill="#fdbd3d"/><rect x="301.16" fill="#fbbc3d"/><rect x="311.55" fill="#f8ba3d"/><rect x="321.93" fill="#f2ba38"/><rect x="332.32" fill="#edba33"/><rect x="342.7" fill="#e6bb2d"/><rect x="353.09" fill="#debd29"/><rect x="363.47" fill="#d7be28"/><rect x="373.86" fill="#d0c027"/><rect x="384.24" fill="#cac129"/><rect x="394.63" fill="#c4c22a"/><rect x="405.01" fill="#bfc32e"/><rect x="415.4" fill="#b9c431"/><rect x="425.78" fill="#b2c535"/><rect x="436.17" fill="#acc738"/><rect x="446.55" fill="#a5c83d"/><rect x="456.94" fill="#9fc942"/><rect x="467.32" fill="#96ca48"/><rect x="477.71" fill="#8dcb4f"/><rect x="488.09" fill="#84cc56"/><rect x="498.48" fill="#7acc5d"/><rect x="508.86" fill="#71cd64"/><rect x="519.25" fill="#68cd6b"/><rect x="529.63" fill="#5ecc74"/><rect x="540.02" fill="#54cc7d"/><rect x="550.4" fill="#4acb85"/><rect x="560.79" fill="#41ca8c"/><rect x="571.17" fill="#38c896"/><rect x="581.56" fill="#31c6a0"/><rect x="591.94" fill="#29c3a9"/><rect x="602.33" fill="#16bfb7"/><rect x="612.71" fill="#01b9c6"/></g>
<g transform="translate(0 1014.29)"><rect x="0" fill="#fec636"/><rect x="10.38" fill="#fec934"/><rect x="20.77" fill="#fdcc32"/><rect x="31.15" fill="#fcd030"/><rect x="41.54" fill="#fad42e"/><rect x="51.92" fill="#f8d92b"/><rect x="62.31" fill="#f6df29"/><rect x="72.69" fill="#f5e427" style="width:114.63px"/><rect x="186.93" fill="#f5e128"/><rect x="197.31" fill="#f6de29"/><rect x="207.7" fill="#f7db2b"/><rect x="218.08" fill="#f9d82c"/><rect x="228.47" fill="#fad52e"/><rect x="238.85" fill="#fbd12f"/><rect x="249.24" fill="#fdce31"/><rect x="259.62" fill="#fdcb33"/><rect x="270.01" fill="#fec835"/><rect x="280.39" fill="#fec537"/><rect x="290.78" fill="#fec339"/><rect x="301.16" fill="#fec03b"/><rect x="311.55" fill="#fdbd3d"/><rect x="321.93" fill="#fbbc3d"/><rect x="332.32" fill="#f8ba3d"/><rect x="342.7" fill="#f2ba38"/><rect x="353.09" fill="#edba33"/><rect x="363.47" fill="#e7bb2e"/><rect x="373.86" fill="#e1bc2b"/><rect x="384.24" fill="#dabd28"/><rect x="394.63" fill="#d3bf27"/><rect x="405.01" fill="#cec028"/><rect x="415.4" fill="#c8c129"/><rect x="425.78" fill="#c1c32d"/><rect x="436.17" fill="#b9c431"/><rect x="446.55" fill="#b0c636"/><rect x="456.94" fill="#a8c73b"/><rect x="467.32" fill="#9fc942"/><rect x="477.71" fill="#96ca48"/><rect x="488.09" fill="#8dcb4f"/><rect x="498.48" fill="#84cc56"/><rect x="508.86" fill="#78cc5f"/><rect x="519.25" fill="#6dcd68"/><rect x="529.63" fill="#62cd71"/><rect x="540.02" fill="#58cc79"/><rect x="550.4" fill="#4ccb83"/><rect x="560.79" fill="#41ca8c"/><rect x="571.17" fill="#39c895"/><rect x="581.56" fill="#33c69d"/><rect x="591.94" fill="#29c3a9"/><rect x="602.33" fill="#16bfb7"/><rect x="612.71" fill="#02bac4"/></g>
<g transform="translate(0 1041.71)"><rect x="0" fill="#feca33"/><rect x="10.38" fill="#fdcd32"/><rect x="20.77" fill="#fcd030"/><rect x="31.15" fill="#fad42e"/><rect x="41.54" fill="#f9d82c"/><rect x="51.92" fill="#f6dd29"/><rect x="62.31" fill="#f5e327"/><rect x="72.69" fill="#f5e825" style="width:114.63px"/><rect x="186.93" fill="#f5e526"/><rect x="197.31" fill="#f5e227"/><rect x="207.7" fill="#f6df29"/><rect x="218.08" fill="#f7dc2a"/><rect x="228.47" fill="#f8d92c"/><rect x="238.85" fill="#fad52d"/><rect x="249.24" fill="#fbd22f"/><rect x="259.62" fill="#fccf30"/><rect x="270.01" fill="#fdcc32"/><rect x="280.39" fill="#fec934"/><rect x="290.78" fill="#fec636"/><rect x="301.16" fill="#fec437"/><rect x="311.55" fill="#fec339"/><rect x="321.93" fill="#fec03b"/><rect x="332.32" fill="#fdbd3d"/><rect x="342.7" fill="#fbbc3d"/><rect x="353.09" fill="#f8ba3d"/><rect x="363.47" fill="#f2ba38"/><rect x="373.86" fill="#edba33"/><rect x="384.24" fill="#e7bb2e"/><rect x="394.63" fill="#e1bc2b"/><rect x="405.01" fill="#dabd28"/><rect x="415.4" fill="#d3bf27"/><rect x="425.78" fill="#ccc028"/><rect x="436.17" fill="#c4c22a"/><rect x="446.55" fill="#bbc430"/><rect x="456.94" fill="#b0c636"/><rect x="467.32" fill="#a8c73b"/><rect x="477.71" fill="#9fc942"/><rect x="488.09" fill="#94ca4a"/><rect x="498.48" fill="#88cb53"/><rect x="508.86" fill="#7dcc5c"/><rect x="519.25" fill="#71cd64"/><rect x="529.63" fill="#66cd6d"/><rect x="540.02" fill="#5ccc76"/><rect x="550.4" fill="#50cc80"/><rect x="560.79" fill="#44cb89"/><rect x="571.17" fill="#3ac994"/><rect x="581.56" fill="#33c69d"/><rect x="591.94" fill="#2cc4a7"/><rect x="602.33" fill="#1ac0b5"/><rect x="612.71" fill="#04bbc2"/></g>
<g transform="translate(0 1069.12)"><rect x="0" fill="#fdcc32"/><rect x="10.38" fill="#fcd030"/><rect x="20.77" fill="#fad42e"/><rect x="31.15" fill="#f9d82c"/><rect x="41.54" fill="#f7dc2a"/><rect x="51.92" fill="#f5e128"/><rect x="62.31" fill="#f5e725"/><rect x="72.69" fill="#f5ec22" style="width:114.63px"/><rect x="186.93" fill="#f5e924"/><rect x="197.31" fill="#f5e626"/><rect x="207.7" fill="#f5e327"/><rect x="218.08" fill="#f6e028"/><rect x="228.47" fill="#f7dc2a"/><rect x="238.85" fill="#f9d82c"/><rect x="249.24" fill="#fad42e"/><rect x="259.62" fill="#fbd22f"/><rect x="270.01" fill="#fcd030"/><rect x="280.39" fill="#fdcd32"/><rect x="290.78" fill="#feca33"/><rect x="301.16" fill="#fec835"/><rect x="311.55" fill="#fec636"/><rect x="321.93" fill="#fec338"/><rect x="332.32" fill="#fec13a"/><rect x="342.7" fill="#febe3c"/><rect x="353.09" fill="#fcbc3d"/><rect x="363.47" fill="#f9bb3d"/><rect x="373.86" fill="#f5ba3a"/><rect x="384.24" fill="#f0ba36"/><rect x="394.63" fill="#eaba31"/><rect x="405.01" fill="#e4bb2c"/><rect x="415.4" fill="#debd29"/><rect x="425.78" fill="#d5be28"/><rect x="436.17" fill="#ccc028"/><rect x="446.55" fill="#c3c22b"/><rect x="456.94" fill="#b9c431"/><rect x="467.32" fill="#aec637"/><rect x="477.71" fill="#a3c83f"/><rect x="488.09" fill="#98c947"/><rect x="498.48" fill="#8dcb4f"/><rect x="508.86" fill="#81cc58"/><rect x="519.25" fill="#76cc61"/><rect x="529.63" fill="#6acd6a"/><rect x="540.02" fill="#60cd72"/><rect x="550.4" fill="#54cc7d"/><rect x="560.79" fill="#48cb86"/><rect x="571.17" fill="#3dc991"/><rect x="581.56" fill="#35c79a"/><rect x="591.94" fill="#2cc4a7"/><rect x="602.33" fill="#1ac0b5"/><rect x="612.71" fill="#04bbc2"/></g>
<g transform="translate(0 1096.53)"><rect x="0" fill="#f7dc2a" style="width:52.32px"/><rect x="51.92" fill="#f5e327"/><rect x="62.31" fill="#f5e924"/><rect x="72.69" fill="#f6f020" style="width:114.63px"/><rect x="186.93" fill="#f5ed22"/><rect x="197.31" fill="#f5ea24"/><rect x="207.7" fill="#f5e725"/><rect x="218.08" fill="#f5e427" style="width:21.17px"/><rect x="238.85" fill="#f5e327" style="width:21.17px"/><rect x="259.62" fill="#f5e227" style="width:21.17px"/><rect x="280.39" fill="#f7dd2a"/><rect x="290.78" fill="#f9d82c"/><rect x="301.16" fill="#fbd32e"/><rect x="311.55" fill="#fdce31"/><rect x="321.93" fill="#fdcb33"/><rect x="332.32" fill="#fec835"/><rect x="342.7" fill="#fec537"/><rect x="353.09" fill="#fec339"/><rect x="363.47" fill="#fec03b"/><rect x="373.86" fill="#fdbd3d"/><rect x="384.24" fill="#fbbc3d"/><rect x="394.63" fill="#f8ba3d"/><rect x="405.01" fill="#f2ba38"/><rect x="415.4" fill="#edba33"/><rect x="425.78" fill="#e6bb2d"/><rect x="436.17" fill="#debd29"/><rect x="446.55" fill="#d5be28"/><rect x="456.94" fill="#ccc028"/><rect x="467.32" fill="#c3c22b"/><rect x="477.71" fill="#b9c431"/><rect x="488.09" fill="#acc738"/><rect x="498.48" fill="#9fc942"/><rect x="508.86" fill="#91ca4c"/><rect x="519.25" fill="#84cc56"/><rect x="529.63" fill="#78cc5f"/><rect x="540.02" fill="#6dcd68"/><rect x="550.4" fill="#60cd72"/><rect x="560.79" fill="#54cc7d"/><rect x="571.17" fill="#46cb88"/><rect x="581.56" fill="#3bc992"/><rect x="591.94" fill="#33c69d"/><rect x="602.33" fill="#29c3a9"/><rect x="612.71" fill="#16bfb7"/></g>
<g transform="translate(0 1123.95)"><rect x="0" fill="#f6df29" style="width:52.32px"/><rect x="51.92" fill="#f5e526"/><rect x="62.31" fill="#f5eb23"/><rect x="72.69" fill="#f6f21e" style="width:114.63px"/><rect x="186.93" fill="#f5ef20"/><rect x="197.31" fill="#f5ec22"/><rect x="207.7" fill="#f5e924"/><rect x="218.08" fill="#f5e626" style="width:21.17px"/><rect x="238.85" fill="#f5e526" style="width:21.17px"/><rect x="259.62" fill="#f5e426"/><rect x="270.01" fill="#f5e427"/><rect x="280.39" fill="#f6df29"/><rect x="290.78" fill="#f7db2b"/><rect x="301.16" fill="#fad62d"/><rect x="311.55" fill="#fcd12f"/><rect x="321.93" fill="#fdcd31"/><rect x="332.32" fill="#feca33"/><rect x="342.7" fill="#fec735"/><rect x="353.09" fill="#fec438"/><rect x="363.47" fill="#fec13a"/><rect x="373.86" fill="#febe3c"/><rect x="384.24" fill="#fcbc3d"/><rect x="394.63" fill="#f9bb3d"/><rect x="405.01" fill="#f4ba3a"/><rect x="415.4" fill="#efba35"/><rect x="425.78" fill="#e8bb2e"/><rect x="436.17" fill="#dfbc2a"/><rect x="446.55" fill="#d6be28"/><rect x="456.94" fill="#cdc028"/><rect x="467.32" fill="#c4c22b"/><rect x="477.71" fill="#bac430"/><rect x="488.09" fill="#adc638"/><rect x="498.48" fill="#a0c841"/><rect x="508.86" fill="#93ca4b"/><rect x="519.25" fill="#85cb56"/><rect x="529.63" fill="#79cc5e"/><rect x="540.02" fill="#6ecd67"/><rect x="550.4" fill="#61cd72"/><rect x="560.79" fill="#55cc7c"/><rect x="571.17" fill="#47cb87"/><rect x="581.56" fill="#3dc991"/><rect x="591.94" fill="#34c79c"/><rect x="602.33" fill="#2bc3a8"/><rect x="612.71" fill="#19bfb5"/></g>
<g transform="translate(0 1151.36)"><rect x="0" fill="#f5e128" style="width:52.32px"/><rect x="51.92" fill="#f5e725"/><rect x="62.31" fill="#f5ed21"/><rect x="72.69" fill="#f7f31c" style="width:114.63px"/><rect x="186.93" fill="#f6f11f"/><rect x="197.31" fill="#f5ee21"/><rect x="207.7" fill="#f5eb23"/><rect x="218.08" fill="#f5e825" style="width:31.55px"/><rect x="249.24" fill="#f5e725"/><rect x="259.62" fill="#f5e626"/><rect x="270.01" fill="#f5e526"/><rect x="280.39" fill="#f5e228"/><rect x="290.78" fill="#f6de29"/><rect x="301.16" fill="#f8d92c"/><rect x="311.55" fill="#fad42e"/><rect x="321.93" fill="#fcd030"/><rect x="332.32" fill="#fdcc32"/><rect x="342.7" fill="#fec934"/><rect x="353.09" fill="#fec537"/><rect x="363.47" fill="#fec339"/><rect x="373.86" fill="#fec03b"/><rect x="384.24" fill="#fdbd3d"/><rect x="394.63" fill="#fbbc3d"/><rect x="405.01" fill="#f7ba3c"/><rect x="415.4" fill="#f1ba37"/><rect x="425.78" fill="#e9bb30"/><rect x="436.17" fill="#e1bc2b"/><rect x="446.55" fill="#d8be28"/><rect x="456.94" fill="#cec028"/><rect x="467.32" fill="#c4c22a"/><rect x="477.71" fill="#bbc430"/><rect x="488.09" fill="#aec637"/><rect x="498.48" fill="#a1c840"/><rect x="508.86" fill="#94ca4a"/><rect x="519.25" fill="#86cb55"/><rect x="529.63" fill="#7acc5d"/><rect x="540.02" fill="#6fcd66"/><rect x="550.4" fill="#62cd71"/><rect x="560.79" fill="#56cc7b"/><rect x="571.17" fill="#49cb85"/><rect x="581.56" fill="#3eca8f"/><rect x="591.94" fill="#35c79a"/><rect x="602.33" fill="#2dc4a6"/><rect x="612.71" fill="#1cc0b4"/></g>
<g transform="translate(0 1178.77)"><rect x="0" fill="#f5e427" style="width:52.32px"/><rect x="51.92" fill="#f5ea24"/><rect x="62.31" fill="#f6f020"/><rect x="72.69" fill="#f7f51b" style="width:114.63px"/><rect x="186.93" fill="#f6f21d"/><rect x="197.31" fill="#f6f020"/><rect x="207.7" fill="#f5ed22"/><rect x="218.08" fill="#f5ea24" style="width:41.94px"/><rect x="259.62" fill="#f5e825"/><rect x="270.01" fill="#f5e725"/><rect x="280.39" fill="#f5e427"/><rect x="290.78" fill="#f5e128"/><rect x="301.16" fill="#f7dc2a"/><rect x="311.55" fill="#f9d72c"/><rect x="321.93" fill="#fbd22f"/><rect x="332.32" fill="#fdce31"/><rect x="342.7" fill="#feca33"/><rect x="353.09" fill="#fec736"/><rect x="363.47" fill="#fec438"/><rect x="373.86" fill="#fec13a"/><rect x="384.24" fill="#febe3c"/><rect x="394.63" fill="#fcbc3d"/><rect x="405.01" fill="#f8ba3d"/><rect x="415.4" fill="#f3ba39"/><rect x="425.78" fill="#ebba32"/><rect x="436.17" fill="#e2bc2b"/><rect x="446.55" fill="#d9be28"/><rect x="456.94" fill="#cfc028"/><rect x="467.32" fill="#c5c22a"/><rect x="477.71" fill="#bcc42f"/><rect x="488.09" fill="#afc637"/><rect x="498.48" fill="#a2c83f"/><rect x="508.86" fill="#95ca49"/><rect x="519.25" fill="#87cb54"/><rect x="529.63" fill="#7ccc5c"/><rect x="540.02" fill="#70cd65"/><rect x="550.4" fill="#63cd70"/><rect x="560.79" fill="#57cc7a"/><rect x="571.17" fill="#4acb84"/><rect x="581.56" fill="#3fca8e"/><rect x="591.94" fill="#36c799"/><rect x="602.33" fill="#2ec5a4"/><rect x="612.71" fill="#1fc0b2"/></g>
<g transform="translate(0 1206.19)"><rect x="0" fill="#f5e626" style="width:52.32px"/><rect x="51.92" fill="#f5ec22"/><rect x="62.31" fill="#f6f21e"/><rect x="72.69" fill="#f8f719" style="width:114.63px"/><rect x="186.93" fill="#f7f41c"/><rect x="197.31" fill="#f6f21e"/><rect x="207.7" fill="#f5ef20"/><rect x="218.08" fill="#f5ec22" style="width:41.94px"/><rect x="259.62" fill="#f5ea24"/><rect x="270.01" fill="#f5e825"/><rect x="280.39" fill="#f5e626"/><rect x="290.78" fill="#f5e427"/><rect x="301.16" fill="#f6df29"/><rect x="311.55" fill="#f8da2b"/><rect x="321.93" fill="#fad52d"/><rect x="332.32" fill="#fcd030"/><rect x="342.7" fill="#fdcc32"/><rect x="353.09" fill="#fec835"/><rect x="363.47" fill="#fec537"/><rect x="373.86" fill="#fec339"/><rect x="384.24" fill="#fec03b"/><rect x="394.63" fill="#fdbd3d"/><rect x="405.01" fill="#fabb3d"/><rect x="415.4" fill="#f5ba3a"/><rect x="425.78" fill="#edba33"/><rect x="436.17" fill="#e4bb2c"/><rect x="446.55" fill="#dabd28"/><rect x="456.94" fill="#d0c027"/><rect x="467.32" fill="#c6c22a"/><rect x="477.71" fill="#bdc42f"/><rect x="488.09" fill="#b0c636"/><rect x="498.48" fill="#a3c83f"/><rect x="508.86" fill="#96ca48"/><rect x="519.25" fill="#88cb53"/><rect x="529.63" fill="#7dcc5c"/><rect x="540.02" fill="#71cd64"/><rect x="550.4" fill="#64cd6f"/><rect x="560.79" fill="#58cc79"/><rect x="571.17" fill="#4ccb83"/><rect x="581.56" fill="#41ca8c"/><rect x="591.94" fill="#37c898"/><rect x="602.33" fill="#2fc5a2"/><rect x="612.71" fill="#21c1b0"/></g>
<g transform="translate(0 1233.6)"><rect x="0" fill="#f5e725" style="width:52.32px"/><rect x="51.92" fill="#f5ec22"/><rect x="62.31" fill="#f6f21e"/><rect x="72.69" fill="#f8f818" style="width:114.63px"/><rect x="186.93" fill="#f7f51b"/><rect x="197.31" fill="#f6f21e"/><rect x="207.7" fill="#f6ef20"/><rect x="218.08" fill="#f5ed22" style="width:41.94px"/><rect x="259.62" fill="#f5eb23"/><rect x="270.01" fill="#f5e924"/><rect x="280.39" fill="#f5e725"/><rect x="290.78" fill="#f5e526"/><rect x="301.16" fill="#f6e028"/><rect x="311.55" fill="#f7db2a"/><rect x="321.93" fill="#f9d62d"/><rect x="332.32" fill="#fcd12f"/><rect x="342.7" fill="#fdcd32"/><rect x="353.09" fill="#fec934"/><rect x="363.47" fill="#fec636"/><rect x="373.86" fill="#fec338"/><rect x="384.24" fill="#fec03a"/><rect x="394.63" fill="#febe3c"/><rect x="405.01" fill="#fabb3d"/><rect x="415.4" fill="#f6ba3b"/><rect x="425.78" fill="#eeba34"/><rect x="436.17" fill="#e5bb2d"/><rect x="446.55" fill="#dbbd29"/><rect x="456.94" fill="#d1bf27"/><rect x="467.32" fill="#c7c12a"/><rect x="477.71" fill="#bdc42f"/><rect x="488.09" fill="#b0c636"/><rect x="498.48" fill="#a3c83f"/><rect x="508.86" fill="#96ca48"/><rect x="519.25" fill="#88cb53"/><rect x="529.63" fill="#7dcc5c"/><rect x="540.02" fill="#71cd64"/><rect x="550.4" fill="#64cd6f"/><rect x="560.79" fill="#58cc79"/><rect x="571.17" fill="#4ccb83"/><rect x="581.56" fill="#41ca8c"/><rect x="591.94" fill="#37c898"/><rect x="602.33" fill="#2fc5a2"/><rect x="612.71" fill="#21c1b0"/></g>
<g transform="translate(0 1261.01)"><rect x="0" fill="#f5e825" style="width:52.32px"/><rect x="51.92" fill="#f5ed22"/><rect x="62.31" fill="#f6f31d"/><rect x="72.69" fill="#f8f818" style="width:114.63px"/><rect x="186.93" fill="#f7f51b"/><rect x="197.31" fill="#f7f31d"/><rect x="207.7" fill="#f6f01f"/><rect x="218.08" fill="#f5ed21" style="width:41.94px"/><rect x="259.62" fill="#f5eb23"/><rect x="270.01" fill="#f5ea24"/><rect x="280.39" fill="#f5e825"/><rect x="290.78" fill="#f5e626"/><rect x="301.16" fill="#f5e128"/><rect x="311.55" fill="#f7dc2a"/><rect x="321.93" fill="#f9d72c"/><rect x="332.32" fill="#fbd22f"/><rect x="342.7" fill="#fdce31"/><rect x="353.09" fill="#feca33"/><rect x="363.47" fill="#fec736"/><rect x="373.86" fill="#fec438"/><rect x="384.24" fill="#fec13a"/><rect x="394.63" fill="#febe3c"/><rect x="405.01" fill="#fabc3d"/><rect x="415.4" fill="#f6ba3b"/><rect x="425.78" fill="#efba35"/><rect x="436.17" fill="#e7bb2d"/><rect x="446.55" fill="#dcbd29"/><rect x="456.94" fill="#d1bf27"/><rect x="467.32" fill="#c7c12a"/><rect x="477.71" fill="#bdc42f"/><rect x="488.09" fill="#b0c636"/><rect x="498.48" fill="#a3c83f"/><rect x="508.86" fill="#96ca48"/><rect x="519.25" fill="#88cb53"/><rect x="529.63" fill="#7dcc5c"/><rect x="540.02" fill="#71cd64"/><rect x="550.4" fill="#64cd6f"/><rect x="560.79" fill="#58cc79"/><rect x="571.17" fill="#4ccb83"/><rect x="581.56" fill="#41ca8c"/><rect x="591.94" fill="#37c898"/><rect x="602.33" fill="#2fc5a2"/><rect x="612.71" fill="#21c1b0"/></g>
<g transform="translate(0 1288.43)"><rect x="0" fill="#f5e825" style="width:52.32px"/><rect x="51.92" fill="#f5ee21"/><rect x="62.31" fill="#f7f31d"/><rect x="72.69" fill="#f8f817" style="width:114.63px"/><rect x="186.93" fill="#f7f61a"/><rect x="197.31" fill="#f7f31d"/><rect x="207.7" fill="#f6f11f"/><rect x="218.08" fill="#f5ee21" style="width:41.94px"/><rect x="259.62" fill="#f5ec22"/><rect x="270.01" fill="#f5ea23"/><rect x="280.39" fill="#f5e825"/><rect x="290.78" fill="#f5e625"/><rect x="301.16" fill="#f5e227"/><rect x="311.55" fill="#f6de29"/><rect x="321.93" fill="#f8d92c"/><rect x="332.32" fill="#fbd42e"/><rect x="342.7" fill="#fccf30"/><rect x="353.09" fill="#fdca33"/><rect x="363.47" fill="#fec835"/><rect x="373.86" fill="#fec537"/><rect x="384.24" fill="#fec139"/><rect x="394.63" fill="#febe3c"/><rect x="405.01" fill="#fbbc3d"/><rect x="415.4" fill="#f7ba3c"/><rect x="425.78" fill="#f0ba36"/><rect x="436.17" fill="#e8bb2e"/><rect x="446.55" fill="#ddbd29"/><rect x="456.94" fill="#d2bf27"/><rect x="467.32" fill="#c8c129"/><rect x="477.71" fill="#bdc42f"/><rect x="488.09" fill="#b0c636"/><rect x="498.48" fill="#a3c83f"/><rect x="508.86" fill="#96ca48"/><rect x="519.25" fill="#88cb53"/><rect x="529.63" fill="#7dcc5c"/><rect x="540.02" fill="#71cd64"/><rect x="550.4" fill="#64cd6f"/><rect x="560.79" fill="#58cc79"/><rect x="571.17" fill="#4ccb83"/><rect x="581.56" fill="#41ca8c"/><rect x="591.94" fill="#37c898"/><rect x="602.33" fill="#2fc5a2"/><rect x="612.71" fill="#21c1b0"/></g>
<g transform="translate(0 1315.84)"><rect x="0" fill="#f5e924" style="width:52.32px"/><rect x="51.92" fill="#f5ee21"/><rect x="62.31" fill="#f7f41c"/><rect x="72.69" fill="#f8f917" style="width:114.63px"/><rect x="186.93" fill="#f8f61a"/><rect x="197.31" fill="#f7f41c"/><rect x="207.7" fill="#f6f11e"/><rect x="218.08" fill="#f6ef20" style="width:41.94px"/><rect x="259.62" fill="#f5ed22"/><rect x="270.01" fill="#f5eb23"/><rect x="280.39" fill="#f5e924"/><rect x="290.78" fill="#f5e725"/><rect x="301.16" fill="#f5e327"/><rect x="311.55" fill="#f6df29"/><rect x="321.93" fill="#f8da2b"/><rect x="332.32" fill="#fad52e"/><rect x="342.7" fill="#fcd030"/><rect x="353.09" fill="#fdcb33"/><rect x="363.47" fill="#fec834"/><rect x="373.86" fill="#fec636"/><rect x="384.24" fill="#fec239"/><rect x="394.63" fill="#febf3c"/><rect x="405.01" fill="#fbbc3d"/><rect x="415.4" fill="#f7ba3c"/><rect x="425.78" fill="#f0ba36"/><rect x="436.17" fill="#e9bb30"/><rect x="446.55" fill="#debc2a"/><rect x="456.94" fill="#d3bf27"/><rect x="467.32" fill="#c8c129"/><rect x="477.71" fill="#bdc42f"/><rect x="488.09" fill="#b0c636"/><rect x="498.48" fill="#a3c83f"/><rect x="508.86" fill="#96ca48"/><rect x="519.25" fill="#88cb53"/><rect x="529.63" fill="#7dcc5c"/><rect x="540.02" fill="#71cd64"/><rect x="550.4" fill="#64cd6f"/><rect x="560.79" fill="#58cc79"/><rect x="571.17" fill="#4ccb83"/><rect x="581.56" fill="#41ca8c"/><rect x="591.94" fill="#37c898"/><rect x="602.33" fill="#2fc5a2"/><rect x="612.71" fill="#21c1b0"/></g>
<g transform="translate(0 1343.25)"><rect x="0" fill="#f5ea24" style="width:52.32px"/><rect x="51.92" fill="#f6ef20"/><rect x="62.31" fill="#f7f41c"/><rect x="72.69" fill="#f8f917" style="width:114.63px"/><rect x="186.93" fill="#f8f719"/><rect x="197.31" fill="#f7f41c"/><rect x="207.7" fill="#f6f21e"/><rect x="218.08" fill="#f6f020" style="width:41.94px"/><rect x="259.62" fill="#f5ee21"/><rect x="270.01" fill="#f5ec22"/><rect x="280.39" fill="#f5ea24"/><rect x="290.78" fill="#f5e825"/><rect x="301.16" fill="#f5e427"/><rect x="311.55" fill="#f6e028"/><rect x="321.93" fill="#f7db2b"/><rect x="332.32" fill="#fad62d"/><rect x="342.7" fill="#fcd12f"/><rect x="353.09" fill="#fdcc32"/><rect x="363.47" fill="#fec934"/><rect x="373.86" fill="#fec636"/><rect x="384.24" fill="#fec339"/><rect x="394.63" fill="#febf3b"/><rect x="405.01" fill="#fcbc3d"/><rect x="415.4" fill="#f8ba3d"/><rect x="425.78" fill="#f1ba37"/><rect x="436.17" fill="#eaba31"/><rect x="446.55" fill="#dfbc2a"/><rect x="456.94" fill="#d3bf27"/><rect x="467.32" fill="#c8c129"/><rect x="477.71" fill="#bdc42f"/><rect x="488.09" fill="#b0c636"/><rect x="498.48" fill="#a3c83f"/><rect x="508.86" fill="#96ca48"/><rect x="519.25" fill="#88cb53"/><rect x="529.63" fill="#7dcc5c"/><rect x="540.02" fill="#71cd64"/><rect x="550.4" fill="#64cd6f"/><rect x="560.79" fill="#58cc79"/><rect x="571.17" fill="#4ccb83"/><rect x="581.56" fill="#41ca8c"/><rect x="591.94" fill="#37c898"/><rect x="602.33" fill="#2fc5a2"/><rect x="612.71" fill="#21c1b0"/></g>
<g transform="translate(0 1370.67)"><rect x="0" fill="#f5e626" style="width:52.32px"/><rect x="51.92" fill="#f5eb23"/><rect x="62.31" fill="#f6ef20"/><rect x="72.69" fill="#f7f31c" style="width:114.63px"/><rect x="186.93" fill="#f6f11e"/><rect x="197.31" fill="#f5ef20"/><rect x="207.7" fill="#f5ec22"/><rect x="218.08" fill="#f5ea24" style="width:62.71px"/><rect x="280.39" fill="#f5e725"/><rect x="290.78" fill="#f5e427"/><rect x="301.16" fill="#f5e227"/><rect x="311.55" fill="#f6e028"/><rect x="321.93" fill="#f7db2b"/><rect x="332.32" fill="#fad62d"/><rect x="342.7" fill="#fcd12f"/><rect x="353.09" fill="#fdcc32"/><rect x="363.47" fill="#fec934"/><rect x="373.86" fill="#fec636"/><rect x="384.24" fill="#fec338"/><rect x="394.63" fill="#fec13a"/><rect x="405.01" fill="#fdbd3d"/><rect x="415.4" fill="#fabb3d"/><rect x="425.78" fill="#f4ba39"/><rect x="436.17" fill="#edba33"/><rect x="446.55" fill="#e4bb2c"/><rect x="456.94" fill="#dabd28"/><rect x="467.32" fill="#d0c027"/><rect x="477.71" fill="#c4c22a"/><rect x="488.09" fill="#b6c532"/><rect x="498.48" fill="#a8c73b"/><rect x="508.86" fill="#9ac945"/><rect x="519.25" fill="#8dcb4f"/><rect x="529.63" fill="#7fcc5a"/><rect x="540.02" fill="#71cd64"/><rect x="550.4" fill="#64cd6f"/><rect x="560.79" fill="#58cc79"/><rect x="571.17" fill="#4ccb83"/><rect x="581.56" fill="#41ca8c"/><rect x="591.94" fill="#37c898"/><rect x="602.33" fill="#2fc5a2"/><rect x="612.71" fill="#24c2ae"/></g>
<g transform="translate(0 1398.08)"><rect x="0" fill="#f5e227" style="width:52.32px"/><rect x="51.92" fill="#f5e725"/><rect x="62.31" fill="#f5eb23"/><rect x="72.69" fill="#f6f020" style="width:114.63px"/><rect x="186.93" fill="#f5ed21"/><rect x="197.31" fill="#f5eb23"/><rect x="207.7" fill="#f5e824"/><rect x="218.08" fill="#f5e626" style="width:62.71px"/><rect x="280.39" fill="#f5e327"/><rect x="290.78" fill="#f6e028"/><rect x="301.16" fill="#f6de29"/><rect x="311.55" fill="#f7dc2a"/><rect x="321.93" fill="#f9d72c"/><rect x="332.32" fill="#fbd32e"/><rect x="342.7" fill="#fdce31"/><rect x="353.09" fill="#feca33"/><rect x="363.47" fill="#fec735"/><rect x="373.86" fill="#fec437"/><rect x="384.24" fill="#fec239"/><rect x="394.63" fill="#febf3b"/><rect x="405.01" fill="#fcbc3d"/><rect x="415.4" fill="#f8ba3d"/><rect x="425.78" fill="#f0ba36"/><rect x="436.17" fill="#e7bb2e"/><rect x="446.55" fill="#debd29"/><rect x="456.94" fill="#d3bf27"/><rect x="467.32" fill="#c8c129"/><rect x="477.71" fill="#bdc42f"/><rect x="488.09" fill="#aec637"/><rect x="498.48" fill="#9fc942"/><rect x="508.86" fill="#91ca4c"/><rect x="519.25" fill="#84cc56"/><rect x="529.63" fill="#76cc61"/><rect x="540.02" fill="#68cd6b"/><rect x="550.4" fill="#5ccc76"/><rect x="560.79" fill="#50cc80"/><rect x="571.17" fill="#44cb89"/><rect x="581.56" fill="#3bc992"/><rect x="591.94" fill="#33c69d"/><rect x="602.33" fill="#2cc4a7"/><rect x="612.71" fill="#1ec0b2"/></g>
<g transform="translate(0 1425.49)"><rect x="0" fill="#f6de29" style="width:52.32px"/><rect x="51.92" fill="#f5e128"/><rect x="62.31" fill="#f5e526"/><rect x="72.69" fill="#f5e825" style="width:114.63px"/><rect x="186.93" fill="#f5e626"/><rect x="197.31" fill="#f5e327"/><rect x="207.7" fill="#f6e128"/><rect x="218.08" fill="#f6de29" style="width:62.71px"/><rect x="280.39" fill="#f7dc2a"/><rect x="290.78" fill="#f8da2b"/><rect x="301.16" fill="#f9d82c"/><rect x="311.55" fill="#fad62d"/><rect x="321.93" fill="#fbd32e"/><rect x="332.32" fill="#fcd030"/><rect x="342.7" fill="#fdcc32"/><rect x="353.09" fill="#fec835"/><rect x="363.47" fill="#fec437"/><rect x="373.86" fill="#fec13a"/><rect x="384.24" fill="#febe3c"/><rect x="394.63" fill="#fcbc3d"/><rect x="405.01" fill="#f7ba3c"/><rect x="415.4" fill="#f0ba36"/><rect x="425.78" fill="#e9bb2f"/><rect x="436.17" fill="#e1bc2b"/><rect x="446.55" fill="#d7be28"/><rect x="456.94" fill="#ccc028"/><rect x="467.32" fill="#c1c32d"/><rect x="477.71" fill="#b4c533"/><rect x="488.09" fill="#a5c83d"/><rect x="498.48" fill="#96ca48"/><rect x="508.86" fill="#88cb53"/><rect x="519.25" fill="#7acc5d"/><rect x="529.63" fill="#6fcd66"/><rect x="540.02" fill="#64cd6f"/><rect x="550.4" fill="#56cc7b"/><rect x="560.79" fill="#48cb86"/><rect x="571.17" fill="#3dc991"/><rect x="581.56" fill="#35c79a"/><rect x="591.94" fill="#2ec4a5"/><rect x="602.33" fill="#24c2ae"/><rect x="612.71" fill="#16bfb7"/></g>
<g transform="translate(0 1452.91)"><rect x="0" fill="#fad42e" style="width:52.32px"/><rect x="51.92" fill="#f9d82c"/><rect x="62.31" fill="#f7dc2a"/><rect x="72.69" fill="#f6e028" style="width:114.63px"/><rect x="186.93" fill="#f6de29"/><rect x="197.31" fill="#f7db2b"/><rect x="207.7" fill="#f8d82c"/><rect x="218.08" fill="#fad62d" style="width:62.71px"/><rect x="280.39" fill="#fad42e"/><rect x="290.78" fill="#fbd22f"/><rect x="301.16" fill="#fcd030"/><rect x="311.55" fill="#fdce31"/><rect x="321.93" fill="#fdcb33"/><rect x="332.32" fill="#fec835"/><rect x="342.7" fill="#fec437"/><rect x="353.09" fill="#fec13a"/><rect x="363.47" fill="#febe3c"/><rect x="373.86" fill="#fcbc3d"/><rect x="384.24" fill="#f7ba3c"/><rect x="394.63" fill="#f0ba36"/><rect x="405.01" fill="#e9bb2f"/><rect x="415.4" fill="#e1bc2b"/><rect x="425.78" fill="#d7be28"/><rect x="436.17" fill="#ccc028"/><rect x="446.55" fill="#c3c22b"/><rect x="456.94" fill="#b9c431"/><rect x="467.32" fill="#acc738"/><rect x="477.71" fill="#9fc942"/><rect x="488.09" fill="#91ca4c"/><rect x="498.48" fill="#84cc56"/><rect x="508.86" fill="#78cc5f"/><rect x="519.25" fill="#6dcd68"/><rect x="529.63" fill="#60cd72"/><rect x="540.02" fill="#54cc7d"/><rect x="550.4" fill="#46cb88"/><rect x="560.79" fill="#3bc992"/><rect x="571.17" fill="#33c69d"/><rect x="581.56" fill="#2cc4a7"/><rect x="591.94" fill="#23c1af"/><rect x="602.33" fill="#16bfb7"/><rect x="612.71" fill="#07bcc0"/></g>
<g transform="translate(0 1480.32)"><rect x="0" fill="#feca33" style="width:52.32px"/><rect x="51.92" fill="#fdce31"/><rect x="62.31" fill="#fbd22f"/><rect x="72.69" fill="#fad62d" style="width:114.63px"/><rect x="186.93" fill="#fbd32e"/><rect x="197.31" fill="#fcd12f"/><rect x="207.7" fill="#fdce31"/><rect x="218.08" fill="#fdcc32" style="width:62.71px"/><rect x="280.39" fill="#feca33"/><rect x="290.78" fill="#fec835"/><rect x="301.16" fill="#fec735"/><rect x="311.55" fill="#fec636"/><rect x="321.93" fill="#fec339"/><rect x="332.32" fill="#febf3b"/><rect x="342.7" fill="#fcbd3d"/><rect x="353.09" fill="#fabb3d"/><rect x="363.47" fill="#f4ba39"/><rect x="373.86" fill="#edba33"/><rect x="384.24" fill="#e6bb2d"/><rect x="394.63" fill="#debd29"/><rect x="405.01" fill="#d5be28"/><rect x="415.4" fill="#ccc028"/><rect x="425.78" fill="#c3c22b"/><rect x="436.17" fill="#b9c431"/><rect x="446.55" fill="#acc738"/><rect x="456.94" fill="#9fc942"/><rect x="467.32" fill="#91ca4c"/><rect x="477.71" fill="#84cc56"/><rect x="488.09" fill="#78cc5f"/><rect x="498.48" fill="#6dcd68"/><rect x="508.86" fill="#60cd72"/><rect x="519.25" fill="#54cc7d"/><rect x="529.63" fill="#46cb88"/><rect x="540.02" fill="#3bc992"/><rect x="550.4" fill="#33c69d"/><rect x="560.79" fill="#2cc4a7"/><rect x="571.17" fill="#23c1af"/><rect x="581.56" fill="#16bfb7"/><rect x="591.94" fill="#07bcc0"/><rect x="602.33" fill="#01b8c8"/><rect x="612.71" fill="#07b5d0"/></g>
<g transform="translate(0 1507.73)"><rect x="0" fill="#fec13a" style="width:52.32px"/><rect x="51.92" fill="#fec437"/><rect x="62.31" fill="#fec835"/><rect x="72.69" fill="#fdcc32" style="width:114.63px"/><rect x="186.93" fill="#feca33"/><rect x="197.31" fill="#fec835"/><rect x="207.7" fill="#fec636"/><rect x="218.08" fill="#fec437" style="width:62.71px"/><rect x="280.39" fill="#fec339"/><rect x="290.78" fill="#fec13a"/><rect x="301.16" fill="#fec03b"/><rect x="311.55" fill="#febf3b"/><rect x="321.93" fill="#fcbc3d"/><rect x="332.32" fill="#f8ba3d"/><rect x="342.7" fill="#f1ba37"/><rect x="353.09" fill="#eaba31"/><rect x="363.47" fill="#e2bc2b"/><rect x="373.86" fill="#dabd28"/><rect x="384.24" fill="#d2bf27"/><rect x="394.63" fill="#c8c129"/><rect x="405.01" fill="#bfc32e"/><rect x="415.4" fill="#b4c533"/><rect x="425.78" fill="#a8c73b"/><rect x="436.17" fill="#9ac945"/><rect x="446.55" fill="#8dcb4f"/><rect x="456.94" fill="#7fcc5a"/><rect x="467.32" fill="#71cd64"/><rect x="477.71" fill="#64cd6f"/><rect x="488.09" fill="#56cc7b"/><rect x="498.48" fill="#48cb86"/><rect x="508.86" fill="#3dc991"/><rect x="519.25" fill="#35c79a"/><rect x="529.63" fill="#2ec4a5"/><rect x="540.02" fill="#24c2ae"/><rect x="550.4" fill="#18bfb6"/><rect x="560.79" fill="#0abdbd"/><rect x="571.17" fill="#02bac4"/><rect x="581.56" fill="#01b8ca"/><rect x="591.94" fill="#0ab4d2"/><rect x="602.33" fill="#15afd9"/><rect x="612.71" fill="#1caadf"/></g>
<g transform="translate(0 1535.15)"><rect x="0" fill="#fabb3d" style="width:52.32px"/><rect x="51.92" fill="#fbbc3d"/><rect x="62.31" fill="#fcbd3d"/><rect x="72.69" fill="#fdbd3d" style="width:114.63px"/><rect x="186.93" fill="#fcbd3d"/><rect x="197.31" fill="#fcbc3d"/><rect x="207.7" fill="#fbbc3d"/><rect x="218.08" fill="#fabb3d" style="width:41.94px"/><rect x="259.62" fill="#f8ba3d"/><rect x="270.01" fill="#f5ba3a"/><rect x="280.39" fill="#f1ba37"/><rect x="290.78" fill="#edba33"/><rect x="301.16" fill="#e7bb2e"/><rect x="311.55" fill="#e1bc2b"/><rect x="321.93" fill="#d9be28"/><rect x="332.32" fill="#d0c027"/><rect x="342.7" fill="#c8c129"/><rect x="353.09" fill="#c1c32d"/><rect x="363.47" fill="#b6c532"/><rect x="373.86" fill="#acc738"/><rect x="384.24" fill="#a1c840"/><rect x="394.63" fill="#96ca48"/><rect x="405.01" fill="#88cb53"/><rect x="415.4" fill="#7acc5d"/><rect x="425.78" fill="#6fcd66"/><rect x="436.17" fill="#64cd6f"/><rect x="446.55" fill="#56cc7b"/><rect x="456.94" fill="#48cb86"/><rect x="467.32" fill="#3dc991"/><rect x="477.71" fill="#35c79a"/><rect x="488.09" fill="#2ec4a5"/><rect x="498.48" fill="#24c2ae"/><rect x="508.86" fill="#18bfb6"/><rect x="519.25" fill="#0abdbd"/><rect x="529.63" fill="#02bac4"/><rect x="540.02" fill="#01b8ca"/><rect x="550.4" fill="#07b5d0"/><rect x="560.79" fill="#11b1d6"/><rect x="571.17" fill="#17aeda"/><rect x="581.56" fill="#1caadf"/><rect x="591.94" fill="#1fa5e2"/><rect x="602.33" fill="#23a0e5"/><rect x="612.71" fill="#269ae8"/></g>
<g transform="translate(0 1562.56)"><rect x="0" fill="#d7be28" style="width:52.32px"/><rect x="51.92" fill="#dabd28"/><rect x="62.31" fill="#debd29"/><rect x="72.69" fill="#e1bc2b" style="width:114.63px"/><rect x="186.93" fill="#dfbc2a"/><rect x="197.31" fill="#debd29"/><rect x="207.7" fill="#dcbd29"/><rect x="218.08" fill="#dabd28" style="width:41.94px"/><rect x="259.62" fill="#d5be28"/><rect x="270.01" fill="#d0c027"/><rect x="280.39" fill="#cac129"/><rect x="290.78" fill="#c4c22a"/><rect x="301.16" fill="#bdc42f"/><rect x="311.55" fill="#b4c533"/><rect x="321.93" fill="#aac73a"/><rect x="332.32" fill="#9fc942"/><rect x="342.7" fill="#94ca4a"/><rect x="353.09" fill="#88cb53"/><rect x="363.47" fill="#7dcc5c"/><rect x="373.86" fill="#71cd64"/><rect x="384.24" fill="#64cd6f"/><rect x="394.63" fill="#58cc79"/><rect x="405.01" fill="#4ccb83"/><rect x="415.4" fill="#41ca8c"/><rect x="425.78" fill="#37c898"/><rect x="436.17" fill="#2fc5a2"/><rect x="446.55" fill="#27c2ac"/><rect x="456.94" fill="#1ac0b5"/><rect x="467.32" fill="#0bbdbc"/><rect x="477.71" fill="#02bac4"/><rect x="488.09" fill="#01b8ca"/><rect x="498.48" fill="#07b5d0"/><rect x="508.86" fill="#0fb2d5"/><rect x="519.25" fill="#15afd9"/><rect x="529.63" fill="#1aacdd"/><rect x="540.02" fill="#1da9e0"/><rect x="550.4" fill="#1fa5e2"/><rect x="560.79" fill="#22a1e4"/><rect x="571.17" fill="#259ce7"/><rect x="581.56" fill="#2797eb"/><rect x="591.94" fill="#2a92ee"/><rect x="602.33" fill="#2d8df2"/><rect x="612.71" fill="#2e87f7"/></g>
<g transform="translate(0 1589.97)"><rect x="0" fill="#3bc992"/><rect x="10.38" fill="#48cb86" style="width:21.17px"/><rect x="31.15" fill="#58cc79" style="width:21.17px"/><rect x="51.92" fill="#60cd72"/><rect x="62.31" fill="#68cd6b"/><rect x="72.69" fill="#71cd64"/><rect x="83.08" fill="#84cc56" style="width:104.25px"/><rect x="186.93" fill="#7acc5d"/><rect x="197.31" fill="#74cc62"/><rect x="207.7" fill="#6ecd67"/><rect x="218.08" fill="#68cd6b"/><rect x="228.47" fill="#5ccc76"/><rect x="238.85" fill="#54cc7d"/><rect x="249.24" fill="#4ccb83"/><rect x="259.62" fill="#46cb88"/><rect x="270.01" fill="#41ca8c"/><rect x="280.39" fill="#3dc991"/><rect x="290.78" fill="#39c895"/><rect x="301.16" fill="#35c79a"/><rect x="311.55" fill="#31c6a0"/><rect x="321.93" fill="#2ec4a5"/><rect x="332.32" fill="#29c3a9"/><rect x="342.7" fill="#23c1af"/><rect x="353.09" fill="#1ac0b5"/><rect x="363.47" fill="#12beb9"/><rect x="373.86" fill="#0abdbd"/><rect x="384.24" fill="#02bbc3"/><rect x="394.63" fill="#01b8c8"/><rect x="405.01" fill="#03b7cc"/><rect x="415.4" fill="#07b5d0"/><rect x="425.78" fill="#0fb2d5"/><rect x="436.17" fill="#15afd9"/><rect x="446.55" fill="#19addc"/><rect x="456.94" fill="#1caadf"/><rect x="467.32" fill="#1ea7e1"/><rect x="477.71" fill="#21a3e3"/><rect x="488.09" fill="#249fe5"/><rect x="498.48" fill="#259ce7"/><rect x="508.86" fill="#2798ea"/><rect x="519.25" fill="#2994ed"/><rect x="529.63" fill="#2c90f0"/><rect x="540.02" fill="#2d8cf3"/><rect x="550.4" fill="#2d87f6"/><rect x="560.79" fill="#2e83f9"/><rect x="571.17" fill="#3080fb"/><rect x="581.56" fill="#327cfc"/><rect x="591.94" fill="#3974fe"/><rect x="602.33" fill="#3f6eff"/><rect x="612.71" fill="#4465fd"/></g>
<g transform="translate(0 1617.39)"><rect x="0" fill="#03b7cc"/><rect x="10.38" fill="#01b8c8"/><rect x="20.77" fill="#12beb9"/><rect x="31.15" fill="#24c2ae"/><rect x="41.54" fill="#31c6a0"/><rect x="51.92" fill="#3bc993"/><rect x="62.31" fill="#49cb85"/><rect x="72.69" fill="#5ccc76"/><rect x="83.08" fill="#76cc61" style="width:104.25px"/><rect x="186.93" fill="#71cd64"/><rect x="197.31" fill="#61cd71"/><rect x="207.7" fill="#52cc7e"/><rect x="218.08" fill="#44cb89"/><rect x="228.47" fill="#39c895"/><rect x="238.85" fill="#2fc5a2"/><rect x="249.24" fill="#29c3a9"/><rect x="259.62" fill="#21c1b0"/><rect x="270.01" fill="#16bfb7"/><rect x="280.39" fill="#0abdbd"/><rect x="290.78" fill="#02bac4"/><rect x="301.16" fill="#01b8ca"/><rect x="311.55" fill="#05b6ce"/><rect x="321.93" fill="#0ab4d2"/><rect x="332.32" fill="#11b1d6"/><rect x="342.7" fill="#14b0d8"/><rect x="353.09" fill="#17aeda"/><rect x="363.47" fill="#1aacdd"/><rect x="373.86" fill="#1caadf" style="width:93.86px"/><rect x="467.32" fill="#1ca9df"/><rect x="477.71" fill="#1da9e0"/><rect x="488.09" fill="#1fa6e2"/><rect x="498.48" fill="#21a3e3"/><rect x="508.86" fill="#22a1e4"/><rect x="519.25" fill="#23a0e5"/><rect x="529.63" fill="#249ee6"/><rect x="540.02" fill="#259ce7"/><rect x="550.4" fill="#2798ea"/><rect x="560.79" fill="#2994ed"/><rect x="571.17" fill="#2c90f0"/><rect x="581.56" fill="#2d8cf3"/><rect x="591.94" fill="#2e83f9"/><rect x="602.33" fill="#347afd"/><rect x="612.71" fill="#4369fe"/></g>
</g>
<g clip-path="url(#clipa)">
<path class="vh" d="M256.88 101V1745.8M267.27 101V1745.8M288.04 101V1745.8M298.43 101V1745.8M319.19 101V1745.8M329.58 101V1745.8M350.35 101V1745.8M360.74 101V1745.8M381.5 101V1745.8M391.89 101V1745.8M412.66 101V1745.8M423.04 101V1745.8M443.81 101V1745.8M454.2 101V1745.8M474.97 101V1745.8M485.35 101V1745.8M506.12 101V1745.8M516.51 101V1745.8M537.28 101V1745.8M547.66 101V1745.8M568.43 101V1745.8M578.82 101V1745.8M599.59 101V1745.8M609.97 101V1745.8M630.74 101V1745.8M641.13 101V1745.8M661.9 101V1745.8M672.28 101V1745.8M693.05 101V1745.8M703.44 101V1745.8M724.21 101V1745.8M734.59 101V1745.8M755.36 101V1745.8M765.75 101V1745.8M786.52 101V1745.8M796.9 101V1745.8M817.67 101V1745.8M828.06 101V1745.8M848.83 101V1745.8M859.21 101V1745.8M277.65 101V1745.8M308.81 101V1745.8M339.96 101V1745.8M371.12 101V1745.8M402.27 101V1745.8M433.43 101V1745.8M464.58 101V1745.8M495.74 101V1745.8M526.89 101V1745.8M558.05 101V1745.8M589.2 101V1745.8M620.36 101V1745.8M651.51 101V1745.8M682.67 101V1745.8M713.82 101V1745.8M744.98 101V1745.8M776.13 101V1745.8M807.29 101V1745.8M838.44 101V1745.8M245.9 101V1745.8M870.2 101V1745.8"/>
<path class="hh" d="M246.5 128.41H869.6M246.5 155.83H869.6M246.5 183.24H869.6M246.5 210.65H869.6M246.5 238.07H869.6M246.5 265.48H869.6M246.5 292.89H869.6M246.5 320.31H869.6M246.5 347.72H869.6M246.5 375.13H869.6M246.5 402.55H869.6M246.5 429.96H869.6M246.5 457.37H869.6M246.5 484.79H869.6M246.5 512.2H869.6M246.5 539.61H869.6M246.5 567.03H869.6M246.5 594.44H869.6M246.5 621.85H869.6M246.5 649.27H869.6M246.5 676.68H869.6M246.5 704.09H869.6M246.5 731.51H869.6M246.5 758.92H869.6M246.5 786.33H869.6M246.5 813.75H869.6M246.5 841.16H869.6M246.5 868.57H869.6M246.5 895.99H869.6M246.5 923.4H869.6M246.5 950.81H869.6M246.5 978.23H869.6M246.5 1005.64H869.6M246.5 1033.05H869.6M246.5 1060.47H869.6M246.5 1087.88H869.6M246.5 1115.29H869.6M246.5 1142.71H869.6M246.5 1170.12H869.6M246.5 1197.53H869.6M246.5 1224.95H869.6M246.5 1252.36H869.6M246.5 1279.77H869.6M246.5 1307.19H869.6M246.5 1334.6H869.6M246.5 1362.01H869.6M246.5 1389.43H869.6M246.5 1416.84H869.6M246.5 1444.25H869.6M246.5 1471.67H869.6M246.5 1499.08H869.6M246.5 1526.49H869.6M246.5 1553.91H869.6M246.5 1581.32H869.6M246.5 1608.73H869.6M246.5 1636.15H869.6M246.5 1663.56H869.6M246.5 1690.97H869.6M246.5 1718.39H869.6M246.5 101.4H869.6M246.5 1745.4H869.6"/>
</g>
<path class="vf" d="M277.65 101V1745.8M308.81 101V1745.8M339.96 101V1745.8M371.12 101V1745.8M402.27 101V1745.8M433.43 101V1745.8M464.58 101V1745.8M495.74 101V1745.8M526.89 101V1745.8M558.05 101V1745.8M589.2 101V1745.8M620.36 101V1745.8M651.51 101V1745.8M682.67 101V1745.8M713.82 101V1745.8M744.98 101V1745.8M776.13 101V1745.8M807.29 101V1745.8M838.44 101V1745.8"/>
<path class="vc" d="M256.88 101V1745.8M267.27 101V1745.8M288.04 101V1745.8M298.43 101V1745.8M319.19 101V1745.8M329.58 101V1745.8M350.35 101V1745.8M360.74 101V1745.8M381.5 101V1745.8M391.89 101V1745.8M412.66 101V1745.8M423.04 101V1745.8M443.81 101V1745.8M454.2 101V1745.8M474.97 101V1745.8M485.35 101V1745.8M506.12 101V1745.8M516.51 101V1745.8M537.28 101V1745.8M547.66 101V1745.8M568.43 101V1745.8M578.82 101V1745.8M599.59 101V1745.8M609.97 101V1745.8M630.74 101V1745.8M641.13 101V1745.8M661.9 101V1745.8M672.28 101V1745.8M693.05 101V1745.8M703.44 101V1745.8M724.21 101V1745.8M734.59 101V1745.8M755.36 101V1745.8M765.75 101V1745.8M786.52 101V1745.8M796.9 101V1745.8M817.67 101V1745.8M828.06 101V1745.8M848.83 101V1745.8M859.21 101V1745.8"/>
<path class="hc" d="M246.5 128.41H869.6M246.5 155.83H869.6M246.5 183.24H869.6M246.5 210.65H869.6M246.5 238.07H869.6M246.5 265.48H869.6M246.5 292.89H869.6M246.5 320.31H869.6M246.5 347.72H869.6M246.5 375.13H869.6M246.5 402.55H869.6M246.5 429.96H869.6M246.5 457.37H869.6M246.5 484.79H869.6M246.5 512.2H869.6M246.5 539.61H869.6M246.5 567.03H869.6M246.5 594.44H869.6M246.5 621.85H869.6M246.5 649.27H869.6M246.5 676.68H869.6M246.5 704.09H869.6M246.5 731.51H869.6M246.5 758.92H869.6M246.5 786.33H869.6M246.5 813.75H869.6M246.5 841.16H869.6M246.5 868.57H869.6M246.5 895.99H869.6M246.5 923.4H869.6M246.5 950.81H869.6M246.5 978.23H869.6M246.5 1005.64H869.6M246.5 1033.05H869.6M246.5 1060.47H869.6M246.5 1087.88H869.6M246.5 1115.29H869.6M246.5 1142.71H869.6M246.5 1170.12H869.6M246.5 1197.53H869.6M246.5 1224.95H869.6M246.5 1252.36H869.6M246.5 1279.77H869.6M246.5 1307.19H869.6M246.5 1334.6H869.6M246.5 1362.01H869.6M246.5 1389.43H869.6M246.5 1416.84H869.6M246.5 1444.25H869.6M246.5 1471.67H869.6M246.5 1499.08H869.6M246.5 1526.49H869.6M246.5 1553.91H869.6M246.5 1581.32H869.6M246.5 1608.73H869.6M246.5 1636.15H869.6M246.5 1663.56H869.6M246.5 1690.97H869.6M246.5 1718.39H869.6"/>
<rect class="bd" x="245.3" y="101" width="625.5" height="1644.8"/>
<rect class="gv" x="296.75" y="100" width="26" height="1646.8"/>
<rect class="gv" x="440.3" y="100" width="26" height="1646.8"/>
<rect class="gh" x="305.85" y="92.2" width="149.85" height="19.7"/>
<rect class="gh" x="305.85" y="1734.9" width="149.85" height="19.6"/>
<g class="c" transform="translate(1429.5 101)">
<g transform="translate(0 0)"><rect x="0" fill="#3876fe"/><rect x="10.39" fill="#2f81fa" style="width:41.94px"/><rect x="51.93" fill="#2e87f7"/><rect x="62.31" fill="#2d8df2"/><rect x="72.7" fill="#2a92ee" style="width:114.64px"/><rect x="186.93" fill="#2c8ff0"/><rect x="197.32" fill="#2d8df3"/><rect x="207.7" fill="#2d8af5"/><rect x="218.09" fill="#2e87f7" style="width:41.94px"/><rect x="259.63" fill="#2e83f9"/><rect x="270.01" fill="#3080fb" style="width:52.33px"/><rect x="321.94" fill="#317efb"/><rect x="332.32" fill="#317dfc"/><rect x="342.71" fill="#327cfc"/><rect x="353.09" fill="#347afd"/><rect x="363.48" fill="#3579fd"/><rect x="373.86" fill="#3777fe"/><rect x="384.25" fill="#3876fe"/><rect x="394.63" fill="#3974fe"/><rect x="405.02" fill="#3c72ff"/><rect x="415.4" fill="#3e6fff"/><rect x="425.79" fill="#406dfe"/><rect x="436.17" fill="#416bfe"/><rect x="446.56" fill="#4369fe"/><rect x="456.94" fill="#4367fd"/><rect x="467.33" fill="#4465fd"/><rect x="477.71" fill="#4563fd"/><rect x="488.1" fill="#4561fc"/><rect x="498.48" fill="#465ffb"/><rect x="508.87" fill="#465efb"/><rect x="519.25" fill="#475cfa"/><rect x="529.64" fill="#475bf9"/><rect x="540.02" fill="#4759f8"/><rect x="550.41" fill="#4758f8"/><rect x="560.79" fill="#4757f7"/><rect x="571.18" fill="#4756f7"/><rect x="581.56" fill="#4755f6"/><rect x="591.95" fill="#4854f6"/><rect x="602.33" fill="#4854f5"/><rect x="612.72" fill="#4853f5"/></g>
<g transform="translate(0 27.41)"><rect x="0" fill="#3876fe"/><rect x="10.39" fill="#2f82f9" style="width:41.94px"/><rect x="51.93" fill="#2d88f6"/><rect x="62.31" fill="#2c8ef2"/><rect x="72.7" fill="#2a93ee" style="width:114.64px"/><rect x="186.93" fill="#2b90f0"/><rect x="197.32" fill="#2c8ef2"/><rect x="207.7" fill="#2d8bf4"/><rect x="218.09" fill="#2d88f6" style="width:41.94px"/><rect x="259.63" fill="#2e84f8"/><rect x="270.01" fill="#3080fa" style="width:31.56px"/><rect x="301.17" fill="#3080fb" style="width:21.17px"/><rect x="321.94" fill="#317efb"/><rect x="332.32" fill="#317dfc"/><rect x="342.71" fill="#337bfc"/><rect x="353.09" fill="#347afd"/><rect x="363.48" fill="#3678fd"/><rect x="373.86" fill="#3776fe"/><rect x="384.25" fill="#3975fe"/><rect x="394.63" fill="#3a73fe"/><rect x="405.02" fill="#3d71ff"/><rect x="415.4" fill="#3f6eff"/><rect x="425.79" fill="#406cfe"/><rect x="436.17" fill="#426afe"/><rect x="446.56" fill="#4368fd"/><rect x="456.94" fill="#4466fd"/><rect x="467.33" fill="#4564fd"/><rect x="477.71" fill="#4562fc"/><rect x="488.1" fill="#4660fb"/><rect x="498.48" fill="#465efb"/><rect x="508.87" fill="#475cfa"/><rect x="519.25" fill="#475af9"/><rect x="529.64" fill="#4759f8"/><rect x="540.02" fill="#4757f8"/><rect x="550.41" fill="#4756f7"/><rect x="560.79" fill="#4755f6"/><rect x="571.18" fill="#4854f5"/><rect x="581.56" fill="#4853f5" style="width:21.17px"/><rect x="602.33" fill="#4852f4"/><rect x="612.72" fill="#4851f4"/></g>
<g transform="translate(0 54.83)"><rect x="0" fill="#3876fe"/><rect x="10.39" fill="#2e83f9" style="width:41.94px"/><rect x="51.93" fill="#2d89f5"/><rect x="62.31" fill="#2c8ef1"/><rect x="72.7" fill="#2994ed" style="width:114.64px"/><rect x="186.93" fill="#2b91ef"/><rect x="197.32" fill="#2c8ff1"/><rect x="207.7" fill="#2d8cf3"/><rect x="218.09" fill="#2d89f5" style="width:41.94px"/><rect x="259.63" fill="#2e85f8"/><rect x="270.01" fill="#2f81fa"/><rect x="280.4" fill="#2f80fa"/><rect x="290.78" fill="#3080fa" style="width:21.17px"/><rect x="311.55" fill="#3080fb"/><rect x="321.94" fill="#317efb"/><rect x="332.32" fill="#327cfc"/><rect x="342.71" fill="#337bfd"/><rect x="353.09" fill="#3579fd"/><rect x="363.48" fill="#3677fe"/><rect x="373.86" fill="#3876fe"/><rect x="384.25" fill="#3a74fe"/><rect x="394.63" fill="#3b72ff"/><rect x="405.02" fill="#3e70ff"/><rect x="415.4" fill="#3f6dfe"/><rect x="425.79" fill="#416bfe"/><rect x="436.17" fill="#4369fe"/><rect x="446.56" fill="#4367fd"/><rect x="456.94" fill="#4464fd"/><rect x="467.33" fill="#4562fc"/><rect x="477.71" fill="#4660fc"/><rect x="488.1" fill="#465efb"/><rect x="498.48" fill="#475cfa"/><rect x="508.87" fill="#475af9"/><rect x="519.25" fill="#4758f8"/><rect x="529.64" fill="#4757f7"/><rect x="540.02" fill="#4756f6"/><rect x="550.41" fill="#4854f6"/><rect x="560.79" fill="#4853f5"/><rect x="571.18" fill="#4852f4" style="width:21.17px"/><rect x="591.95" fill="#4851f3"/><rect x="602.33" fill="#4850f3"/><rect x="612.72" fill="#4850f2"/></g>
<g transform="translate(0 82.24)"><rect x="0" fill="#3876fe"/><rect x="10.39" fill="#2e84f8" style="width:41.94px"/><rect x="51.93" fill="#2d8af5"/><rect x="62.31" fill="#2c8ff0"/><rect x="72.7" fill="#2995ec" style="width:114.64px"/><rect x="186.93" fill="#2a92ee"/><rect x="197.32" fill="#2c90f0"/><rect x="207.7" fill="#2d8df2"/><rect x="218.09" fill="#2d8af4" style="width:41.94px"/><rect x="259.63" fill="#2e86f7"/><rect x="270.01" fill="#2f81fa" style="width:21.17px"/><rect x="290.78" fill="#2f80fa"/><rect x="301.17" fill="#3080fa"/><rect x="311.55" fill="#3080fb"/><rect x="321.94" fill="#317efb"/><rect x="332.32" fill="#327cfc"/><rect x="342.71" fill="#337afd"/><rect x="353.09" fill="#3579fd"/><rect x="363.48" fill="#3777fe"/><rect x="373.86" fill="#3975fe"/><rect x="384.25" fill="#3a73fe"/><rect x="394.63" fill="#3c71ff"/><rect x="405.02" fill="#3e6fff"/><rect x="415.4" fill="#406cfe"/><rect x="425.79" fill="#426afe"/><rect x="436.17" fill="#4368fd"/><rect x="446.56" fill="#4466fd"/><rect x="456.94" fill="#4563fd"/><rect x="467.33" fill="#4561fc"/><rect x="477.71" fill="#465ffb"/><rect x="488.1" fill="#465dfa"/><rect x="498.48" fill="#475bf9"/><rect x="508.87" fill="#4759f8"/><rect x="519.25" fill="#4757f7"/><rect x="529.64" fill="#4755f6"/><rect x="540.02" fill="#4854f5"/><rect x="550.41" fill="#4853f4"/><rect x="560.79" fill="#4851f4"/><rect x="571.18" fill="#4851f3"/><rect x="581.56" fill="#4850f2"/><rect x="591.95" fill="#484ff2"/><rect x="602.33" fill="#484ef1" style="width:21.17px"/></g>
<g transform="translate(0 109.65)"><rect x="0" fill="#3876fe"/><rect x="10.39" fill="#2e85f8" style="width:41.94px"/><rect x="51.93" fill="#2d8bf4"/><rect x="62.31" fill="#2c90f0"/><rect x="72.7" fill="#2895ec" style="width:114.64px"/><rect x="186.93" fill="#2a93ee"/><rect x="197.32" fill="#2b91ef"/><rect x="207.7" fill="#2c8ef1"/><rect x="218.09" fill="#2d8cf3" style="width:41.94px"/><rect x="259.63" fill="#2e87f7"/><rect x="270.01" fill="#2f81fa" style="width:31.56px"/><rect x="301.17" fill="#3080fa"/><rect x="311.55" fill="#3080fb"/><rect x="321.94" fill="#317efb"/><rect x="332.32" fill="#327cfc"/><rect x="342.71" fill="#347afd"/><rect x="353.09" fill="#3678fd"/><rect x="363.48" fill="#3876fe"/><rect x="373.86" fill="#3974fe"/><rect x="384.25" fill="#3b72ff"/><rect x="394.63" fill="#3d70ff"/><rect x="405.02" fill="#3f6efe"/><rect x="415.4" fill="#416bfe"/><rect x="425.79" fill="#4269fe"/><rect x="436.17" fill="#4367fd"/><rect x="446.56" fill="#4464fd"/><rect x="456.94" fill="#4562fc"/><rect x="467.33" fill="#4660fb"/><rect x="477.71" fill="#465efb"/><rect x="488.1" fill="#475bfa"/><rect x="498.48" fill="#4759f8"/><rect x="508.87" fill="#4757f7"/><rect x="519.25" fill="#4755f6"/><rect x="529.64" fill="#4854f5"/><rect x="540.02" fill="#4852f4"/><rect x="550.41" fill="#4851f3"/><rect x="560.79" fill="#4850f2"/><rect x="571.18" fill="#484ff2"/><rect x="581.56" fill="#484ef1"/><rect x="591.95" fill="#484df1"/><rect x="602.33" fill="#484df0"/><rect x="612.72" fill="#484cef"/></g>
<g transform="translate(0 137.07)"><rect x="0" fill="#3876fe"/><rect x="10.39" fill="#2e85f8" style="width:41.94px"/><rect x="51.93" fill="#2d8bf3"/><rect x="62.31" fill="#2b91ef"/><rect x="72.7" fill="#2797eb" style="width:114.64px"/><rect x="186.93" fill="#2994ed"/><rect x="197.32" fill="#2b92ee"/><rect x="207.7" fill="#2c8ff1"/><rect x="218.09" fill="#2d8cf3" style="width:41.94px"/><rect x="259.63" fill="#2e87f7"/><rect x="270.01" fill="#2f82fa"/><rect x="280.4" fill="#2f81fa" style="width:21.17px"/><rect x="301.17" fill="#2f80fa"/><rect x="311.55" fill="#3080fa"/><rect x="321.94" fill="#317efb"/><rect x="332.32" fill="#327cfc"/><rect x="342.71" fill="#347afd"/><rect x="353.09" fill="#3678fe"/><rect x="363.48" fill="#3876fe"/><rect x="373.86" fill="#3a74fe"/><rect x="384.25" fill="#3c72ff"/><rect x="394.63" fill="#3e6fff"/><rect x="405.02" fill="#406dfe"/><rect x="415.4" fill="#416bfe"/><rect x="425.79" fill="#4368fe"/><rect x="436.17" fill="#4466fd"/><rect x="446.56" fill="#4563fd"/><rect x="456.94" fill="#4561fc"/><rect x="467.33" fill="#465ffb"/><rect x="477.71" fill="#475cfa"/><rect x="488.1" fill="#475af9"/><rect x="498.48" fill="#4758f8"/><rect x="508.87" fill="#4756f7"/><rect x="519.25" fill="#4854f5"/><rect x="529.64" fill="#4852f4"/><rect x="540.02" fill="#4851f3"/><rect x="550.41" fill="#4850f2"/><rect x="560.79" fill="#484ef1"/><rect x="571.18" fill="#484df1"/><rect x="581.56" fill="#484df0"/><rect x="591.95" fill="#484cf0"/><rect x="602.33" fill="#484cef"/><rect x="612.72" fill="#484bef"/></g>
<g transform="translate(0 164.48)"><rect x="0" fill="#3876fe"/><rect x="10.39" fill="#2e86f8" style="width:41.94px"/><rect x="51.93" fill="#2d8cf3"/><rect x="62.31" fill="#2a92ee"/><rect x="72.7" fill="#2699ea" style="width:114.64px"/><rect x="186.93" fill="#2896ec"/><rect x="197.32" fill="#2a93ee"/><rect x="207.7" fill="#2c90f0"/><rect x="218.09" fill="#2d8df2" style="width:41.94px"/><rect x="259.63" fill="#2d88f6"/><rect x="270.01" fill="#2f82f9"/><rect x="280.4" fill="#2f82fa"/><rect x="290.78" fill="#2f81fa" style="width:21.17px"/><rect x="311.55" fill="#2f80fa"/><rect x="321.94" fill="#317efb"/><rect x="332.32" fill="#327cfc"/><rect x="342.71" fill="#347afd"/><rect x="353.09" fill="#3677fe"/><rect x="363.48" fill="#3875fe"/><rect x="373.86" fill="#3b73fe"/><rect x="384.25" fill="#3d71ff"/><rect x="394.63" fill="#3f6fff"/><rect x="405.02" fill="#406cfe"/><rect x="415.4" fill="#426afe"/><rect x="425.79" fill="#4367fd"/><rect x="436.17" fill="#4465fd"/><rect x="446.56" fill="#4562fc"/><rect x="456.94" fill="#4660fb"/><rect x="467.33" fill="#465dfa"/><rect x="477.71" fill="#475bf9"/><rect x="488.1" fill="#4759f8"/><rect x="498.48" fill="#4757f7"/><rect x="508.87" fill="#4755f6"/><rect x="519.25" fill="#4853f5"/><rect x="529.64" fill="#4851f3"/><rect x="540.02" fill="#4850f2"/><rect x="550.41" fill="#484ef1"/><rect x="560.79" fill="#484df0"/><rect x="571.18" fill="#484cf0"/><rect x="581.56" fill="#484cef"/><rect x="591.95" fill="#484bef"/><rect x="602.33" fill="#484aee" style="width:21.17px"/></g>
<g transform="translate(0 191.89)"><rect x="0" fill="#3876fe"/><rect x="10.39" fill="#2e86f7" style="width:41.94px"/><rect x="51.93" fill="#2d8df2"/><rect x="62.31" fill="#2994ed"/><rect x="72.7" fill="#269ae8" style="width:114.64px"/><rect x="186.93" fill="#2797eb"/><rect x="197.32" fill="#2994ed"/><rect x="207.7" fill="#2b91ef"/><rect x="218.09" fill="#2c8ef2" style="width:41.94px"/><rect x="259.63" fill="#2d88f6"/><rect x="270.01" fill="#2f82f9" style="width:21.17px"/><rect x="290.78" fill="#2f82fa"/><rect x="301.17" fill="#2f81fa" style="width:21.17px"/><rect x="321.94" fill="#307efb"/><rect x="332.32" fill="#327cfc"/><rect x="342.71" fill="#3479fd"/><rect x="353.09" fill="#3777fe"/><rect x="363.48" fill="#3975fe"/><rect x="373.86" fill="#3b72fe"/><rect x="384.25" fill="#3d70ff"/><rect x="394.63" fill="#3f6eff"/><rect x="405.02" fill="#416bfe"/><rect x="415.4" fill="#4369fe"/><rect x="425.79" fill="#4466fd"/><rect x="436.17" fill="#4563fd"/><rect x="446.56" fill="#4561fc"/><rect x="456.94" fill="#465efb"/><rect x="467.33" fill="#475cfa"/><rect x="477.71" fill="#4759f9"/><rect x="488.1" fill="#4757f8"/><rect x="498.48" fill="#4756f6"/><rect x="508.87" fill="#4854f5"/><rect x="519.25" fill="#4852f4"/><rect x="529.64" fill="#4850f3"/><rect x="540.02" fill="#484ef1"/><rect x="550.41" fill="#484df0"/><rect x="560.79" fill="#484bef"/><rect x="571.18" fill="#484bee"/><rect x="581.56" fill="#484aee" style="width:21.17px"/><rect x="602.33" fill="#4849ed" style="width:21.17px"/></g>
<g transform="translate(0 219.31)"><rect x="0" fill="#3876fe"/><rect x="10.39" fill="#2e86f7" style="width:41.94px"/><rect x="51.93" fill="#2c8ef2"/><rect x="62.31" fill="#2995ec"/><rect x="72.7" fill="#259ce7" style="width:114.64px"/><rect x="186.93" fill="#2698ea"/><rect x="197.32" fill="#2895ec"/><rect x="207.7" fill="#2b92ee"/><rect x="218.09" fill="#2c8ef1" style="width:41.94px"/><rect x="259.63" fill="#2d89f6"/><rect x="270.01" fill="#2e83f9"/><rect x="280.4" fill="#2f82f9"/><rect x="290.78" fill="#2f82fa" style="width:21.17px"/><rect x="311.55" fill="#2f81fa"/><rect x="321.94" fill="#307ffb"/><rect x="332.32" fill="#327cfc"/><rect x="342.71" fill="#3479fd"/><rect x="353.09" fill="#3777fe"/><rect x="363.48" fill="#3974fe"/><rect x="373.86" fill="#3c72ff"/><rect x="384.25" fill="#3e6fff"/><rect x="394.63" fill="#406dfe"/><rect x="405.02" fill="#416afe"/><rect x="415.4" fill="#4368fd"/><rect x="425.79" fill="#4465fd"/><rect x="436.17" fill="#4562fc"/><rect x="446.56" fill="#4660fb"/><rect x="456.94" fill="#465dfa"/><rect x="467.33" fill="#475bf9"/><rect x="477.71" fill="#4758f8"/><rect x="488.1" fill="#4756f7"/><rect x="498.48" fill="#4854f6"/><rect x="508.87" fill="#4852f4"/><rect x="519.25" fill="#4851f3"/><rect x="529.64" fill="#484ff2"/><rect x="540.02" fill="#484df0"/><rect x="550.41" fill="#484bef"/><rect x="560.79" fill="#484aee"/><rect x="571.18" fill="#4849ed" style="width:21.17px"/><rect x="591.95" fill="#4848ec" style="width:31.56px"/></g>
<g transform="translate(0 246.72)"><rect x="0" fill="#3876fe"/><rect x="10.39" fill="#2e87f7" style="width:41.94px"/><rect x="51.93" fill="#2c8ef1"/><rect x="62.31" fill="#2896eb"/><rect x="72.7" fill="#249de7" style="width:114.64px"/><rect x="186.93" fill="#269ae9"/><rect x="197.32" fill="#2796eb"/><rect x="207.7" fill="#2a93ee"/><rect x="218.09" fill="#2c8ff1" style="width:41.94px"/><rect x="259.63" fill="#2d89f5"/><rect x="270.01" fill="#2e83f9" style="width:21.17px"/><rect x="290.78" fill="#2f82f9"/><rect x="301.17" fill="#2f82fa"/><rect x="311.55" fill="#2f81fa"/><rect x="321.94" fill="#307ffb"/><rect x="332.32" fill="#327cfc"/><rect x="342.71" fill="#3579fd"/><rect x="353.09" fill="#3876fe"/><rect x="363.48" fill="#3a74fe"/><rect x="373.86" fill="#3c71ff"/><rect x="384.25" fill="#3e6fff"/><rect x="394.63" fill="#406cfe"/><rect x="405.02" fill="#426afe"/><rect x="415.4" fill="#4367fd"/><rect x="425.79" fill="#4564fd"/><rect x="436.17" fill="#4561fc"/><rect x="446.56" fill="#465ffb"/><rect x="456.94" fill="#475cfa"/><rect x="467.33" fill="#4759f8"/><rect x="477.71" fill="#4757f7"/><rect x="488.1" fill="#4755f6"/><rect x="498.48" fill="#4853f5"/><rect x="508.87" fill="#4851f4"/><rect x="519.25" fill="#4850f2"/><rect x="529.64" fill="#484ef1"/><rect x="540.02" fill="#484cef"/><rect x="550.41" fill="#484aee"/><rect x="560.79" fill="#4848ec" style="width:31.56px"/><rect x="591.95" fill="#4747eb" style="width:31.56px"/></g>
<g transform="translate(0 274.13)"><rect x="0" fill="#3876fe"/><rect x="10.39" fill="#2d88f6" style="width:41.94px"/><rect x="51.93" fill="#2c90f0"/><rect x="62.31" fill="#2798ea"/><rect x="72.7" fill="#249fe6" style="width:114.64px"/><rect x="186.93" fill="#259ce7"/><rect x="197.32" fill="#2699ea"/><rect x="207.7" fill="#2895ec"/><rect x="218.09" fill="#2a92ee" style="width:41.94px"/><rect x="259.63" fill="#2d8df3"/><rect x="270.01" fill="#2e87f7"/><rect x="280.4" fill="#2e85f8"/><rect x="290.78" fill="#2e84f8"/><rect x="301.17" fill="#2e83f9"/><rect x="311.55" fill="#2f81fa"/><rect x="321.94" fill="#307ffb"/><rect x="332.32" fill="#327cfc"/><rect x="342.71" fill="#3579fd"/><rect x="353.09" fill="#3876fe"/><rect x="363.48" fill="#3b73fe"/><rect x="373.86" fill="#3e6fff"/><rect x="384.25" fill="#406cfe"/><rect x="394.63" fill="#4369fe"/><rect x="405.02" fill="#4465fd"/><rect x="415.4" fill="#4562fc"/><rect x="425.79" fill="#465ffb"/><rect x="436.17" fill="#475cfa"/><rect x="446.56" fill="#4759f8"/><rect x="456.94" fill="#4757f7"/><rect x="467.33" fill="#4854f5"/><rect x="477.71" fill="#4851f4"/><rect x="488.1" fill="#4850f2"/><rect x="498.48" fill="#484ef1"/><rect x="508.87" fill="#484cef"/><rect x="519.25" fill="#484aee"/><rect x="529.64" fill="#4849ed"/><rect x="540.02" fill="#4747ec"/><rect x="550.41" fill="#4746ea"/><rect x="560.79" fill="#4745e9" style="width:21.17px"/><rect x="581.56" fill="#4745ea"/><rect x="591.95" fill="#4746ea" style="width:21.17px"/><rect x="612.72" fill="#4747eb"/></g>
<g transform="translate(0 301.55)"><rect x="0" fill="#3876fe"/><rect x="10.39" fill="#2d8af5" style="width:41.94px"/><rect x="51.93" fill="#2b91ef"/><rect x="62.31" fill="#2699e9"/><rect x="72.7" fill="#23a0e5" style="width:114.64px"/><rect x="186.93" fill="#259de7"/><rect x="197.32" fill="#269ae9"/><rect x="207.7" fill="#2797eb"/><rect x="218.09" fill="#2a93ed" style="width:41.94px"/><rect x="259.63" fill="#2c8ef1"/><rect x="270.01" fill="#2d89f5"/><rect x="280.4" fill="#2e87f7"/><rect x="290.78" fill="#2e85f8"/><rect x="301.17" fill="#2e83f9"/><rect x="311.55" fill="#2f82fa"/><rect x="321.94" fill="#307ffb"/><rect x="332.32" fill="#327cfc"/><rect x="342.71" fill="#3579fd"/><rect x="353.09" fill="#3876fe"/><rect x="363.48" fill="#3b72ff"/><rect x="373.86" fill="#3f6fff"/><rect x="384.25" fill="#416bfe"/><rect x="394.63" fill="#4368fd"/><rect x="405.02" fill="#4464fd"/><rect x="415.4" fill="#4561fc"/><rect x="425.79" fill="#465dfb"/><rect x="436.17" fill="#475af9"/><rect x="446.56" fill="#4757f8"/><rect x="456.94" fill="#4755f6"/><rect x="467.33" fill="#4852f4"/><rect x="477.71" fill="#4850f2"/><rect x="488.1" fill="#484ef1"/><rect x="498.48" fill="#484cef"/><rect x="508.87" fill="#484aee"/><rect x="519.25" fill="#4848ec"/><rect x="529.64" fill="#4747eb"/><rect x="540.02" fill="#4746ea"/><rect x="550.41" fill="#4744e8"/><rect x="560.79" fill="#4743e7" style="width:21.17px"/><rect x="581.56" fill="#4744e8" style="width:21.17px"/><rect x="602.33" fill="#4745e9" style="width:21.17px"/></g>
<g transform="translate(0 328.96)"><rect x="0" fill="#3875fe"/><rect x="10.39" fill="#2d8bf4" style="width:41.94px"/><rect x="51.93" fill="#2a93ee"/><rect x="62.31" fill="#269ae8"/><rect x="72.7" fill="#22a1e4" style="width:114.64px"/><rect x="186.93" fill="#249ee6"/><rect x="197.32" fill="#259be8"/><rect x="207.7" fill="#2798ea"/><rect x="218.09" fill="#2995ec" style="width:41.94px"/><rect x="259.63" fill="#2b90f0"/><rect x="270.01" fill="#2d8cf3"/><rect x="280.4" fill="#2d89f5"/><rect x="290.78" fill="#2e86f7"/><rect x="301.17" fill="#2e84f8"/><rect x="311.55" fill="#2f82f9"/><rect x="321.94" fill="#307ffb"/><rect x="332.32" fill="#327cfc"/><rect x="342.71" fill="#3579fd"/><rect x="353.09" fill="#3875fe"/><rect x="363.48" fill="#3c71ff"/><rect x="373.86" fill="#3f6efe"/><rect x="384.25" fill="#426afe"/><rect x="394.63" fill="#4367fd"/><rect x="405.02" fill="#4563fd"/><rect x="415.4" fill="#465ffb"/><rect x="425.79" fill="#475cfa"/><rect x="436.17" fill="#4758f8"/><rect x="446.56" fill="#4756f6"/><rect x="456.94" fill="#4853f5"/><rect x="467.33" fill="#4850f3"/><rect x="477.71" fill="#484ef1"/><rect x="488.1" fill="#484cef"/><rect x="498.48" fill="#484aee"/><rect x="508.87" fill="#4848ec"/><rect x="519.25" fill="#4747eb"/><rect x="529.64" fill="#4745e9"/><rect x="540.02" fill="#4744e8"/><rect x="550.41" fill="#4743e7"/><rect x="560.79" fill="#4741e5"/><rect x="571.18" fill="#4742e6" style="width:21.17px"/><rect x="591.95" fill="#4743e7" style="width:21.17px"/><rect x="612.72" fill="#4744e8"/></g>
<g transform="translate(0 356.37)"><rect x="0" fill="#3975fe"/><rect x="10.39" fill="#2d8cf3" style="width:41.94px"/><rect x="51.93" fill="#2994ed"/><rect x="62.31" fill="#259ce7"/><rect x="72.7" fill="#21a3e3" style="width:114.64px"/><rect x="186.93" fill="#23a0e5"/><rect x="197.32" fill="#259ce7"/><rect x="207.7" fill="#2699e9"/><rect x="218.09" fill="#2896ec" style="width:41.94px"/><rect x="259.63" fill="#2b92ee"/><rect x="270.01" fill="#2c8ef1"/><rect x="280.4" fill="#2d8bf4"/><rect x="290.78" fill="#2e87f7"/><rect x="301.17" fill="#2e85f8"/><rect x="311.55" fill="#2e83f9"/><rect x="321.94" fill="#307ffb"/><rect x="332.32" fill="#327cfc"/><rect x="342.71" fill="#3578fd"/><rect x="353.09" fill="#3975fe"/><rect x="363.48" fill="#3d71ff"/><rect x="373.86" fill="#406dfe"/><rect x="384.25" fill="#4269fe"/><rect x="394.63" fill="#4466fd"/><rect x="405.02" fill="#4562fc"/><rect x="415.4" fill="#465efb"/><rect x="425.79" fill="#475af9"/><rect x="436.17" fill="#4757f7"/><rect x="446.56" fill="#4854f5"/><rect x="456.94" fill="#4851f4"/><rect x="467.33" fill="#484ff2"/><rect x="477.71" fill="#484cef"/><rect x="488.1" fill="#484aee"/><rect x="498.48" fill="#4848ec"/><rect x="508.87" fill="#4747eb"/><rect x="519.25" fill="#4745e9"/><rect x="529.64" fill="#4743e7"/><rect x="540.02" fill="#4742e6"/><rect x="550.41" fill="#4741e5"/><rect x="560.79" fill="#473fe3"/><rect x="571.18" fill="#4740e4"/><rect x="581.56" fill="#4741e4"/><rect x="591.95" fill="#4741e5"/><rect x="602.33" fill="#4742e6"/><rect x="612.72" fill="#4743e7"/></g>
<g transform="translate(0 383.79)"><rect x="0" fill="#3974fe"/><rect x="10.39" fill="#2d8df2" style="width:41.94px"/><rect x="51.93" fill="#2895ec"/><rect x="62.31" fill="#249de7"/><rect x="72.7" fill="#20a4e3" style="width:114.64px"/><rect x="186.93" fill="#22a1e4"/><rect x="197.32" fill="#249ee6"/><rect x="207.7" fill="#269ae8"/><rect x="218.09" fill="#2797eb" style="width:41.94px"/><rect x="259.63" fill="#2994ed"/><rect x="270.01" fill="#2b91ef"/><rect x="280.4" fill="#2d8df3"/><rect x="290.78" fill="#2d88f6"/><rect x="301.17" fill="#2e86f7"/><rect x="311.55" fill="#2e83f9"/><rect x="321.94" fill="#3080fb"/><rect x="332.32" fill="#327cfc"/><rect x="342.71" fill="#3678fd"/><rect x="353.09" fill="#3974fe"/><rect x="363.48" fill="#3d70ff"/><rect x="373.86" fill="#406cfe"/><rect x="384.25" fill="#4369fe"/><rect x="394.63" fill="#4465fd"/><rect x="405.02" fill="#4561fc"/><rect x="415.4" fill="#465dfa"/><rect x="425.79" fill="#4759f8"/><rect x="436.17" fill="#4755f6"/><rect x="446.56" fill="#4852f4"/><rect x="456.94" fill="#4850f2"/><rect x="467.33" fill="#484df0"/><rect x="477.71" fill="#484aee"/><rect x="488.1" fill="#4848ec"/><rect x="498.48" fill="#4747eb"/><rect x="508.87" fill="#4745e9"/><rect x="519.25" fill="#4743e7"/><rect x="529.64" fill="#4742e6"/><rect x="540.02" fill="#4740e4"/><rect x="550.41" fill="#473fe2"/><rect x="560.79" fill="#463ee1"/><rect x="571.18" fill="#473ee2"/><rect x="581.56" fill="#473fe2"/><rect x="591.95" fill="#4740e3"/><rect x="602.33" fill="#4740e4"/><rect x="612.72" fill="#4741e5"/></g>
<g transform="translate(0 411.2)"><rect x="0" fill="#3a73fe"/><rect x="10.39" fill="#2d8cf3"/><rect x="20.77" fill="#2c8ff1" style="width:31.56px"/><rect x="51.93" fill="#2797eb"/><rect x="62.31" fill="#249fe5"/><rect x="72.7" fill="#1fa6e1" style="width:114.64px"/><rect x="186.93" fill="#21a4e3"/><rect x="197.32" fill="#23a1e5"/><rect x="207.7" fill="#249ee6"/><rect x="218.09" fill="#269be8"/><rect x="228.47" fill="#2699e9" style="width:31.56px"/><rect x="259.63" fill="#2896eb"/><rect x="270.01" fill="#2a93ee"/><rect x="280.4" fill="#2c8ef1"/><rect x="290.78" fill="#2d8af5"/><rect x="301.17" fill="#2e87f7"/><rect x="311.55" fill="#2e84f9"/><rect x="321.94" fill="#3080fb"/><rect x="332.32" fill="#327cfc"/><rect x="342.71" fill="#3678fe"/><rect x="353.09" fill="#3a73fe"/><rect x="363.48" fill="#3e6fff"/><rect x="373.86" fill="#416bfe"/><rect x="384.25" fill="#4367fd"/><rect x="394.63" fill="#4562fc"/><rect x="405.02" fill="#465efb"/><rect x="415.4" fill="#475af9"/><rect x="425.79" fill="#4756f7"/><rect x="436.17" fill="#4852f4"/><rect x="446.56" fill="#484ff2"/><rect x="456.94" fill="#484df0"/><rect x="467.33" fill="#484aee"/><rect x="477.71" fill="#4848ec"/><rect x="488.1" fill="#4746ea"/><rect x="498.48" fill="#4744e8"/><rect x="508.87" fill="#4742e6"/><rect x="519.25" fill="#4740e4"/><rect x="529.64" fill="#473fe3"/><rect x="540.02" fill="#463ee1"/><rect x="550.41" fill="#463de0"/><rect x="560.79" fill="#463cde"/><rect x="571.18" fill="#463cdf"/><rect x="581.56" fill="#463de0"/><rect x="591.95" fill="#463ee1"/><rect x="602.33" fill="#473fe2"/><rect x="612.72" fill="#473fe3"/></g>
<g transform="translate(0 438.61)"><rect x="0" fill="#3b73fe"/><rect x="10.39" fill="#2d8bf3"/><rect x="20.77" fill="#2b91ef" style="width:31.56px"/><rect x="51.93" fill="#2699e9"/><rect x="62.31" fill="#23a1e4"/><rect x="72.7" fill="#1da8e0" style="width:114.64px"/><rect x="186.93" fill="#1fa6e2"/><rect x="197.32" fill="#21a3e3"/><rect x="207.7" fill="#23a1e4"/><rect x="218.09" fill="#249ee6"/><rect x="228.47" fill="#259be8" style="width:31.56px"/><rect x="259.63" fill="#2798ea"/><rect x="270.01" fill="#2994ec"/><rect x="280.4" fill="#2c90f0"/><rect x="290.78" fill="#2d8bf4"/><rect x="301.17" fill="#2d87f6"/><rect x="311.55" fill="#2e84f9"/><rect x="321.94" fill="#3080fa"/><rect x="332.32" fill="#327cfc"/><rect x="342.71" fill="#3677fe"/><rect x="353.09" fill="#3b73fe"/><rect x="363.48" fill="#3f6eff"/><rect x="373.86" fill="#4269fe"/><rect x="384.25" fill="#4465fd"/><rect x="394.63" fill="#4660fb"/><rect x="405.02" fill="#475bf9"/><rect x="415.4" fill="#4757f7"/><rect x="425.79" fill="#4853f5"/><rect x="436.17" fill="#484ff2"/><rect x="446.56" fill="#484df0"/><rect x="456.94" fill="#484aee"/><rect x="467.33" fill="#4848ec"/><rect x="477.71" fill="#4745e9"/><rect x="488.1" fill="#4743e7"/><rect x="498.48" fill="#4742e6"/><rect x="508.87" fill="#4740e3"/><rect x="519.25" fill="#463ee1"/><rect x="529.64" fill="#463de0"/><rect x="540.02" fill="#463cde"/><rect x="550.41" fill="#463bdc"/><rect x="560.79" fill="#463adb"/><rect x="571.18" fill="#463adc"/><rect x="581.56" fill="#463bdd"/><rect x="591.95" fill="#463cde"/><rect x="602.33" fill="#463de0"/><rect x="612.72" fill="#463ee1"/></g>
<g transform="translate(0 466.03)"><rect x="0" fill="#3c72ff"/><rect x="10.39" fill="#2d8af4"/><rect x="20.77" fill="#2a92ee" style="width:31.56px"/><rect x="51.93" fill="#269be8"/><rect x="62.31" fill="#21a3e4"/><rect x="72.7" fill="#1baade" style="width:114.64px"/><rect x="186.93" fill="#1da8e0"/><rect x="197.32" fill="#1fa6e2"/><rect x="207.7" fill="#20a4e3"/><rect x="218.09" fill="#22a2e4"/><rect x="228.47" fill="#249de6" style="width:31.56px"/><rect x="259.63" fill="#269ae9"/><rect x="270.01" fill="#2796eb"/><rect x="280.4" fill="#2b91ef"/><rect x="290.78" fill="#2d8cf3"/><rect x="301.17" fill="#2d88f6"/><rect x="311.55" fill="#2e84f8"/><rect x="321.94" fill="#2f80fa"/><rect x="332.32" fill="#327cfc"/><rect x="342.71" fill="#3777fe"/><rect x="353.09" fill="#3c72ff"/><rect x="363.48" fill="#406dfe"/><rect x="373.86" fill="#4368fe"/><rect x="384.25" fill="#4563fc"/><rect x="394.63" fill="#465dfb"/><rect x="405.02" fill="#4759f8"/><rect x="415.4" fill="#4854f5"/><rect x="425.79" fill="#4850f3"/><rect x="436.17" fill="#484cf0"/><rect x="446.56" fill="#484aee"/><rect x="456.94" fill="#4747ec"/><rect x="467.33" fill="#4745e9"/><rect x="477.71" fill="#4743e7"/><rect x="488.1" fill="#4741e5"/><rect x="498.48" fill="#473fe2"/><rect x="508.87" fill="#463de0"/><rect x="519.25" fill="#463cde"/><rect x="529.64" fill="#463bdc"/><rect x="540.02" fill="#463adb"/><rect x="550.41" fill="#4539d9"/><rect x="560.79" fill="#4538d7"/><rect x="571.18" fill="#4539d9"/><rect x="581.56" fill="#4639da"/><rect x="591.95" fill="#463adc"/><rect x="602.33" fill="#463bdd"/><rect x="612.72" fill="#463cde"/></g>
<g transform="translate(0 493.44)"><rect x="0" fill="#3c71ff"/><rect x="10.39" fill="#2d89f5"/><rect x="20.77" fill="#2994ed" style="width:31.56px"/><rect x="51.93" fill="#259ce7"/><rect x="62.31" fill="#20a5e3"/><rect x="72.7" fill="#19acdc" style="width:114.64px"/><rect x="186.93" fill="#1baade"/><rect x="197.32" fill="#1da9e0"/><rect x="207.7" fill="#1ea7e1"/><rect x="218.09" fill="#1fa5e2"/><rect x="228.47" fill="#239fe5" style="width:31.56px"/><rect x="259.63" fill="#259ce7"/><rect x="270.01" fill="#2798ea"/><rect x="280.4" fill="#2a93ee"/><rect x="290.78" fill="#2c8ef2"/><rect x="301.17" fill="#2d89f5"/><rect x="311.55" fill="#2e85f8"/><rect x="321.94" fill="#2f80fa"/><rect x="332.32" fill="#327cfc"/><rect x="342.71" fill="#3777fe"/><rect x="353.09" fill="#3c71ff"/><rect x="363.48" fill="#416cfe"/><rect x="373.86" fill="#4366fd"/><rect x="384.25" fill="#4661fc"/><rect x="394.63" fill="#475bf9"/><rect x="405.02" fill="#4756f6"/><rect x="415.4" fill="#4851f3"/><rect x="425.79" fill="#484df0"/><rect x="436.17" fill="#4849ed"/><rect x="446.56" fill="#4747eb"/><rect x="456.94" fill="#4745e9"/><rect x="467.33" fill="#4742e6"/><rect x="477.71" fill="#4740e4"/><rect x="488.1" fill="#473ee2"/><rect x="498.48" fill="#463ddf"/><rect x="508.87" fill="#463bdd"/><rect x="519.25" fill="#4639da"/><rect x="529.64" fill="#4539d8"/><rect x="540.02" fill="#4538d7"/><rect x="550.41" fill="#4537d5"/><rect x="560.79" fill="#4536d4"/><rect x="571.18" fill="#4537d5"/><rect x="581.56" fill="#4538d7"/><rect x="591.95" fill="#4539d9"/><rect x="602.33" fill="#4639da"/><rect x="612.72" fill="#463adc"/></g>
<g transform="translate(0 520.85)"><rect x="0" fill="#3d70ff"/><rect x="10.39" fill="#2d88f6"/><rect x="20.77" fill="#2895ec" style="width:31.56px"/><rect x="51.93" fill="#249ee6"/><rect x="62.31" fill="#1fa6e1"/><rect x="72.7" fill="#17aeda" style="width:114.64px"/><rect x="186.93" fill="#19addc"/><rect x="197.32" fill="#1aabdd"/><rect x="207.7" fill="#1caadf"/><rect x="218.09" fill="#1da9e0"/><rect x="228.47" fill="#22a1e4" style="width:31.56px"/><rect x="259.63" fill="#249ee6"/><rect x="270.01" fill="#269ae8"/><rect x="280.4" fill="#2995ec"/><rect x="290.78" fill="#2c8ff1"/><rect x="301.17" fill="#2d8af4"/><rect x="311.55" fill="#2e85f8"/><rect x="321.94" fill="#2f81fa"/><rect x="332.32" fill="#327cfc"/><rect x="342.71" fill="#3876fe"/><rect x="353.09" fill="#3d70ff"/><rect x="363.48" fill="#416bfe"/><rect x="373.86" fill="#4465fd"/><rect x="384.25" fill="#465ffb"/><rect x="394.63" fill="#4758f8"/><rect x="405.02" fill="#4853f5"/><rect x="415.4" fill="#484ef1"/><rect x="425.79" fill="#484aee"/><rect x="436.17" fill="#4747eb"/><rect x="446.56" fill="#4744e8"/><rect x="456.94" fill="#4742e6"/><rect x="467.33" fill="#4740e3"/><rect x="477.71" fill="#463ee1"/><rect x="488.1" fill="#463cde"/><rect x="498.48" fill="#463adc"/><rect x="508.87" fill="#4539d9"/><rect x="519.25" fill="#4537d6"/><rect x="529.64" fill="#4536d5"/><rect x="540.02" fill="#4536d3"/><rect x="550.41" fill="#4435d1"/><rect x="560.79" fill="#4434d0"/><rect x="571.18" fill="#4435d2"/><rect x="581.56" fill="#4536d4"/><rect x="591.95" fill="#4537d6"/><rect x="602.33" fill="#4538d7"/><rect x="612.72" fill="#4539d9"/></g>
<g transform="translate(0 548.27)"><rect x="0" fill="#3d70ff"/><rect x="10.39" fill="#2d88f6"/><rect x="20.77" fill="#2895ec"/><rect x="31.16" fill="#23a0e5" style="width:21.17px"/><rect x="51.93" fill="#1fa5e2"/><rect x="62.31" fill="#1baade"/><rect x="72.7" fill="#15afd9" style="width:114.64px"/><rect x="186.93" fill="#17aeda"/><rect x="197.32" fill="#19addc"/><rect x="207.7" fill="#1aabdd"/><rect x="218.09" fill="#1caadf"/><rect x="228.47" fill="#1ea8e0"/><rect x="238.86" fill="#1fa5e2"/><rect x="249.24" fill="#21a3e3"/><rect x="259.63" fill="#249fe5"/><rect x="270.01" fill="#259ce7"/><rect x="280.4" fill="#2796eb"/><rect x="290.78" fill="#2b91ef"/><rect x="301.17" fill="#2d8df2"/><rect x="311.55" fill="#2d8af4"/><rect x="321.94" fill="#2e85f8"/><rect x="332.32" fill="#317efb"/><rect x="342.71" fill="#3876fe"/><rect x="353.09" fill="#3f6eff"/><rect x="363.48" fill="#4367fd"/><rect x="373.86" fill="#465efb"/><rect x="384.25" fill="#4757f7"/><rect x="394.63" fill="#4850f2"/><rect x="405.02" fill="#484aee"/><rect x="415.4" fill="#4745e9"/><rect x="425.79" fill="#4742e6"/><rect x="436.17" fill="#473fe2"/><rect x="446.56" fill="#463cde"/><rect x="456.94" fill="#4539d9"/><rect x="467.33" fill="#4538d7"/><rect x="477.71" fill="#4536d5"/><rect x="488.1" fill="#4535d2"/><rect x="498.48" fill="#4434d0"/><rect x="508.87" fill="#4435d0" style="width:21.17px"/><rect x="529.64" fill="#4435d1" style="width:41.94px"/><rect x="571.18" fill="#4435d2"/><rect x="581.56" fill="#4535d2"/><rect x="591.95" fill="#4536d2"/><rect x="602.33" fill="#4536d3" style="width:21.17px"/></g>
<g transform="translate(0 575.68)"><rect x="0" fill="#416bfe"/><rect x="10.39" fill="#2d8cf3"/><rect x="20.77" fill="#269ae8"/><rect x="31.16" fill="#21a3e3" style="width:21.17px"/><rect x="51.93" fill="#1ea8e0"/><rect x="62.31" fill="#19acdc"/><rect x="72.7" fill="#13b0d7" style="width:114.64px"/><rect x="186.93" fill="#14b0d8"/><rect x="197.32" fill="#15afd9"/><rect x="207.7" fill="#16afda"/><rect x="218.09" fill="#17aeda"/><rect x="228.47" fill="#19acdc"/><rect x="238.86" fill="#1baade"/><rect x="249.24" fill="#1da9e0"/><rect x="259.63" fill="#1fa5e2"/><rect x="270.01" fill="#22a1e4"/><rect x="280.4" fill="#259ce7"/><rect x="290.78" fill="#2797eb"/><rect x="301.17" fill="#2a93ee"/><rect x="311.55" fill="#2c8ff1"/><rect x="321.94" fill="#2d88f6"/><rect x="332.32" fill="#3080fb"/><rect x="342.71" fill="#3876fe"/><rect x="353.09" fill="#406cfe"/><rect x="363.48" fill="#4563fd"/><rect x="373.86" fill="#475af9"/><rect x="384.25" fill="#4852f4"/><rect x="394.63" fill="#484aee"/><rect x="405.02" fill="#4745e9"/><rect x="415.4" fill="#473fe3"/><rect x="425.79" fill="#463cdf"/><rect x="436.17" fill="#463ada"/><rect x="446.56" fill="#4537d5"/><rect x="456.94" fill="#4434d0"/><rect x="467.33" fill="#4434ce"/><rect x="477.71" fill="#4433cc"/><rect x="488.1" fill="#4332cb"/><rect x="498.48" fill="#4332c9" style="width:21.17px"/><rect x="519.25" fill="#4332ca" style="width:31.56px"/><rect x="550.41" fill="#4332cb"/><rect x="560.79" fill="#4432cb"/><rect x="571.18" fill="#4433cb" style="width:21.17px"/><rect x="591.95" fill="#4433cc" style="width:31.56px"/></g>
<g transform="translate(0 603.09)"><rect x="0" fill="#4465fd"/><rect x="10.39" fill="#2d8df2"/><rect x="20.77" fill="#23a0e5"/><rect x="31.16" fill="#1da9e0" style="width:21.17px"/><rect x="51.93" fill="#19addc"/><rect x="62.31" fill="#13b0d7"/><rect x="72.7" fill="#0ab4d2" style="width:114.64px"/><rect x="186.93" fill="#0cb3d3"/><rect x="197.32" fill="#0eb3d4"/><rect x="207.7" fill="#0fb2d5"/><rect x="218.09" fill="#11b1d6"/><rect x="228.47" fill="#13b0d7"/><rect x="238.86" fill="#15afd9"/><rect x="249.24" fill="#17aeda"/><rect x="259.63" fill="#1babde"/><rect x="270.01" fill="#1ea7e1"/><rect x="280.4" fill="#20a4e3"/><rect x="290.78" fill="#22a1e4"/><rect x="301.17" fill="#249de7"/><rect x="311.55" fill="#2699ea"/><rect x="321.94" fill="#2c8ff1"/><rect x="332.32" fill="#2e83f9"/><rect x="342.71" fill="#3678fd"/><rect x="353.09" fill="#406cfe"/><rect x="363.48" fill="#4561fc"/><rect x="373.86" fill="#4755f6"/><rect x="384.25" fill="#484cef"/><rect x="394.63" fill="#4743e7"/><rect x="405.02" fill="#463ee1"/><rect x="415.4" fill="#4539d9"/><rect x="425.79" fill="#4536d5"/><rect x="436.17" fill="#4434d0"/><rect x="446.56" fill="#4332cb"/><rect x="456.94" fill="#4330c5"/><rect x="467.33" fill="#4330c4"/><rect x="477.71" fill="#4230c4"/><rect x="488.1" fill="#4230c3"/><rect x="498.48" fill="#422fc2" style="width:31.56px"/><rect x="529.64" fill="#4230c3" style="width:31.56px"/><rect x="560.79" fill="#4230c4" style="width:21.17px"/><rect x="581.56" fill="#4330c4"/><rect x="591.95" fill="#4330c5" style="width:31.56px"/></g>
<g transform="translate(0 630.51)"><rect x="0" fill="#465efb"/><rect x="10.39" fill="#2994ed"/><rect x="20.77" fill="#20a4e3"/><rect x="31.16" fill="#17aeda" style="width:21.17px"/><rect x="51.93" fill="#12b1d6"/><rect x="62.31" fill="#09b4d1"/><rect x="72.7" fill="#03b7cc" style="width:114.64px"/><rect x="186.93" fill="#04b6cd"/><rect x="197.32" fill="#05b6ce"/><rect x="207.7" fill="#06b5cf"/><rect x="218.09" fill="#07b5d0"/><rect x="228.47" fill="#0ab4d2"/><rect x="238.86" fill="#0eb3d4"/><rect x="249.24" fill="#11b1d6"/><rect x="259.63" fill="#14b0d8"/><rect x="270.01" fill="#17aeda"/><rect x="280.4" fill="#1babde"/><rect x="290.78" fill="#1ea7e1"/><rect x="301.17" fill="#20a4e3"/><rect x="311.55" fill="#22a1e4"/><rect x="321.94" fill="#2797eb"/><rect x="332.32" fill="#2d88f6"/><rect x="342.71" fill="#347afd"/><rect x="353.09" fill="#4369fe"/><rect x="363.48" fill="#475af9"/><rect x="373.86" fill="#484ef1"/><rect x="384.25" fill="#4746ea"/><rect x="394.63" fill="#463ee1"/><rect x="405.02" fill="#4538d8"/><rect x="415.4" fill="#4433cc"/><rect x="425.79" fill="#4332c9"/><rect x="436.17" fill="#4330c5"/><rect x="446.56" fill="#422fc2"/><rect x="456.94" fill="#422ebe"/><rect x="467.33" fill="#412ebd"/><rect x="477.71" fill="#412dbd"/><rect x="488.1" fill="#412dbc"/><rect x="498.48" fill="#412dbb" style="width:31.56px"/><rect x="529.64" fill="#412dbc" style="width:31.56px"/><rect x="560.79" fill="#412dbd" style="width:21.17px"/><rect x="581.56" fill="#412ebd"/><rect x="591.95" fill="#412ebe" style="width:21.17px"/><rect x="612.72" fill="#422ebe"/></g>
<g transform="translate(0 657.92)"><rect x="0" fill="#4757f7"/><rect x="10.39" fill="#269ae8"/><rect x="20.77" fill="#1caadf"/><rect x="31.16" fill="#11b1d6" style="width:21.17px"/><rect x="51.93" fill="#09b4d1"/><rect x="62.31" fill="#04b6cd"/><rect x="72.7" fill="#01b8c8" style="width:125.02px"/><rect x="197.32" fill="#01b8c9" style="width:21.17px"/><rect x="218.09" fill="#01b8ca"/><rect x="228.47" fill="#03b7cc"/><rect x="238.86" fill="#05b6ce"/><rect x="249.24" fill="#07b5d0"/><rect x="259.63" fill="#0cb3d3"/><rect x="270.01" fill="#11b1d6"/><rect x="280.4" fill="#13b0d7"/><rect x="290.78" fill="#15afd9"/><rect x="301.17" fill="#19addc"/><rect x="311.55" fill="#1caadf"/><rect x="321.94" fill="#259ce7"/><rect x="332.32" fill="#2d8cf3"/><rect x="342.71" fill="#3876fe"/><rect x="353.09" fill="#4561fc"/><rect x="363.48" fill="#4850f2"/><rect x="373.86" fill="#4743e7"/><rect x="384.25" fill="#463bdd"/><rect x="394.63" fill="#4434d0"/><rect x="405.02" fill="#4332c9"/><rect x="415.4" fill="#422fc2"/><rect x="425.79" fill="#422ebf"/><rect x="436.17" fill="#412dbd"/><rect x="446.56" fill="#412cba"/><rect x="456.94" fill="#402bb7" style="width:166.56px"/></g>
<g transform="translate(0 685.33)"><rect x="0" fill="#4850f2"/><rect x="10.39" fill="#22a1e4"/><rect x="20.77" fill="#15afd9"/><rect x="31.16" fill="#07b5d0" style="width:21.17px"/><rect x="51.93" fill="#03b7cc"/><rect x="62.31" fill="#01b8c8"/><rect x="72.7" fill="#02bac4" style="width:125.02px"/><rect x="197.32" fill="#02bac5"/><rect x="207.7" fill="#01bac5"/><rect x="218.09" fill="#01b9c6"/><rect x="228.47" fill="#01b9c7"/><rect x="238.86" fill="#01b8c9"/><rect x="249.24" fill="#01b8ca"/><rect x="259.63" fill="#04b6cd"/><rect x="270.01" fill="#07b5d0"/><rect x="280.4" fill="#09b4d1"/><rect x="290.78" fill="#0ab4d2"/><rect x="301.17" fill="#0eb3d4"/><rect x="311.55" fill="#11b1d6"/><rect x="321.94" fill="#1ea7e1"/><rect x="332.32" fill="#2d8df2"/><rect x="342.71" fill="#3d70ff"/><rect x="353.09" fill="#4850f2"/><rect x="363.48" fill="#463ee1"/><rect x="373.86" fill="#4433cc"/><rect x="384.25" fill="#4330c5"/><rect x="394.63" fill="#422ebe"/><rect x="405.02" fill="#412dbb"/><rect x="415.4" fill="#402bb7" style="width:52.33px"/><rect x="467.33" fill="#402bb6" style="width:52.33px"/><rect x="519.25" fill="#402ab5" style="width:62.71px"/><rect x="581.56" fill="#402ab4" style="width:41.94px"/></g>
<g transform="translate(0 712.75)"><rect x="0" fill="#4848ec"/><rect x="10.39" fill="#1caadf"/><rect x="20.77" fill="#0ab4d2"/><rect x="31.16" fill="#01b8c8" style="width:21.17px"/><rect x="51.93" fill="#01bac5"/><rect x="62.31" fill="#03bbc2"/><rect x="72.7" fill="#07bcc0" style="width:114.64px"/><rect x="186.93" fill="#06bcc0"/><rect x="197.32" fill="#05bbc1" style="width:21.17px"/><rect x="218.09" fill="#04bbc2" style="width:41.94px"/><rect x="259.63" fill="#02bbc3"/><rect x="270.01" fill="#02bac4"/><rect x="280.4" fill="#01b9c6"/><rect x="290.78" fill="#01b8c8"/><rect x="301.17" fill="#01b8ca"/><rect x="311.55" fill="#03b7cc"/><rect x="321.94" fill="#1fa6e2"/><rect x="332.32" fill="#2d88f6"/><rect x="342.71" fill="#4848ec"/><rect x="353.09" fill="#4330c5"/><rect x="363.48" fill="#402ab4" style="width:21.17px"/><rect x="384.25" fill="#402ab3" style="width:62.71px"/><rect x="446.56" fill="#4029b3"/><rect x="456.94" fill="#3f29b2" style="width:62.71px"/><rect x="519.25" fill="#3f29b1" style="width:62.71px"/><rect x="581.56" fill="#3f29b0" style="width:41.94px"/></g>
<g transform="translate(0 740.16)"><rect x="0" fill="#f8f719"/><rect x="10.39" fill="#1ac0b5"/><rect x="20.77" fill="#16bfb7"/><rect x="31.16" fill="#12beb9" style="width:156.18px"/><rect x="186.93" fill="#13beb9"/><rect x="197.32" fill="#14beb8"/><rect x="207.7" fill="#15bfb7"/><rect x="218.09" fill="#16bfb7" style="width:62.71px"/><rect x="280.4" fill="#18bfb6"/><rect x="290.78" fill="#1ac0b5"/><rect x="301.17" fill="#1cc0b4"/><rect x="311.55" fill="#1ec0b2"/><rect x="321.94" fill="#21c1b0"/><rect x="332.32" fill="#71cd64"/><rect x="342.71" fill="#f5e626"/><rect x="353.09" fill="#f8f719" style="width:270.41px"/></g>
<g transform="translate(0 767.57)"><rect x="0" fill="#fec13a"/><rect x="10.39" fill="#44cb89"/><rect x="20.77" fill="#35c79a"/><rect x="31.16" fill="#2cc4a7" style="width:21.17px"/><rect x="51.93" fill="#29c3a9"/><rect x="62.31" fill="#27c2ac"/><rect x="72.7" fill="#24c2ae" style="width:114.64px"/><rect x="186.93" fill="#25c2ad"/><rect x="197.32" fill="#26c2ad"/><rect x="207.7" fill="#26c2ac"/><rect x="218.09" fill="#27c2ac" style="width:41.94px"/><rect x="259.63" fill="#29c3a9"/><rect x="270.01" fill="#2cc4a7"/><rect x="280.4" fill="#2fc5a3"/><rect x="290.78" fill="#31c6a0"/><rect x="301.17" fill="#37c898"/><rect x="311.55" fill="#3eca8f"/><rect x="321.94" fill="#68cd6b"/><rect x="332.32" fill="#c4c22a"/><rect x="342.71" fill="#fcbc3d"/><rect x="353.09" fill="#feca33"/><rect x="363.48" fill="#fad42e"/><rect x="373.86" fill="#f7dc2a"/><rect x="384.25" fill="#f6e028"/><rect x="394.63" fill="#f5e427"/><rect x="405.02" fill="#f5e725"/><rect x="415.4" fill="#f5ea24"/><rect x="425.79" fill="#f5eb23"/><rect x="436.17" fill="#f5ed22"/><rect x="446.56" fill="#f5ee21"/><rect x="456.94" fill="#f6f020"/><rect x="467.33" fill="#f6f11f"/><rect x="477.71" fill="#f6f21e"/><rect x="488.1" fill="#f6f21d"/><rect x="498.48" fill="#f7f31c" style="width:125.02px"/></g>
<g transform="translate(0 794.99)"><rect x="0" fill="#f0ba36"/><rect x="10.39" fill="#76cc61"/><rect x="20.77" fill="#4ccb83"/><rect x="31.16" fill="#39c895" style="width:21.17px"/><rect x="51.93" fill="#34c79c"/><rect x="62.31" fill="#2fc5a3"/><rect x="72.7" fill="#29c3a9" style="width:114.64px"/><rect x="186.93" fill="#2bc3a8"/><rect x="197.32" fill="#2dc4a6"/><rect x="207.7" fill="#2ec5a4"/><rect x="218.09" fill="#2fc5a2" style="width:41.94px"/><rect x="259.63" fill="#34c79c"/><rect x="270.01" fill="#39c895"/><rect x="280.4" fill="#3fca8e"/><rect x="290.78" fill="#48cb86"/><rect x="301.17" fill="#56cc7b"/><rect x="311.55" fill="#64cd6f"/><rect x="321.94" fill="#96ca48"/><rect x="332.32" fill="#ccc028"/><rect x="342.71" fill="#eaba31"/><rect x="353.09" fill="#fcbc3d"/><rect x="363.48" fill="#fec636"/><rect x="373.86" fill="#fcd030"/><rect x="384.25" fill="#fad42e"/><rect x="394.63" fill="#f9d82c"/><rect x="405.02" fill="#f7dc2a"/><rect x="415.4" fill="#f6e028"/><rect x="425.79" fill="#f5e227"/><rect x="436.17" fill="#f5e427"/><rect x="446.56" fill="#f5e626"/><rect x="456.94" fill="#f5e825"/><rect x="467.33" fill="#f5e924"/><rect x="477.71" fill="#f5ea24"/><rect x="488.1" fill="#f5eb23"/><rect x="498.48" fill="#f5ec22" style="width:21.17px"/><rect x="519.25" fill="#f5ed22"/><rect x="529.64" fill="#f5ee21" style="width:21.17px"/><rect x="550.41" fill="#f6ef20"/><rect x="560.79" fill="#f6f020" style="width:62.71px"/></g>
<g transform="translate(0 822.4)"><rect x="0" fill="#e1bc2b"/><rect x="10.39" fill="#88cb53"/><rect x="20.77" fill="#60cd72"/><rect x="31.16" fill="#41ca8c" style="width:21.17px"/><rect x="51.93" fill="#38c896"/><rect x="62.31" fill="#32c69f"/><rect x="72.7" fill="#2cc4a7" style="width:114.64px"/><rect x="186.93" fill="#2dc4a5"/><rect x="197.32" fill="#2fc5a3"/><rect x="207.7" fill="#30c5a1"/><rect x="218.09" fill="#31c6a0" style="width:21.17px"/><rect x="238.86" fill="#35c79a"/><rect x="249.24" fill="#39c895"/><rect x="259.63" fill="#3fca8e"/><rect x="270.01" fill="#48cb86"/><rect x="280.4" fill="#56cc7b"/><rect x="290.78" fill="#64cd6f"/><rect x="301.17" fill="#7acc5d"/><rect x="311.55" fill="#96ca48"/><rect x="321.94" fill="#c8c129"/><rect x="332.32" fill="#e1bc2b"/><rect x="342.71" fill="#f0ba36"/><rect x="353.09" fill="#fcbc3d"/><rect x="363.48" fill="#fec13a"/><rect x="373.86" fill="#fec835"/><rect x="384.25" fill="#fdcd32"/><rect x="394.63" fill="#fbd22f"/><rect x="405.02" fill="#fad62d"/><rect x="415.4" fill="#f8da2b"/><rect x="425.79" fill="#f7dd2a"/><rect x="436.17" fill="#f6e028"/><rect x="446.56" fill="#f5e227"/><rect x="456.94" fill="#f5e427"/><rect x="467.33" fill="#f5e626"/><rect x="477.71" fill="#f5e725"/><rect x="488.1" fill="#f5e824"/><rect x="498.48" fill="#f5ea24"/><rect x="508.87" fill="#f5ea23"/><rect x="519.25" fill="#f5eb23" style="width:21.17px"/><rect x="540.02" fill="#f5ec22"/><rect x="550.41" fill="#f5eb23" style="width:21.17px"/><rect x="571.18" fill="#f5ea23"/><rect x="581.56" fill="#f5ea24"/><rect x="591.95" fill="#f5e924" style="width:21.17px"/><rect x="612.72" fill="#f5e825"/></g>
<g transform="translate(0 849.81)"><rect x="0" fill="#debd29"/><rect x="10.39" fill="#96ca48"/><rect x="20.77" fill="#6dcd68"/><rect x="31.16" fill="#4ccb83" style="width:21.17px"/><rect x="51.93" fill="#40ca8d"/><rect x="62.31" fill="#37c897"/><rect x="72.7" fill="#31c6a0" style="width:114.64px"/><rect x="186.93" fill="#33c69d"/><rect x="197.32" fill="#35c79a"/><rect x="207.7" fill="#37c898"/><rect x="218.09" fill="#39c895" style="width:21.17px"/><rect x="238.86" fill="#3eca8f"/><rect x="249.24" fill="#44cb89"/><rect x="259.63" fill="#4ecc82"/><rect x="270.01" fill="#58cc79"/><rect x="280.4" fill="#64cd6f"/><rect x="290.78" fill="#71cd64"/><rect x="301.17" fill="#84cc56"/><rect x="311.55" fill="#9fc942"/><rect x="321.94" fill="#c4c22a"/><rect x="332.32" fill="#dabd28"/><rect x="342.71" fill="#eaba31"/><rect x="353.09" fill="#f5ba3a"/><rect x="363.48" fill="#fcbc3d"/><rect x="373.86" fill="#fec13a"/><rect x="384.25" fill="#fec537"/><rect x="394.63" fill="#feca33"/><rect x="405.02" fill="#fccf30"/><rect x="415.4" fill="#fad42e"/><rect x="425.79" fill="#f9d72c"/><rect x="436.17" fill="#f8da2b"/><rect x="446.56" fill="#f7dc2a"/><rect x="456.94" fill="#f6de29"/><rect x="467.33" fill="#f6e029"/><rect x="477.71" fill="#f5e128"/><rect x="488.1" fill="#f5e327"/><rect x="498.48" fill="#f5e427"/><rect x="508.87" fill="#f5e526" style="width:21.17px"/><rect x="529.64" fill="#f5e626" style="width:21.17px"/><rect x="550.41" fill="#f5e526" style="width:21.17px"/><rect x="571.18" fill="#f5e426"/><rect x="581.56" fill="#f5e427"/><rect x="591.95" fill="#f5e327" style="width:21.17px"/><rect x="612.72" fill="#f5e227"/></g>
<g transform="translate(0 877.23)"><rect x="0" fill="#dabd28"/><rect x="10.39" fill="#9ac945"/><rect x="20.77" fill="#7acc5d"/><rect x="31.16" fill="#5ccc76" style="width:21.17px"/><rect x="51.93" fill="#4ecc81"/><rect x="62.31" fill="#42ca8b"/><rect x="72.7" fill="#39c895" style="width:114.64px"/><rect x="186.93" fill="#3bc993"/><rect x="197.32" fill="#3dc991"/><rect x="207.7" fill="#3eca8f"/><rect x="218.09" fill="#41ca8c" style="width:21.17px"/><rect x="238.86" fill="#46cb88"/><rect x="249.24" fill="#4ccb83"/><rect x="259.63" fill="#56cc7b"/><rect x="270.01" fill="#60cd72"/><rect x="280.4" fill="#6dcd68"/><rect x="290.78" fill="#7acc5d"/><rect x="301.17" fill="#8fcb4e"/><rect x="311.55" fill="#a3c83f"/><rect x="321.94" fill="#c1c32d"/><rect x="332.32" fill="#d3bf27"/><rect x="342.71" fill="#e1bc2b"/><rect x="353.09" fill="#edba33"/><rect x="363.48" fill="#f5ba3a"/><rect x="373.86" fill="#fcbc3d"/><rect x="384.25" fill="#fec03b"/><rect x="394.63" fill="#fec437"/><rect x="405.02" fill="#fec835"/><rect x="415.4" fill="#fdcc32"/><rect x="425.79" fill="#fcd030"/><rect x="436.17" fill="#fad42e"/><rect x="446.56" fill="#fad62d"/><rect x="456.94" fill="#f9d82c"/><rect x="467.33" fill="#f8d92b"/><rect x="477.71" fill="#f7db2b"/><rect x="488.1" fill="#f7dd2a"/><rect x="498.48" fill="#f6de29"/><rect x="508.87" fill="#f6df29" style="width:21.17px"/><rect x="529.64" fill="#f6e029"/><rect x="540.02" fill="#f6e028"/><rect x="550.41" fill="#f6df29" style="width:21.17px"/><rect x="571.18" fill="#f6de29" style="width:21.17px"/><rect x="591.95" fill="#f7dd2a" style="width:21.17px"/><rect x="612.72" fill="#f7dc2a"/></g>
<g transform="translate(0 904.64)"><rect x="0" fill="#d7be28"/><rect x="10.39" fill="#9fc942"/><rect x="20.77" fill="#7fcc5a"/><rect x="31.16" fill="#64cd6f" style="width:21.17px"/><rect x="51.93" fill="#58cc79"/><rect x="62.31" fill="#4ccb83"/><rect x="72.7" fill="#41ca8c" style="width:114.64px"/><rect x="186.93" fill="#43ca8b"/><rect x="197.32" fill="#44cb89"/><rect x="207.7" fill="#46cb88"/><rect x="218.09" fill="#48cb86" style="width:21.17px"/><rect x="238.86" fill="#50cc80"/><rect x="249.24" fill="#58cc79"/><rect x="259.63" fill="#60cd72"/><rect x="270.01" fill="#68cd6b"/><rect x="280.4" fill="#73cd63"/><rect x="290.78" fill="#7fcc5a"/><rect x="301.17" fill="#94ca4a"/><rect x="311.55" fill="#a8c73b"/><rect x="321.94" fill="#bbc430"/><rect x="332.32" fill="#ccc028"/><rect x="342.71" fill="#d9be28"/><rect x="353.09" fill="#e4bb2c"/><rect x="363.48" fill="#eeba34"/><rect x="373.86" fill="#f8ba3d"/><rect x="384.25" fill="#fcbd3d"/><rect x="394.63" fill="#fec13a"/><rect x="405.02" fill="#fec437"/><rect x="415.4" fill="#fec835"/><rect x="425.79" fill="#fdcc32"/><rect x="436.17" fill="#fcd030"/><rect x="446.56" fill="#fbd22f"/><rect x="456.94" fill="#fad42e"/><rect x="467.33" fill="#fad52d"/><rect x="477.71" fill="#f9d72c"/><rect x="488.1" fill="#f8d82c"/><rect x="498.48" fill="#f8da2b"/><rect x="508.87" fill="#f8db2b"/><rect x="519.25" fill="#f7db2b"/><rect x="529.64" fill="#f7dc2a" style="width:21.17px"/><rect x="550.41" fill="#f7db2a"/><rect x="560.79" fill="#f7db2b"/><rect x="571.18" fill="#f8da2b" style="width:21.17px"/><rect x="591.95" fill="#f8d92b"/><rect x="602.33" fill="#f8d92c"/><rect x="612.72" fill="#f9d82c"/></g>
<g transform="translate(0 932.05)"><rect x="0" fill="#d7be28"/><rect x="10.39" fill="#a3c83f"/><rect x="20.77" fill="#88cb53"/><rect x="31.16" fill="#6dcd68" style="width:21.17px"/><rect x="51.93" fill="#60cd72"/><rect x="62.31" fill="#54cc7d"/><rect x="72.7" fill="#48cb86" style="width:114.64px"/><rect x="186.93" fill="#4bcb84"/><rect x="197.32" fill="#4ecc82"/><rect x="207.7" fill="#51cc7f"/><rect x="218.09" fill="#54cc7d" style="width:21.17px"/><rect x="238.86" fill="#5acc78"/><rect x="249.24" fill="#60cd72"/><rect x="259.63" fill="#68cd6b"/><rect x="270.01" fill="#71cd64"/><rect x="280.4" fill="#7dcc5c"/><rect x="290.78" fill="#88cb53"/><rect x="301.17" fill="#98c947"/><rect x="311.55" fill="#a8c73b"/><rect x="321.94" fill="#b9c431"/><rect x="332.32" fill="#c8c129"/><rect x="342.71" fill="#d3bf27"/><rect x="353.09" fill="#debd29"/><rect x="363.48" fill="#e7bb2e"/><rect x="373.86" fill="#f0ba36"/><rect x="384.25" fill="#f7ba3c"/><rect x="394.63" fill="#fcbc3d"/><rect x="405.02" fill="#febf3b"/><rect x="415.4" fill="#fec339"/><rect x="425.79" fill="#fec636"/><rect x="436.17" fill="#feca33"/><rect x="446.56" fill="#fdcd32"/><rect x="456.94" fill="#fcd030"/><rect x="467.33" fill="#fbd12f"/><rect x="477.71" fill="#fbd32e"/><rect x="488.1" fill="#fad42e"/><rect x="498.48" fill="#fad62d"/><rect x="508.87" fill="#f9d62d"/><rect x="519.25" fill="#f9d72c" style="width:21.17px"/><rect x="540.02" fill="#f9d82c"/><rect x="550.41" fill="#f9d72c"/><rect x="560.79" fill="#f9d72d"/><rect x="571.18" fill="#f9d62d"/><rect x="581.56" fill="#fad62d"/><rect x="591.95" fill="#fad52d"/><rect x="602.33" fill="#fad52e"/><rect x="612.72" fill="#fad42e"/></g>
<g transform="translate(0 959.47)"><rect x="0" fill="#d3bf27"/><rect x="10.39" fill="#a8c73b"/><rect x="20.77" fill="#8dcb4f"/><rect x="31.16" fill="#76cc61" style="width:21.17px"/><rect x="51.93" fill="#6acd6a"/><rect x="62.31" fill="#5ecd74"/><rect x="72.7" fill="#54cc7d" style="width:114.64px"/><rect x="186.93" fill="#56cc7b"/><rect x="197.32" fill="#58cc79"/><rect x="207.7" fill="#5acc78"/><rect x="218.09" fill="#5ccc76" style="width:21.17px"/><rect x="238.86" fill="#62cd71"/><rect x="249.24" fill="#68cd6b"/><rect x="259.63" fill="#71cd64"/><rect x="270.01" fill="#7acc5d"/><rect x="280.4" fill="#84cc56"/><rect x="290.78" fill="#8dcb4f"/><rect x="301.17" fill="#9dc943"/><rect x="311.55" fill="#acc738"/><rect x="321.94" fill="#bbc430"/><rect x="332.32" fill="#c8c129"/><rect x="342.71" fill="#d2bf27"/><rect x="353.09" fill="#dabd28"/><rect x="363.48" fill="#e4bb2c"/><rect x="373.86" fill="#edba33"/><rect x="384.25" fill="#f2ba38"/><rect x="394.63" fill="#f8ba3d"/><rect x="405.02" fill="#fcbc3d"/><rect x="415.4" fill="#febf3b"/><rect x="425.79" fill="#fec339"/><rect x="436.17" fill="#fec636"/><rect x="446.56" fill="#fec934"/><rect x="456.94" fill="#fdcc32"/><rect x="467.33" fill="#fdcd31"/><rect x="477.71" fill="#fccf30"/><rect x="488.1" fill="#fcd030"/><rect x="498.48" fill="#fbd22f" style="width:21.17px"/><rect x="519.25" fill="#fbd32e" style="width:21.17px"/><rect x="540.02" fill="#fad42e"/><rect x="550.41" fill="#fbd32e" style="width:21.17px"/><rect x="571.18" fill="#fbd22f" style="width:21.17px"/><rect x="591.95" fill="#fcd12f"/><rect x="602.33" fill="#fcd030" style="width:21.17px"/></g>
<g transform="translate(0 986.88)"><rect x="0" fill="#d3bf27"/><rect x="10.39" fill="#acc738"/><rect x="20.77" fill="#94ca4a"/><rect x="31.16" fill="#7dcc5c" style="width:21.17px"/><rect x="51.93" fill="#71cd64"/><rect x="62.31" fill="#66cd6d"/><rect x="72.7" fill="#5ccc76" style="width:114.64px"/><rect x="186.93" fill="#5ecc74"/><rect x="197.32" fill="#60cd72"/><rect x="207.7" fill="#62cd71"/><rect x="218.09" fill="#64cd6f" style="width:21.17px"/><rect x="238.86" fill="#6acd6a"/><rect x="249.24" fill="#71cd64"/><rect x="259.63" fill="#79cc5e"/><rect x="270.01" fill="#81cc58"/><rect x="280.4" fill="#8bcb51"/><rect x="290.78" fill="#94ca4a"/><rect x="301.17" fill="#a2c83f"/><rect x="311.55" fill="#b0c636"/><rect x="321.94" fill="#bdc42f"/><rect x="332.32" fill="#c8c129"/><rect x="342.71" fill="#d1bf27"/><rect x="353.09" fill="#d9be28"/><rect x="363.48" fill="#e1bc2b"/><rect x="373.86" fill="#e9bb2f"/><rect x="384.25" fill="#eeba34"/><rect x="394.63" fill="#f4ba39"/><rect x="405.02" fill="#f9bb3d"/><rect x="415.4" fill="#fcbd3d"/><rect x="425.79" fill="#febf3b"/><rect x="436.17" fill="#fec339"/><rect x="446.56" fill="#fec537"/><rect x="456.94" fill="#fec835"/><rect x="467.33" fill="#feca34"/><rect x="477.71" fill="#fdcb33"/><rect x="488.1" fill="#fdcc32"/><rect x="498.48" fill="#fdce31" style="width:21.17px"/><rect x="519.25" fill="#fccf30" style="width:21.17px"/><rect x="540.02" fill="#fcd030"/><rect x="550.41" fill="#fccf30" style="width:21.17px"/><rect x="571.18" fill="#fccf31"/><rect x="581.56" fill="#fdce31" style="width:21.17px"/><rect x="602.33" fill="#fdcd31"/><rect x="612.72" fill="#fdcd32"/></g>
<g transform="translate(0 1014.29)"><rect x="0" fill="#d3bf27"/><rect x="10.39" fill="#b0c636"/><rect x="20.77" fill="#9ac945"/><rect x="31.16" fill="#84cc56" style="width:21.17px"/><rect x="51.93" fill="#79cc5e"/><rect x="62.31" fill="#6ecd67"/><rect x="72.7" fill="#64cd6f" style="width:114.64px"/><rect x="186.93" fill="#66cd6d"/><rect x="197.32" fill="#68cd6b"/><rect x="207.7" fill="#6acd6a"/><rect x="218.09" fill="#6dcd68" style="width:21.17px"/><rect x="238.86" fill="#73cd63"/><rect x="249.24" fill="#7acc5d"/><rect x="259.63" fill="#81cc58"/><rect x="270.01" fill="#88cb53"/><rect x="280.4" fill="#91ca4c"/><rect x="290.78" fill="#9ac945"/><rect x="301.17" fill="#a8c73b"/><rect x="311.55" fill="#b4c533"/><rect x="321.94" fill="#bfc32e"/><rect x="332.32" fill="#c8c129"/><rect x="342.71" fill="#d0c027"/><rect x="353.09" fill="#d7be28"/><rect x="363.48" fill="#debd29"/><rect x="373.86" fill="#e4bb2c"/><rect x="384.25" fill="#eaba31"/><rect x="394.63" fill="#f0ba36"/><rect x="405.02" fill="#f5ba3a"/><rect x="415.4" fill="#fabb3d"/><rect x="425.79" fill="#fcbd3d"/><rect x="436.17" fill="#febf3b"/><rect x="446.56" fill="#fec239"/><rect x="456.94" fill="#fec437"/><rect x="467.33" fill="#fec636"/><rect x="477.71" fill="#fec735"/><rect x="488.1" fill="#fec934"/><rect x="498.48" fill="#feca33"/><rect x="508.87" fill="#fdcb33" style="width:21.17px"/><rect x="529.64" fill="#fdcc32" style="width:31.56px"/><rect x="560.79" fill="#fdcb32"/><rect x="571.18" fill="#fdcb33" style="width:31.56px"/><rect x="602.33" fill="#feca33" style="width:21.17px"/></g>
<g transform="translate(0 1041.71)"><rect x="0" fill="#d2bf27"/><rect x="10.39" fill="#b2c535"/><rect x="20.77" fill="#9dc943"/><rect x="31.16" fill="#88cb53" style="width:21.17px"/><rect x="51.93" fill="#7ecc5a"/><rect x="62.31" fill="#74cc62"/><rect x="72.7" fill="#6acd6a" style="width:114.64px"/><rect x="186.93" fill="#6dcd68"/><rect x="197.32" fill="#6fcd66"/><rect x="207.7" fill="#71cd64"/><rect x="218.09" fill="#73cd63" style="width:21.17px"/><rect x="238.86" fill="#79cc5e"/><rect x="249.24" fill="#7fcc5a"/><rect x="259.63" fill="#86cb55"/><rect x="270.01" fill="#8dcb4f"/><rect x="280.4" fill="#96ca48"/><rect x="290.78" fill="#9fc942"/><rect x="301.17" fill="#acc738"/><rect x="311.55" fill="#b9c431"/><rect x="321.94" fill="#c1c32d"/><rect x="332.32" fill="#c8c129"/><rect x="342.71" fill="#cfc028"/><rect x="353.09" fill="#d5be28"/><rect x="363.48" fill="#dbbd29"/><rect x="373.86" fill="#e1bc2b"/><rect x="384.25" fill="#e7bb2e"/><rect x="394.63" fill="#edba33"/><rect x="405.02" fill="#f2ba38"/><rect x="415.4" fill="#f8ba3d"/><rect x="425.79" fill="#fbbc3d"/><rect x="436.17" fill="#fdbd3d"/><rect x="446.56" fill="#febf3b"/><rect x="456.94" fill="#fec239"/><rect x="467.33" fill="#fec338"/><rect x="477.71" fill="#fec437"/><rect x="488.1" fill="#fec636"/><rect x="498.48" fill="#fec735"/><rect x="508.87" fill="#fec835" style="width:21.17px"/><rect x="529.64" fill="#fec934" style="width:41.94px"/><rect x="571.18" fill="#fec834"/><rect x="581.56" fill="#fec835" style="width:21.17px"/><rect x="602.33" fill="#fec735" style="width:21.17px"/></g>
<g transform="translate(0 1069.12)"><rect x="0" fill="#d0c027"/><rect x="10.39" fill="#b4c533"/><rect x="20.77" fill="#9fc942"/><rect x="31.16" fill="#8dcb4f" style="width:21.17px"/><rect x="51.93" fill="#84cc56"/><rect x="62.31" fill="#7acc5d"/><rect x="72.7" fill="#71cd64" style="width:114.64px"/><rect x="186.93" fill="#73cd63"/><rect x="197.32" fill="#76cc61"/><rect x="207.7" fill="#78cc5f"/><rect x="218.09" fill="#7acc5d" style="width:21.17px"/><rect x="238.86" fill="#7fcc5a"/><rect x="249.24" fill="#84cc56"/><rect x="259.63" fill="#8bcb51"/><rect x="270.01" fill="#91ca4c"/><rect x="280.4" fill="#9ac945"/><rect x="290.78" fill="#a3c83f"/><rect x="301.17" fill="#b0c636"/><rect x="311.55" fill="#bdc42f"/><rect x="321.94" fill="#c3c22b"/><rect x="332.32" fill="#c8c129"/><rect x="342.71" fill="#cec028"/><rect x="353.09" fill="#d3bf27"/><rect x="363.48" fill="#d9be28"/><rect x="373.86" fill="#debd29"/><rect x="384.25" fill="#e4bb2c"/><rect x="394.63" fill="#eaba31"/><rect x="405.02" fill="#f0ba36"/><rect x="415.4" fill="#f5ba3a"/><rect x="425.79" fill="#f9bb3d"/><rect x="436.17" fill="#fcbc3d"/><rect x="446.56" fill="#fdbd3d"/><rect x="456.94" fill="#febf3b"/><rect x="467.33" fill="#fec03a"/><rect x="477.71" fill="#fec239"/><rect x="488.1" fill="#fec338"/><rect x="498.48" fill="#fec437"/><rect x="508.87" fill="#fec537" style="width:21.17px"/><rect x="529.64" fill="#fec636" style="width:41.94px"/><rect x="571.18" fill="#fec537" style="width:41.94px"/><rect x="612.72" fill="#fec437"/></g>
<g transform="translate(0 1096.53)"><rect x="0" fill="#d0c027"/><rect x="10.39" fill="#b9c431"/><rect x="20.77" fill="#a3c83f"/><rect x="31.16" fill="#91ca4c" style="width:21.17px"/><rect x="51.93" fill="#88cb53"/><rect x="62.31" fill="#7fcc5a"/><rect x="72.7" fill="#76cc61" style="width:114.64px"/><rect x="186.93" fill="#78cc5f"/><rect x="197.32" fill="#7acc5d"/><rect x="207.7" fill="#7dcc5c"/><rect x="218.09" fill="#7fcc5a" style="width:21.17px"/><rect x="238.86" fill="#84cc56"/><rect x="249.24" fill="#88cb53"/><rect x="259.63" fill="#8fcb4e"/><rect x="270.01" fill="#96ca48"/><rect x="280.4" fill="#9fc942"/><rect x="290.78" fill="#a8c73b"/><rect x="301.17" fill="#b2c535"/><rect x="311.55" fill="#bdc42f"/><rect x="321.94" fill="#c3c22b"/><rect x="332.32" fill="#c8c129"/><rect x="342.71" fill="#cec028"/><rect x="353.09" fill="#d3bf27"/><rect x="363.48" fill="#d9be28"/><rect x="373.86" fill="#debd29"/><rect x="384.25" fill="#e2bc2b"/><rect x="394.63" fill="#e7bb2e"/><rect x="405.02" fill="#ebba32"/><rect x="415.4" fill="#f0ba36"/><rect x="425.79" fill="#f4ba39"/><rect x="436.17" fill="#f8ba3d"/><rect x="446.56" fill="#fabb3d"/><rect x="456.94" fill="#fcbc3d"/><rect x="467.33" fill="#fdbd3d"/><rect x="477.71" fill="#febe3c"/><rect x="488.1" fill="#febf3b"/><rect x="498.48" fill="#fec13a" style="width:21.17px"/><rect x="519.25" fill="#fec239" style="width:21.17px"/><rect x="540.02" fill="#fec339" style="width:52.33px"/><rect x="591.95" fill="#fec13a"/><rect x="602.33" fill="#fec03b"/><rect x="612.72" fill="#febf3b"/></g>
<g transform="translate(0 1123.95)"><rect x="0" fill="#d0c027"/><rect x="10.39" fill="#bbc430"/><rect x="20.77" fill="#a7c73c"/><rect x="31.16" fill="#95ca49" style="width:21.17px"/><rect x="51.93" fill="#8ccb50"/><rect x="62.31" fill="#84cc56"/><rect x="72.7" fill="#7ccc5c" style="width:114.64px"/><rect x="186.93" fill="#7ecc5b"/><rect x="197.32" fill="#80cc59"/><rect x="207.7" fill="#82cc58"/><rect x="218.09" fill="#84cc56" style="width:21.17px"/><rect x="238.86" fill="#88cb53"/><rect x="249.24" fill="#8ccb50"/><rect x="259.63" fill="#92ca4c"/><rect x="270.01" fill="#98c947"/><rect x="280.4" fill="#a1c840"/><rect x="290.78" fill="#aac73a"/><rect x="301.17" fill="#b4c534"/><rect x="311.55" fill="#bdc32e"/><rect x="321.94" fill="#c3c22b"/><rect x="332.32" fill="#c8c129"/><rect x="342.71" fill="#cdc028"/><rect x="353.09" fill="#d2bf27"/><rect x="363.48" fill="#d8be28"/><rect x="373.86" fill="#ddbd29"/><rect x="384.25" fill="#e1bc2b"/><rect x="394.63" fill="#e6bb2d"/><rect x="405.02" fill="#eaba31"/><rect x="415.4" fill="#eeba34"/><rect x="425.79" fill="#f2ba38"/><rect x="436.17" fill="#f6ba3b"/><rect x="446.56" fill="#f9ba3d"/><rect x="456.94" fill="#fbbc3d"/><rect x="467.33" fill="#fcbc3d"/><rect x="477.71" fill="#fdbd3d"/><rect x="488.1" fill="#febe3c"/><rect x="498.48" fill="#febf3b"/><rect x="508.87" fill="#fec03b"/><rect x="519.25" fill="#fec03a"/><rect x="529.64" fill="#fec13a" style="width:62.71px"/><rect x="591.95" fill="#fec03b"/><rect x="602.33" fill="#febf3b"/><rect x="612.72" fill="#febe3c"/></g>
<g transform="translate(0 1151.36)"><rect x="0" fill="#d0c027"/><rect x="10.39" fill="#bdc42f"/><rect x="20.77" fill="#aac73a"/><rect x="31.16" fill="#98c947" style="width:21.17px"/><rect x="51.93" fill="#91ca4d"/><rect x="62.31" fill="#89cb52"/><rect x="72.7" fill="#81cc58" style="width:114.64px"/><rect x="186.93" fill="#83cc57"/><rect x="197.32" fill="#85cb56"/><rect x="207.7" fill="#87cb54"/><rect x="218.09" fill="#88cb53" style="width:21.17px"/><rect x="238.86" fill="#8ccb50"/><rect x="249.24" fill="#8fcb4e"/><rect x="259.63" fill="#95ca49"/><rect x="270.01" fill="#9ac945"/><rect x="280.4" fill="#a3c83f"/><rect x="290.78" fill="#acc738"/><rect x="301.17" fill="#b5c533"/><rect x="311.55" fill="#bdc32e"/><rect x="321.94" fill="#c3c22b"/><rect x="332.32" fill="#c8c129"/><rect x="342.71" fill="#cdc028"/><rect x="353.09" fill="#d2bf27"/><rect x="363.48" fill="#d7be28"/><rect x="373.86" fill="#dcbd29"/><rect x="384.25" fill="#e0bc2a"/><rect x="394.63" fill="#e4bb2c"/><rect x="405.02" fill="#e9bb2f"/><rect x="415.4" fill="#edba33"/><rect x="425.79" fill="#f0ba36"/><rect x="436.17" fill="#f4ba39"/><rect x="446.56" fill="#f7ba3c"/><rect x="456.94" fill="#fabb3d"/><rect x="467.33" fill="#fbbc3d"/><rect x="477.71" fill="#fcbc3d"/><rect x="488.1" fill="#fdbd3d"/><rect x="498.48" fill="#febe3c" style="width:21.17px"/><rect x="519.25" fill="#febf3b" style="width:21.17px"/><rect x="540.02" fill="#fec03b" style="width:31.56px"/><rect x="571.18" fill="#febf3b" style="width:21.17px"/><rect x="591.95" fill="#febf3c"/><rect x="602.33" fill="#febe3c"/><rect x="612.72" fill="#fdbd3d"/></g>
<g transform="translate(0 1178.77)"><rect x="0" fill="#d0c027"/><rect x="10.39" fill="#bfc32e"/><rect x="20.77" fill="#adc638"/><rect x="31.16" fill="#9bc944" style="width:21.17px"/><rect x="51.93" fill="#95ca49"/><rect x="62.31" fill="#8ecb4f"/><rect x="72.7" fill="#87cb54" style="width:114.64px"/><rect x="186.93" fill="#89cb53"/><rect x="197.32" fill="#8acb52"/><rect x="207.7" fill="#8bcb51"/><rect x="218.09" fill="#8dcb4f" style="width:21.17px"/><rect x="238.86" fill="#90ca4d"/><rect x="249.24" fill="#93ca4b"/><rect x="259.63" fill="#98ca47"/><rect x="270.01" fill="#9dc943"/><rect x="280.4" fill="#a5c83d"/><rect x="290.78" fill="#aec637"/><rect x="301.17" fill="#b6c532"/><rect x="311.55" fill="#bec32e"/><rect x="321.94" fill="#c3c22b"/><rect x="332.32" fill="#c8c129"/><rect x="342.71" fill="#ccc028"/><rect x="353.09" fill="#d1bf27"/><rect x="363.48" fill="#d6be28"/><rect x="373.86" fill="#dbbd29"/><rect x="384.25" fill="#dfbc2a"/><rect x="394.63" fill="#e2bc2b"/><rect x="405.02" fill="#e7bb2e"/><rect x="415.4" fill="#ebba32"/><rect x="425.79" fill="#efba35"/><rect x="436.17" fill="#f2ba38"/><rect x="446.56" fill="#f5ba3b"/><rect x="456.94" fill="#f9bb3d"/><rect x="467.33" fill="#fabb3d"/><rect x="477.71" fill="#fbbc3d"/><rect x="488.1" fill="#fcbc3d"/><rect x="498.48" fill="#fdbd3d" style="width:21.17px"/><rect x="519.25" fill="#febe3c" style="width:73.1px"/><rect x="591.95" fill="#febd3c"/><rect x="602.33" fill="#fdbd3d"/><rect x="612.72" fill="#fcbd3d"/></g>
<g transform="translate(0 1206.19)"><rect x="0" fill="#d0c027"/><rect x="10.39" fill="#c1c32d"/><rect x="20.77" fill="#b0c636"/><rect x="31.16" fill="#9fc942" style="width:21.17px"/><rect x="51.93" fill="#99c946"/><rect x="62.31" fill="#93ca4b"/><rect x="72.7" fill="#8dcb4f" style="width:114.64px"/><rect x="186.93" fill="#8ecb4f"/><rect x="197.32" fill="#8fcb4e"/><rect x="207.7" fill="#90ca4d"/><rect x="218.09" fill="#91ca4c" style="width:21.17px"/><rect x="238.86" fill="#94ca4a"/><rect x="249.24" fill="#96ca48"/><rect x="259.63" fill="#9ac945"/><rect x="270.01" fill="#9fc942"/><rect x="280.4" fill="#a8c73b"/><rect x="290.78" fill="#b0c636"/><rect x="301.17" fill="#b7c532"/><rect x="311.55" fill="#bec32e"/><rect x="321.94" fill="#c3c22b"/><rect x="332.32" fill="#c8c129"/><rect x="342.71" fill="#ccc028"/><rect x="353.09" fill="#d0c027"/><rect x="363.48" fill="#d5be28"/><rect x="373.86" fill="#dabd28"/><rect x="384.25" fill="#debd29"/><rect x="394.63" fill="#e1bc2b"/><rect x="405.02" fill="#e6bb2d"/><rect x="415.4" fill="#eaba31"/><rect x="425.79" fill="#edba33"/><rect x="436.17" fill="#f0ba36"/><rect x="446.56" fill="#f4ba39"/><rect x="456.94" fill="#f8ba3d"/><rect x="467.33" fill="#f9bb3d"/><rect x="477.71" fill="#fabb3d"/><rect x="488.1" fill="#fbbc3d"/><rect x="498.48" fill="#fcbc3d" style="width:21.17px"/><rect x="519.25" fill="#fcbd3d"/><rect x="529.64" fill="#fdbd3d" style="width:52.33px"/><rect x="581.56" fill="#fcbd3d" style="width:21.17px"/><rect x="602.33" fill="#fcbc3d" style="width:21.17px"/></g>
<g transform="translate(0 1233.6)"><rect x="0" fill="#d0c027"/><rect x="10.39" fill="#c2c22c"/><rect x="20.77" fill="#b3c534"/><rect x="31.16" fill="#a3c83f" style="width:21.17px"/><rect x="51.93" fill="#9ec942"/><rect x="62.31" fill="#98c947"/><rect x="72.7" fill="#92ca4b" style="width:114.64px"/><rect x="186.93" fill="#93ca4a"/><rect x="197.32" fill="#95ca4a"/><rect x="207.7" fill="#96ca49"/><rect x="218.09" fill="#97ca48" style="width:21.17px"/><rect x="238.86" fill="#99c946"/><rect x="249.24" fill="#9bc944"/><rect x="259.63" fill="#9fc941"/><rect x="270.01" fill="#a3c83f"/><rect x="280.4" fill="#abc739"/><rect x="290.78" fill="#b3c534"/><rect x="301.17" fill="#b9c430"/><rect x="311.55" fill="#c0c32d"/><rect x="321.94" fill="#c4c22a"/><rect x="332.32" fill="#c9c129"/><rect x="342.71" fill="#ccc028"/><rect x="353.09" fill="#d0c027"/><rect x="363.48" fill="#d5be28"/><rect x="373.86" fill="#d9bd28"/><rect x="384.25" fill="#dcbd29"/><rect x="394.63" fill="#e0bc2a"/><rect x="405.02" fill="#e4bb2c"/><rect x="415.4" fill="#e8bb2e"/><rect x="425.79" fill="#eaba31"/><rect x="436.17" fill="#edba33"/><rect x="446.56" fill="#f1ba36"/><rect x="456.94" fill="#f4ba3a"/><rect x="467.33" fill="#f5ba3b"/><rect x="477.71" fill="#f7ba3c"/><rect x="488.1" fill="#f8ba3d"/><rect x="498.48" fill="#f9bb3d"/><rect x="508.87" fill="#fabb3d" style="width:21.17px"/><rect x="529.64" fill="#fbbc3d" style="width:52.33px"/><rect x="581.56" fill="#fabb3d" style="width:31.56px"/><rect x="612.72" fill="#f9bb3d"/></g>
<g transform="translate(0 1261.01)"><rect x="0" fill="#d0c027"/><rect x="10.39" fill="#c4c22b"/><rect x="20.77" fill="#b5c533"/><rect x="31.16" fill="#a8c73b" style="width:21.17px"/><rect x="51.93" fill="#a2c83f"/><rect x="62.31" fill="#9dc943"/><rect x="72.7" fill="#98ca47" style="width:114.64px"/><rect x="186.93" fill="#99c946"/><rect x="197.32" fill="#9ac945"/><rect x="207.7" fill="#9bc944"/><rect x="218.09" fill="#9cc944" style="width:21.17px"/><rect x="238.86" fill="#9ec942"/><rect x="249.24" fill="#a1c840"/><rect x="259.63" fill="#a4c83e"/><rect x="270.01" fill="#a8c73b"/><rect x="280.4" fill="#aec637"/><rect x="290.78" fill="#b5c533"/><rect x="301.17" fill="#bbc42f"/><rect x="311.55" fill="#c1c32c"/><rect x="321.94" fill="#c5c22a"/><rect x="332.32" fill="#c9c129"/><rect x="342.71" fill="#cdc028"/><rect x="353.09" fill="#d0c027"/><rect x="363.48" fill="#d4bf28"/><rect x="373.86" fill="#d8be28"/><rect x="384.25" fill="#dbbd29"/><rect x="394.63" fill="#debc2a"/><rect x="405.02" fill="#e2bc2b"/><rect x="415.4" fill="#e5bb2d"/><rect x="425.79" fill="#e8bb2e"/><rect x="436.17" fill="#eaba31"/><rect x="446.56" fill="#edba33"/><rect x="456.94" fill="#f0ba36"/><rect x="467.33" fill="#f2ba37"/><rect x="477.71" fill="#f3ba39"/><rect x="488.1" fill="#f4ba3a"/><rect x="498.48" fill="#f6ba3b"/><rect x="508.87" fill="#f7ba3c"/><rect x="519.25" fill="#f8ba3d" style="width:21.17px"/><rect x="540.02" fill="#f9ba3d" style="width:31.56px"/><rect x="571.18" fill="#f8ba3d" style="width:31.56px"/><rect x="602.33" fill="#f7ba3c" style="width:21.17px"/></g>
<g transform="translate(0 1288.43)"><rect x="0" fill="#d0c027"/><rect x="10.39" fill="#c5c22a"/><rect x="20.77" fill="#b8c431"/><rect x="31.16" fill="#acc738" style="width:21.17px"/><rect x="51.93" fill="#a7c73c"/><rect x="62.31" fill="#a2c83f"/><rect x="72.7" fill="#9dc943" style="width:114.64px"/><rect x="186.93" fill="#9ec942"/><rect x="197.32" fill="#9fc941"/><rect x="207.7" fill="#a0c841"/><rect x="218.09" fill="#a1c840" style="width:21.17px"/><rect x="238.86" fill="#a4c83e"/><rect x="249.24" fill="#a6c83d"/><rect x="259.63" fill="#a9c73b"/><rect x="270.01" fill="#acc738"/><rect x="280.4" fill="#b2c635"/><rect x="290.78" fill="#b8c431"/><rect x="301.17" fill="#bdc32e"/><rect x="311.55" fill="#c3c22b"/><rect x="321.94" fill="#c6c22a"/><rect x="332.32" fill="#cac129"/><rect x="342.71" fill="#cdc028"/><rect x="353.09" fill="#d0c027"/><rect x="363.48" fill="#d3bf27"/><rect x="373.86" fill="#d7be28"/><rect x="384.25" fill="#dabd28"/><rect x="394.63" fill="#ddbd29"/><rect x="405.02" fill="#e0bc2a"/><rect x="415.4" fill="#e3bc2c"/><rect x="425.79" fill="#e5bb2d"/><rect x="436.17" fill="#e7bb2e"/><rect x="446.56" fill="#eabb30"/><rect x="456.94" fill="#ecba33"/><rect x="467.33" fill="#eeba34"/><rect x="477.71" fill="#efba35"/><rect x="488.1" fill="#f1ba36"/><rect x="498.48" fill="#f2ba38"/><rect x="508.87" fill="#f3ba39"/><rect x="519.25" fill="#f4ba3a"/><rect x="529.64" fill="#f5ba3a"/><rect x="540.02" fill="#f5ba3b"/><rect x="550.41" fill="#f6ba3b" style="width:21.17px"/><rect x="571.18" fill="#f5ba3b"/><rect x="581.56" fill="#f5ba3a"/><rect x="591.95" fill="#f4ba3a"/><rect x="602.33" fill="#f4ba39" style="width:21.17px"/></g>
<g transform="translate(0 1315.84)"><rect x="0" fill="#d0c027"/><rect x="10.39" fill="#c7c12a"/><rect x="20.77" fill="#bac430"/><rect x="31.16" fill="#b0c636" style="width:21.17px"/><rect x="51.93" fill="#acc739"/><rect x="62.31" fill="#a7c73c"/><rect x="72.7" fill="#a2c83f" style="width:114.64px"/><rect x="186.93" fill="#a3c83e"/><rect x="197.32" fill="#a5c83e"/><rect x="207.7" fill="#a6c83d"/><rect x="218.09" fill="#a7c73c" style="width:21.17px"/><rect x="238.86" fill="#a9c73b"/><rect x="249.24" fill="#abc739"/><rect x="259.63" fill="#aec637"/><rect x="270.01" fill="#b0c636"/><rect x="280.4" fill="#b5c533"/><rect x="290.78" fill="#bac430"/><rect x="301.17" fill="#bfc32d"/><rect x="311.55" fill="#c4c22a"/><rect x="321.94" fill="#c7c129"/><rect x="332.32" fill="#cac129"/><rect x="342.71" fill="#cdc028"/><rect x="353.09" fill="#d0c027"/><rect x="363.48" fill="#d3bf27"/><rect x="373.86" fill="#d6be28"/><rect x="384.25" fill="#d9be28"/><rect x="394.63" fill="#dcbd29"/><rect x="405.02" fill="#debd29"/><rect x="415.4" fill="#e0bc2a"/><rect x="425.79" fill="#e2bc2b"/><rect x="436.17" fill="#e4bb2c"/><rect x="446.56" fill="#e6bb2d"/><rect x="456.94" fill="#e8bb2f"/><rect x="467.33" fill="#eabb30"/><rect x="477.71" fill="#ebba32"/><rect x="488.1" fill="#edba33"/><rect x="498.48" fill="#eeba34"/><rect x="508.87" fill="#efba35"/><rect x="519.25" fill="#f1ba36"/><rect x="529.64" fill="#f1ba37"/><rect x="540.02" fill="#f2ba38" style="width:21.17px"/><rect x="560.79" fill="#f3ba38"/><rect x="571.18" fill="#f2ba38" style="width:21.17px"/><rect x="591.95" fill="#f1ba37" style="width:21.17px"/><rect x="612.72" fill="#f0ba36"/></g>
<g transform="translate(0 1343.25)"><rect x="0" fill="#d0c027"/><rect x="10.39" fill="#c8c129"/><rect x="20.77" fill="#bdc42f"/><rect x="31.16" fill="#b4c533" style="width:21.17px"/><rect x="51.93" fill="#b0c636"/><rect x="62.31" fill="#acc738"/><rect x="72.7" fill="#a8c73b" style="width:114.64px"/><rect x="186.93" fill="#a9c73b"/><rect x="197.32" fill="#aac73a"/><rect x="207.7" fill="#abc739"/><rect x="218.09" fill="#acc738" style="width:21.17px"/><rect x="238.86" fill="#aec637"/><rect x="249.24" fill="#b0c636"/><rect x="259.63" fill="#b2c535"/><rect x="270.01" fill="#b4c533"/><rect x="280.4" fill="#b9c431"/><rect x="290.78" fill="#bdc42f"/><rect x="301.17" fill="#c1c32c"/><rect x="311.55" fill="#c6c22a"/><rect x="321.94" fill="#c8c129"/><rect x="332.32" fill="#cbc129"/><rect x="342.71" fill="#cdc028"/><rect x="353.09" fill="#d0c027"/><rect x="363.48" fill="#d2bf27"/><rect x="373.86" fill="#d5be28"/><rect x="384.25" fill="#d8be28"/><rect x="394.63" fill="#dabd28"/><rect x="405.02" fill="#dcbd29"/><rect x="415.4" fill="#debd29"/><rect x="425.79" fill="#dfbc2a"/><rect x="436.17" fill="#e1bc2b"/><rect x="446.56" fill="#e2bc2b"/><rect x="456.94" fill="#e4bb2c"/><rect x="467.33" fill="#e6bb2d"/><rect x="477.71" fill="#e7bb2e"/><rect x="488.1" fill="#e9bb2f"/><rect x="498.48" fill="#eaba31"/><rect x="508.87" fill="#ebba32"/><rect x="519.25" fill="#edba33"/><rect x="529.64" fill="#eeba34" style="width:21.17px"/><rect x="550.41" fill="#efba35"/><rect x="560.79" fill="#f0ba36"/><rect x="571.18" fill="#efba35" style="width:21.17px"/><rect x="591.95" fill="#eeba34"/><rect x="602.33" fill="#edba34"/><rect x="612.72" fill="#edba33"/></g>
<g transform="translate(0 1370.67)"><rect x="0" fill="#d0c027"/><rect x="10.39" fill="#c4c22a"/><rect x="20.77" fill="#c1c32d"/><rect x="31.16" fill="#bdc42f"/><rect x="41.54" fill="#b9c431"/><rect x="51.93" fill="#b4c533"/><rect x="62.31" fill="#b0c636"/><rect x="72.7" fill="#acc738" style="width:114.64px"/><rect x="186.93" fill="#aec637"/><rect x="197.32" fill="#b0c636"/><rect x="207.7" fill="#b2c535"/><rect x="218.09" fill="#b4c533" style="width:41.94px"/><rect x="259.63" fill="#bdc42f"/><rect x="270.01" fill="#c4c22a"/><rect x="280.4" fill="#c5c22a"/><rect x="290.78" fill="#c6c22a" style="width:21.17px"/><rect x="311.55" fill="#c7c12a"/><rect x="321.94" fill="#c9c129"/><rect x="332.32" fill="#cbc029"/><rect x="342.71" fill="#cec028"/><rect x="353.09" fill="#d0c027"/><rect x="363.48" fill="#d2bf27"/><rect x="373.86" fill="#d3bf27"/><rect x="384.25" fill="#d5be28"/><rect x="394.63" fill="#d7be28"/><rect x="405.02" fill="#d9be28"/><rect x="415.4" fill="#dabd28"/><rect x="425.79" fill="#dcbd29"/><rect x="436.17" fill="#debd29"/><rect x="446.56" fill="#dfbc2a"/><rect x="456.94" fill="#e1bc2b"/><rect x="467.33" fill="#e2bc2b"/><rect x="477.71" fill="#e4bb2c"/><rect x="488.1" fill="#e6bb2d"/><rect x="498.48" fill="#e7bb2e"/><rect x="508.87" fill="#e9bb2f"/><rect x="519.25" fill="#eaba31"/><rect x="529.64" fill="#ebba31"/><rect x="540.02" fill="#ebba32"/><rect x="550.41" fill="#ecba33"/><rect x="560.79" fill="#edba33"/><rect x="571.18" fill="#ecba32"/><rect x="581.56" fill="#ebba31"/><rect x="591.95" fill="#e9bb30"/><rect x="602.33" fill="#e8bb2f"/><rect x="612.72" fill="#e7bb2e"/></g>
<g transform="translate(0 1398.08)"><rect x="0" fill="#d0c027"/><rect x="10.39" fill="#c4c22a"/><rect x="20.77" fill="#c3c22b"/><rect x="31.16" fill="#c1c32d"/><rect x="41.54" fill="#bfc32e"/><rect x="51.93" fill="#bbc430"/><rect x="62.31" fill="#b6c532"/><rect x="72.7" fill="#b2c535" style="width:114.64px"/><rect x="186.93" fill="#b4c534"/><rect x="197.32" fill="#b5c533"/><rect x="207.7" fill="#b7c532"/><rect x="218.09" fill="#b9c431" style="width:41.94px"/><rect x="259.63" fill="#c0c32d"/><rect x="270.01" fill="#c6c22a"/><rect x="280.4" fill="#c7c12a" style="width:31.56px"/><rect x="311.55" fill="#c8c129"/><rect x="321.94" fill="#cac129"/><rect x="332.32" fill="#ccc028"/><rect x="342.71" fill="#cec028"/><rect x="353.09" fill="#d0c027"/><rect x="363.48" fill="#d1bf27"/><rect x="373.86" fill="#d2bf27"/><rect x="384.25" fill="#d4bf28"/><rect x="394.63" fill="#d5be28"/><rect x="405.02" fill="#d7be28"/><rect x="415.4" fill="#d9be28"/><rect x="425.79" fill="#dabd28"/><rect x="436.17" fill="#dcbd29"/><rect x="446.56" fill="#ddbd29"/><rect x="456.94" fill="#debc2a"/><rect x="467.33" fill="#e0bc2a"/><rect x="477.71" fill="#e1bc2b"/><rect x="488.1" fill="#e2bc2b"/><rect x="498.48" fill="#e3bc2c"/><rect x="508.87" fill="#e4bb2c"/><rect x="519.25" fill="#e6bb2d" style="width:21.17px"/><rect x="540.02" fill="#e7bb2e"/><rect x="550.41" fill="#e8bb2f"/><rect x="560.79" fill="#e9bb2f"/><rect x="571.18" fill="#e8bb2e"/><rect x="581.56" fill="#e7bb2e"/><rect x="591.95" fill="#e6bb2d"/><rect x="602.33" fill="#e5bb2d"/><rect x="612.72" fill="#e4bb2c"/></g>
<g transform="translate(0 1425.49)"><rect x="0" fill="#d0c027"/><rect x="10.39" fill="#c4c22a" style="width:41.94px"/><rect x="51.93" fill="#c1c32d"/><rect x="62.31" fill="#bdc42f"/><rect x="72.7" fill="#b9c431" style="width:114.64px"/><rect x="186.93" fill="#bac430"/><rect x="197.32" fill="#bbc430"/><rect x="207.7" fill="#bcc42f"/><rect x="218.09" fill="#bdc42f" style="width:41.94px"/><rect x="259.63" fill="#c3c22b"/><rect x="270.01" fill="#c8c129" style="width:52.33px"/><rect x="321.94" fill="#cac129"/><rect x="332.32" fill="#ccc028"/><rect x="342.71" fill="#cec028"/><rect x="353.09" fill="#d0c027"/><rect x="363.48" fill="#d1bf27"/><rect x="373.86" fill="#d2bf27" style="width:21.17px"/><rect x="394.63" fill="#d3bf27"/><rect x="405.02" fill="#d5be28"/><rect x="415.4" fill="#d7be28"/><rect x="425.79" fill="#d9be28"/><rect x="436.17" fill="#dabd28"/><rect x="446.56" fill="#dbbd29"/><rect x="456.94" fill="#dcbd29"/><rect x="467.33" fill="#ddbd29"/><rect x="477.71" fill="#debd29"/><rect x="488.1" fill="#debc2a"/><rect x="498.48" fill="#dfbc2a"/><rect x="508.87" fill="#e0bc2a"/><rect x="519.25" fill="#e1bc2b"/><rect x="529.64" fill="#e2bc2b" style="width:21.17px"/><rect x="550.41" fill="#e3bc2c"/><rect x="560.79" fill="#e4bb2c"/><rect x="571.18" fill="#e3bb2c"/><rect x="581.56" fill="#e3bc2c"/><rect x="591.95" fill="#e2bc2b"/><rect x="602.33" fill="#e1bc2b" style="width:21.17px"/></g>
<g transform="translate(0 1452.91)"><rect x="0" fill="#d0c027"/><rect x="10.39" fill="#c8c129" style="width:41.94px"/><rect x="51.93" fill="#c6c22a"/><rect x="62.31" fill="#c3c22b"/><rect x="72.7" fill="#c1c32d" style="width:114.64px"/><rect x="186.93" fill="#c1c32c"/><rect x="197.32" fill="#c2c32c"/><rect x="207.7" fill="#c2c22c"/><rect x="218.09" fill="#c3c22b" style="width:41.94px"/><rect x="259.63" fill="#c6c22a"/><rect x="270.01" fill="#cac129" style="width:52.33px"/><rect x="321.94" fill="#ccc028"/><rect x="332.32" fill="#cdc028"/><rect x="342.71" fill="#cec028"/><rect x="353.09" fill="#d0c027"/><rect x="363.48" fill="#d0bf27"/><rect x="373.86" fill="#d1bf27" style="width:21.17px"/><rect x="394.63" fill="#d2bf27"/><rect x="405.02" fill="#d3bf27"/><rect x="415.4" fill="#d4bf28"/><rect x="425.79" fill="#d5be28"/><rect x="436.17" fill="#d7be28"/><rect x="446.56" fill="#d8be28"/><rect x="456.94" fill="#d9be28"/><rect x="467.33" fill="#d9bd28"/><rect x="477.71" fill="#dabd28"/><rect x="488.1" fill="#dbbd28"/><rect x="498.48" fill="#dbbd29"/><rect x="508.87" fill="#dcbd29" style="width:21.17px"/><rect x="529.64" fill="#ddbd29"/><rect x="540.02" fill="#debd29"/><rect x="550.41" fill="#debc2a"/><rect x="560.79" fill="#dfbc2a" style="width:21.17px"/><rect x="581.56" fill="#debd29"/><rect x="591.95" fill="#ddbd29" style="width:21.17px"/><rect x="612.72" fill="#dcbd29"/></g>
<g transform="translate(0 1480.32)"><rect x="0" fill="#d0c027"/><rect x="10.39" fill="#ccc028" style="width:41.94px"/><rect x="51.93" fill="#cbc129"/><rect x="62.31" fill="#cac129"/><rect x="72.7" fill="#c8c129" style="width:187.33px"/><rect x="259.63" fill="#cac129"/><rect x="270.01" fill="#ccc028" style="width:52.33px"/><rect x="321.94" fill="#cdc028"/><rect x="332.32" fill="#cec028"/><rect x="342.71" fill="#cfc028"/><rect x="353.09" fill="#d0c027" style="width:52.33px"/><rect x="405.02" fill="#d1bf27"/><rect x="415.4" fill="#d2bf27" style="width:21.17px"/><rect x="436.17" fill="#d3bf27"/><rect x="446.56" fill="#d4bf28"/><rect x="456.94" fill="#d5be28"/><rect x="467.33" fill="#d6be28"/><rect x="477.71" fill="#d7be28" style="width:52.33px"/><rect x="529.64" fill="#d8be28"/><rect x="540.02" fill="#d9be28"/><rect x="550.41" fill="#d9bd28"/><rect x="560.79" fill="#dabd28" style="width:21.17px"/><rect x="581.56" fill="#d9be28"/><rect x="591.95" fill="#d8be28"/><rect x="602.33" fill="#d7be28" style="width:21.17px"/></g>
<g transform="translate(0 1507.73)"><rect x="0" fill="#d0c027" style="width:21.17px"/><rect x="20.77" fill="#d0c028" style="width:52.33px"/><rect x="72.7" fill="#cfc028" style="width:280.8px"/><rect x="353.09" fill="#cec028" style="width:270.41px"/></g>
<g transform="translate(0 1535.15)"><rect x="0" fill="#d0c027"/><rect x="10.39" fill="#d3bf27" style="width:41.94px"/><rect x="51.93" fill="#d6be28"/><rect x="62.31" fill="#d8be28"/><rect x="72.7" fill="#dabd28" style="width:114.64px"/><rect x="186.93" fill="#d9bd28"/><rect x="197.32" fill="#d9be28"/><rect x="207.7" fill="#d8be28"/><rect x="218.09" fill="#d7be28" style="width:41.94px"/><rect x="259.63" fill="#d3bf27"/><rect x="270.01" fill="#d0c027" style="width:52.33px"/><rect x="321.94" fill="#cfc028"/><rect x="332.32" fill="#cec028"/><rect x="342.71" fill="#cdc028"/><rect x="353.09" fill="#ccc028"/><rect x="363.48" fill="#cbc129"/><rect x="373.86" fill="#cac129"/><rect x="384.25" fill="#c9c129"/><rect x="394.63" fill="#c8c129" style="width:52.33px"/><rect x="446.56" fill="#c7c129"/><rect x="456.94" fill="#c6c22a"/><rect x="467.33" fill="#c5c22a"/><rect x="477.71" fill="#c4c22a" style="width:52.33px"/><rect x="529.64" fill="#c4c22b"/><rect x="540.02" fill="#c3c22b"/><rect x="550.41" fill="#c2c32c"/><rect x="560.79" fill="#c1c32d" style="width:62.71px"/></g>
<g transform="translate(0 1562.56)"><rect x="0" fill="#d0c027"/><rect x="10.39" fill="#dabd28" style="width:41.94px"/><rect x="51.93" fill="#dfbc2a"/><rect x="62.31" fill="#e3bc2c"/><rect x="72.7" fill="#e7bb2e" style="width:114.64px"/><rect x="186.93" fill="#e6bb2d"/><rect x="197.32" fill="#e4bb2c"/><rect x="207.7" fill="#e2bc2b"/><rect x="218.09" fill="#e1bc2b" style="width:41.94px"/><rect x="259.63" fill="#dfbc2a"/><rect x="270.01" fill="#debd29"/><rect x="280.4" fill="#d9be28"/><rect x="290.78" fill="#d3bf27" style="width:31.56px"/><rect x="321.94" fill="#d2bf27"/><rect x="332.32" fill="#d0c027"/><rect x="342.71" fill="#cec028"/><rect x="353.09" fill="#ccc028"/><rect x="363.48" fill="#cac129"/><rect x="373.86" fill="#c8c129"/><rect x="384.25" fill="#c4c22a"/><rect x="394.63" fill="#c1c32d"/><rect x="405.02" fill="#bfc32e"/><rect x="415.4" fill="#bdc42f"/><rect x="425.79" fill="#b9c431"/><rect x="436.17" fill="#b4c533"/><rect x="446.56" fill="#b2c535"/><rect x="456.94" fill="#b0c636"/><rect x="467.33" fill="#aec637"/><rect x="477.71" fill="#acc738"/><rect x="488.1" fill="#aac73a"/><rect x="498.48" fill="#a8c73b"/><rect x="508.87" fill="#a5c83d"/><rect x="519.25" fill="#a3c83f"/><rect x="529.64" fill="#a2c83f"/><rect x="540.02" fill="#a1c840"/><rect x="550.41" fill="#a0c841"/><rect x="560.79" fill="#9fc942"/><rect x="571.18" fill="#9ec942"/><rect x="581.56" fill="#9dc943"/><rect x="591.95" fill="#9cc944"/><rect x="602.33" fill="#9bc944"/><rect x="612.72" fill="#9ac945"/></g>
<g transform="translate(0 1589.97)"><rect x="0" fill="#c8c129"/><rect x="10.39" fill="#dabd28"/><rect x="20.77" fill="#edba33"/><rect x="31.16" fill="#f8ba3d"/><rect x="41.54" fill="#fdbd3d"/><rect x="51.93" fill="#febf3b"/><rect x="62.31" fill="#fec13a"/><rect x="72.7" fill="#fec339" style="width:114.64px"/><rect x="186.93" fill="#fec13a"/><rect x="197.32" fill="#fec03b"/><rect x="207.7" fill="#febe3c"/><rect x="218.09" fill="#fdbd3d"/><rect x="228.47" fill="#fcbc3d"/><rect x="238.86" fill="#fabb3d"/><rect x="249.24" fill="#f8ba3d"/><rect x="259.63" fill="#f4ba39"/><rect x="270.01" fill="#f0ba36"/><rect x="280.4" fill="#eaba31"/><rect x="290.78" fill="#e4bb2c"/><rect x="301.17" fill="#dfbc2a"/><rect x="311.55" fill="#dabd28"/><rect x="321.94" fill="#d3bf27"/><rect x="332.32" fill="#ccc028"/><rect x="342.71" fill="#c6c22a"/><rect x="353.09" fill="#c1c32d"/><rect x="363.48" fill="#b9c431"/><rect x="373.86" fill="#b0c636"/><rect x="384.25" fill="#a8c73b"/><rect x="394.63" fill="#9fc942"/><rect x="405.02" fill="#98c947"/><rect x="415.4" fill="#91ca4c"/><rect x="425.79" fill="#88cb53"/><rect x="436.17" fill="#7fcc5a"/><rect x="446.56" fill="#7acc5d"/><rect x="456.94" fill="#76cc61"/><rect x="467.33" fill="#71cd64"/><rect x="477.71" fill="#6dcd68"/><rect x="488.1" fill="#68cd6b"/><rect x="498.48" fill="#64cd6f"/><rect x="508.87" fill="#60cd72"/><rect x="519.25" fill="#5ccc76"/><rect x="529.64" fill="#5bcc77"/><rect x="540.02" fill="#5acc78"/><rect x="550.41" fill="#59cc79"/><rect x="560.79" fill="#58cc79" style="width:62.71px"/></g>
<g transform="translate(0 1617.39)"><rect x="0" fill="#2e85f8"/><rect x="10.39" fill="#4367fd"/><rect x="20.77" fill="#4758f8"/><rect x="31.16" fill="#484cef"/><rect x="41.54" fill="#4745e9"/><rect x="51.93" fill="#4740e4"/><rect x="62.31" fill="#463bde"/><rect x="72.7" fill="#4537d6" style="width:114.64px"/><rect x="186.93" fill="#4639da"/><rect x="197.32" fill="#463bdd"/><rect x="207.7" fill="#463de0"/><rect x="218.09" fill="#473fe3"/><rect x="228.47" fill="#4745e9"/><rect x="238.86" fill="#4848ec"/><rect x="249.24" fill="#484cef"/><rect x="259.63" fill="#4850f3"/><rect x="270.01" fill="#4755f6"/><rect x="280.4" fill="#475bf9"/><rect x="290.78" fill="#4561fc"/><rect x="301.17" fill="#4564fd"/><rect x="311.55" fill="#4367fd"/><rect x="321.94" fill="#406cfe"/><rect x="332.32" fill="#3974fe"/><rect x="342.71" fill="#327cfc"/><rect x="353.09" fill="#2e83f9"/><rect x="363.48" fill="#2d8cf3"/><rect x="373.86" fill="#2b91ef"/><rect x="384.25" fill="#2796eb"/><rect x="394.63" fill="#259ce7"/><rect x="405.02" fill="#249fe6"/><rect x="415.4" fill="#22a1e4"/><rect x="425.79" fill="#20a4e3"/><rect x="436.17" fill="#1ea7e1"/><rect x="446.56" fill="#1babde"/><rect x="456.94" fill="#17aeda"/><rect x="467.33" fill="#14b0d8"/><rect x="477.71" fill="#11b1d6"/><rect x="488.1" fill="#0eb3d4"/><rect x="498.48" fill="#0ab4d2"/><rect x="508.87" fill="#07b5d0"/><rect x="519.25" fill="#05b6ce"/><rect x="529.64" fill="#05b6cd"/><rect x="540.02" fill="#04b6cd"/><rect x="550.41" fill="#04b6cc"/><rect x="560.79" fill="#03b7cc" style="width:41.94px"/><rect x="602.33" fill="#06b5cf"/><rect x="612.72" fill="#0ab4d2"/></g>
</g>
<g clip-path="url(#clipb)">
<path class="vh" d="M1439.88 101V1745.8M1450.27 101V1745.8M1471.04 101V1745.8M1481.42 101V1745.8M1502.2 101V1745.8M1512.58 101V1745.8M1533.35 101V1745.8M1543.74 101V1745.8M1564.51 101V1745.8M1574.89 101V1745.8M1595.66 101V1745.8M1606.05 101V1745.8M1626.82 101V1745.8M1637.2 101V1745.8M1657.97 101V1745.8M1668.36 101V1745.8M1689.13 101V1745.8M1699.51 101V1745.8M1720.28 101V1745.8M1730.67 101V1745.8M1751.44 101V1745.8M1761.82 101V1745.8M1782.59 101V1745.8M1792.98 101V1745.8M1813.75 101V1745.8M1824.13 101V1745.8M1844.9 101V1745.8M1855.29 101V1745.8M1876.06 101V1745.8M1886.44 101V1745.8M1907.21 101V1745.8M1917.6 101V1745.8M1938.37 101V1745.8M1948.75 101V1745.8M1969.52 101V1745.8M1979.91 101V1745.8M2000.68 101V1745.8M2011.06 101V1745.8M2031.83 101V1745.8M2042.22 101V1745.8M1460.65 101V1745.8M1491.81 101V1745.8M1522.97 101V1745.8M1554.12 101V1745.8M1585.28 101V1745.8M1616.43 101V1745.8M1647.59 101V1745.8M1678.74 101V1745.8M1709.9 101V1745.8M1741.05 101V1745.8M1772.21 101V1745.8M1803.36 101V1745.8M1834.52 101V1745.8M1865.67 101V1745.8M1896.83 101V1745.8M1927.98 101V1745.8M1959.14 101V1745.8M1990.29 101V1745.8M2021.45 101V1745.8M1428.9 101V1745.8M2053.2 101V1745.8"/>
<path class="hh" d="M1429.5 128.41H2052.6M1429.5 155.83H2052.6M1429.5 183.24H2052.6M1429.5 210.65H2052.6M1429.5 238.07H2052.6M1429.5 265.48H2052.6M1429.5 292.89H2052.6M1429.5 320.31H2052.6M1429.5 347.72H2052.6M1429.5 375.13H2052.6M1429.5 402.55H2052.6M1429.5 429.96H2052.6M1429.5 457.37H2052.6M1429.5 484.79H2052.6M1429.5 512.2H2052.6M1429.5 539.61H2052.6M1429.5 567.03H2052.6M1429.5 594.44H2052.6M1429.5 621.85H2052.6M1429.5 649.27H2052.6M1429.5 676.68H2052.6M1429.5 704.09H2052.6M1429.5 731.51H2052.6M1429.5 758.92H2052.6M1429.5 786.33H2052.6M1429.5 813.75H2052.6M1429.5 841.16H2052.6M1429.5 868.57H2052.6M1429.5 895.99H2052.6M1429.5 923.4H2052.6M1429.5 950.81H2052.6M1429.5 978.23H2052.6M1429.5 1005.64H2052.6M1429.5 1033.05H2052.6M1429.5 1060.47H2052.6M1429.5 1087.88H2052.6M1429.5 1115.29H2052.6M1429.5 1142.71H2052.6M1429.5 1170.12H2052.6M1429.5 1197.53H2052.6M1429.5 1224.95H2052.6M1429.5 1252.36H2052.6M1429.5 1279.77H2052.6M1429.5 1307.19H2052.6M1429.5 1334.6H2052.6M1429.5 1362.01H2052.6M1429.5 1389.43H2052.6M1429.5 1416.84H2052.6M1429.5 1444.25H2052.6M1429.5 1471.67H2052.6M1429.5 1499.08H2052.6M1429.5 1526.49H2052.6M1429.5 1553.91H2052.6M1429.5 1581.32H2052.6M1429.5 1608.73H2052.6M1429.5 1636.15H2052.6M1429.5 1663.56H2052.6M1429.5 1690.97H2052.6M1429.5 1718.39H2052.6M1429.5 101.4H2052.6M1429.5 1745.4H2052.6"/>
</g>
<path class="vf" d="M1460.65 101V1745.8M1491.81 101V1745.8M1522.97 101V1745.8M1554.12 101V1745.8M1585.28 101V1745.8M1616.43 101V1745.8M1647.59 101V1745.8M1678.74 101V1745.8M1709.9 101V1745.8M1741.05 101V1745.8M1772.21 101V1745.8M1803.36 101V1745.8M1834.52 101V1745.8M1865.67 101V1745.8M1896.83 101V1745.8M1927.98 101V1745.8M1959.14 101V1745.8M1990.29 101V1745.8M2021.45 101V1745.8"/>
<path class="vc" d="M1439.88 101V1745.8M1450.27 101V1745.8M1471.04 101V1745.8M1481.42 101V1745.8M1502.2 101V1745.8M1512.58 101V1745.8M1533.35 101V1745.8M1543.74 101V1745.8M1564.51 101V1745.8M1574.89 101V1745.8M1595.66 101V1745.8M1606.05 101V1745.8M1626.82 101V1745.8M1637.2 101V1745.8M1657.97 101V1745.8M1668.36 101V1745.8M1689.13 101V1745.8M1699.51 101V1745.8M1720.28 101V1745.8M1730.67 101V1745.8M1751.44 101V1745.8M1761.82 101V1745.8M1782.59 101V1745.8M1792.98 101V1745.8M1813.75 101V1745.8M1824.13 101V1745.8M1844.9 101V1745.8M1855.29 101V1745.8M1876.06 101V1745.8M1886.44 101V1745.8M1907.21 101V1745.8M1917.6 101V1745.8M1938.37 101V1745.8M1948.75 101V1745.8M1969.52 101V1745.8M1979.91 101V1745.8M2000.68 101V1745.8M2011.06 101V1745.8M2031.83 101V1745.8M2042.22 101V1745.8"/>
<path class="hc" d="M1429.5 128.41H2052.6M1429.5 155.83H2052.6M1429.5 183.24H2052.6M1429.5 210.65H2052.6M1429.5 238.07H2052.6M1429.5 265.48H2052.6M1429.5 292.89H2052.6M1429.5 320.31H2052.6M1429.5 347.72H2052.6M1429.5 375.13H2052.6M1429.5 402.55H2052.6M1429.5 429.96H2052.6M1429.5 457.37H2052.6M1429.5 484.79H2052.6M1429.5 512.2H2052.6M1429.5 539.61H2052.6M1429.5 567.03H2052.6M1429.5 594.44H2052.6M1429.5 621.85H2052.6M1429.5 649.27H2052.6M1429.5 676.68H2052.6M1429.5 704.09H2052.6M1429.5 731.51H2052.6M1429.5 758.92H2052.6M1429.5 786.33H2052.6M1429.5 813.75H2052.6M1429.5 841.16H2052.6M1429.5 868.57H2052.6M1429.5 895.99H2052.6M1429.5 923.4H2052.6M1429.5 950.81H2052.6M1429.5 978.23H2052.6M1429.5 1005.64H2052.6M1429.5 1033.05H2052.6M1429.5 1060.47H2052.6M1429.5 1087.88H2052.6M1429.5 1115.29H2052.6M1429.5 1142.71H2052.6M1429.5 1170.12H2052.6M1429.5 1197.53H2052.6M1429.5 1224.95H2052.6M1429.5 1252.36H2052.6M1429.5 1279.77H2052.6M1429.5 1307.19H2052.6M1429.5 1334.6H2052.6M1429.5 1362.01H2052.6M1429.5 1389.43H2052.6M1429.5 1416.84H2052.6M1429.5 1444.25H2052.6M1429.5 1471.67H2052.6M1429.5 1499.08H2052.6M1429.5 1526.49H2052.6M1429.5 1553.91H2052.6M1429.5 1581.32H2052.6M1429.5 1608.73H2052.6M1429.5 1636.15H2052.6M1429.5 1663.56H2052.6M1429.5 1690.97H2052.6M1429.5 1718.39H2052.6"/>
<rect class="bd" x="1428.3" y="101" width="625.5" height="1644.8"/>
<rect class="gv" x="1479.75" y="100" width="26" height="1646.8"/>
<rect class="gv" x="1623.3" y="100" width="26" height="1646.8"/>
<rect class="gh" x="1488.85" y="92.2" width="149.85" height="19.7"/>
<rect class="gh" x="1488.85" y="1734.9" width="149.85" height="19.6"/>
<rect x="928.6" y="101" width="60" height="1642.6" fill="url(#par)"/>
<rect class="cbd" x="928.6" y="101" width="60" height="1642.6"/>
<path class="tk" d="M974.3 153.6H988.6M974.3 312.66H988.6M974.3 471.71H988.6M974.3 630.77H988.6M974.3 789.82H988.6M974.3 948.88H988.6M974.3 1107.93H988.6M974.3 1266.99H988.6M974.3 1426.04H988.6M974.3 1585.1H988.6"/>
<rect x="2111.4" y="101" width="60.8" height="1642.6" fill="url(#par)"/>
<rect class="cbd" x="2111.4" y="101" width="57.4" height="1642.6"/>
<path class="tk" d="M2157 136.9H2168.8M2157 401.1H2168.8M2157 665.3H2168.8M2157 929.5H2168.8M2157 1193.7H2168.8M2157 1457.9H2168.8M2157 1722.1H2168.8"/>
<text class="t" x="227.5" y="1767.6" text-anchor="end">0</text>
<text class="t" x="227.5" y="1493.47" text-anchor="end">0.5</text>
<text class="t" x="227.5" y="1219.33" text-anchor="end">1</text>
<text class="t" x="227.5" y="945.2" text-anchor="end">1.5</text>
<text class="t" x="227.5" y="671.07" text-anchor="end">2</text>
<text class="t" x="227.5" y="396.93" text-anchor="end">2.5</text>
<text class="t" x="227.5" y="122.8" text-anchor="end">3</text>
<text class="t" x="244.8" y="1820.8" text-anchor="middle">0</text>
<text class="t" x="453.3" y="1820.8" text-anchor="middle">1</text>
<text class="t" x="661.8" y="1820.8" text-anchor="middle">2</text>
<text class="t" x="870.3" y="1820.8" text-anchor="middle">3</text>
<text class="l" x="558.95" y="1905.8" text-anchor="middle">LO Voltage (V)</text>
<text class="l" x="119" y="922.6" text-anchor="middle" transform="rotate(-90 119 922.6)">RF Voltage (V)</text>
<text class="ti" x="557.75" y="83" text-anchor="middle">(a)</text>
<text class="t" x="1410.5" y="1767.6" text-anchor="end">0</text>
<text class="t" x="1410.5" y="1493.47" text-anchor="end">0.5</text>
<text class="t" x="1410.5" y="1219.33" text-anchor="end">1</text>
<text class="t" x="1410.5" y="945.2" text-anchor="end">1.5</text>
<text class="t" x="1410.5" y="671.07" text-anchor="end">2</text>
<text class="t" x="1410.5" y="396.93" text-anchor="end">2.5</text>
<text class="t" x="1410.5" y="122.8" text-anchor="end">3</text>
<text class="t" x="1427.8" y="1820.8" text-anchor="middle">0</text>
<text class="t" x="1636.3" y="1820.8" text-anchor="middle">1</text>
<text class="t" x="1844.8" y="1820.8" text-anchor="middle">2</text>
<text class="t" x="2053.3" y="1820.8" text-anchor="middle">3</text>
<text class="l" x="1741.95" y="1905.8" text-anchor="middle">LO Voltage (V)</text>
<text class="l" x="1302" y="922.6" text-anchor="middle" transform="rotate(-90 1302 922.6)">RF Voltage (V)</text>
<text class="ti" x="1740.75" y="83" text-anchor="middle">(b)</text>
<text class="ct" x="1013.8" y="173" text-anchor="start">-55</text>
<text class="ct" x="1013.8" y="332.06" text-anchor="start">-60</text>
<text class="ct" x="1013.8" y="491.11" text-anchor="start">-65</text>
<text class="ct" x="1013.8" y="650.17" text-anchor="start">-70</text>
<text class="ct" x="1013.8" y="809.22" text-anchor="start">-75</text>
<text class="ct" x="1013.8" y="968.28" text-anchor="start">-80</text>
<text class="ct" x="1013.8" y="1127.33" text-anchor="start">-85</text>
<text class="ct" x="1013.8" y="1286.39" text-anchor="start">-90</text>
<text class="ct" x="1013.8" y="1445.44" text-anchor="start">-95</text>
<text class="ct" x="1013.8" y="1604.5" text-anchor="start">-100</text>
<text class="ct" x="1013.8" y="1763.56" text-anchor="start">-105</text>
<text class="ct" x="2196.6" y="158.8" text-anchor="start">3</text>
<text class="ct" x="2196.6" y="420.9" text-anchor="start">2</text>
<text class="ct" x="2196.6" y="685.1" text-anchor="start">1</text>
<text class="ct" x="2196.6" y="949.3" text-anchor="start">0</text>
<text class="ct" x="2194.3" y="1213.5" text-anchor="start">-1</text>
<text class="ct" x="2194.3" y="1477.7" text-anchor="start">-2</text>
<text class="ct" x="2194.3" y="1741.9" text-anchor="start">-3</text>
<text class="cl" x="1191.3" y="921.2" text-anchor="middle" transform="rotate(-90 1191.3 921.2)">Power (dBm)</text>
<text class="cl" x="2316" y="921.2" text-anchor="middle" transform="rotate(-90 2316 921.2)">Phase (Rad)</text>
</svg></body></html>
